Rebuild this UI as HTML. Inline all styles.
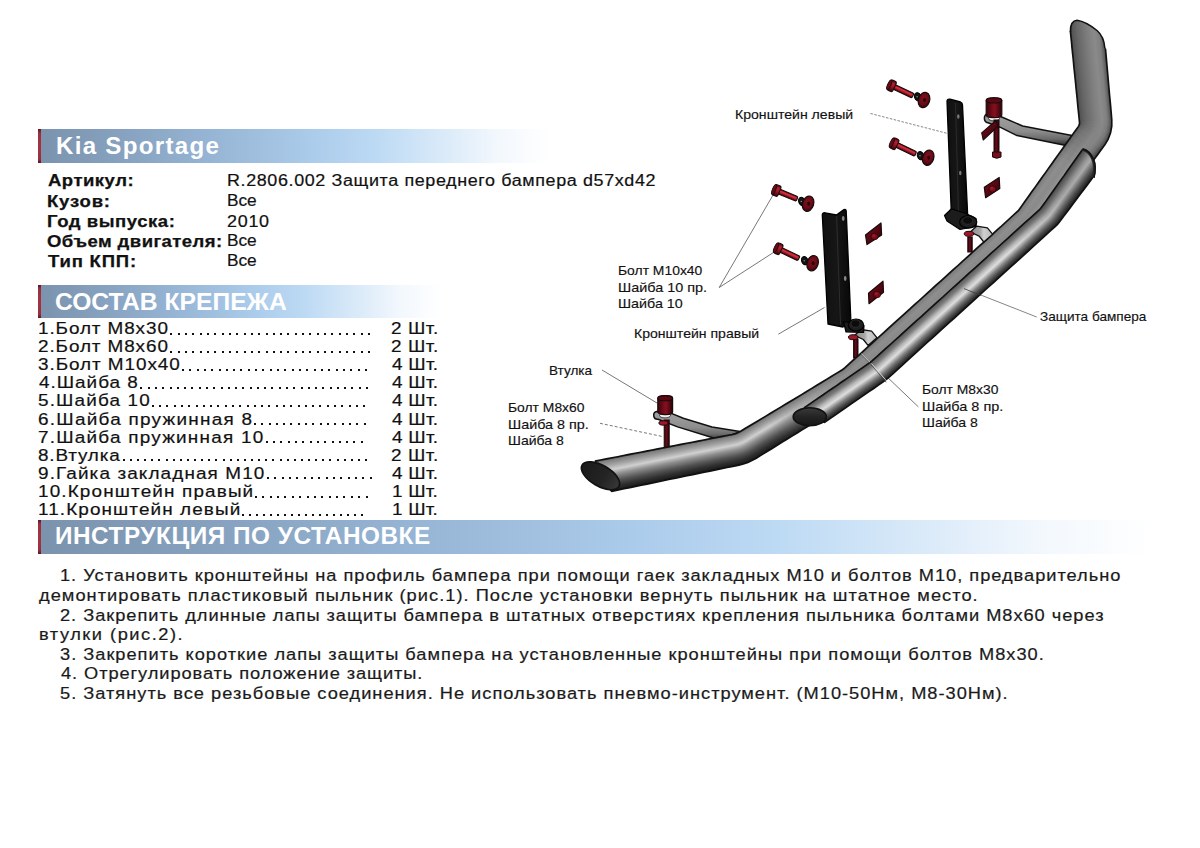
<!DOCTYPE html><html><head><meta charset="utf-8"><style>

*{margin:0;padding:0}
html,body{width:1200px;height:848px;overflow:hidden;background:#fff}
body{position:relative;font-family:"Liberation Sans",sans-serif;color:#111}
.t{position:absolute;white-space:pre;line-height:1;transform-origin:0 0}
i{position:absolute;width:2px;height:2px;background:#111}
.bar{position:absolute;left:38.6px;border-left:2.9px solid #9a2f3f;
 background:linear-gradient(90deg,#7b93ad 0%,#88a4c2 18%,#98b6d6 35%,#aacaea 52%,#bddaf4 66%,#dcebf9 80%,#f3f8fd 90%,#fff 100%);}
.bar:before{content:"";position:absolute;left:-2.9px;top:0;width:2.9px;height:100%;
 background:linear-gradient(180deg,#5a1822 0%,#9a2f3f 12%,#a5333f 50%,#9a2f3f 88%,#5a1822 100%)}

</style></head><body>
<div class="bar" style="top:129px;height:34px;width:509px"></div>
<div class="bar" style="top:285px;height:33.2px;width:400px"></div>
<div class="bar" style="top:520px;height:33.5px;width:1116px"></div>
<svg style="position:absolute;left:0;top:0" width="1200" height="848" viewBox="0 0 1200 848"><defs>
<linearGradient id="rcyl" x1="0" y1="0" x2="1" y2="0"><stop offset="0" stop-color="#3a040c"/><stop offset="0.35" stop-color="#6e0c18"/><stop offset="0.55" stop-color="#86101e"/><stop offset="1" stop-color="#2a0208"/></linearGradient>
<linearGradient id="rshaft" x1="0" y1="0" x2="0" y2="1"><stop offset="0" stop-color="#5a0812"/><stop offset="0.35" stop-color="#e0303f"/><stop offset="0.6" stop-color="#b01e2e"/><stop offset="1" stop-color="#3a040c"/></linearGradient>
<linearGradient id="rhead" x1="0" y1="0" x2="0" y2="1"><stop offset="0" stop-color="#5a0812"/><stop offset="0.3" stop-color="#b81e30"/><stop offset="0.6" stop-color="#8e1422"/><stop offset="1" stop-color="#3a040c"/></linearGradient>
<linearGradient id="rvshaft" x1="0" y1="0" x2="1" y2="0"><stop offset="0" stop-color="#2a0208"/><stop offset="0.45" stop-color="#6a0a16"/><stop offset="1" stop-color="#2a0208"/></linearGradient>
<radialGradient id="rwash" cx="0.45" cy="0.4" r="0.6"><stop offset="0" stop-color="#86101e"/><stop offset="0.7" stop-color="#640a16"/><stop offset="1" stop-color="#3a040c"/></radialGradient>
<linearGradient id="rnut" x1="0" y1="0" x2="1" y2="1"><stop offset="0" stop-color="#7a0e1a"/><stop offset="0.5" stop-color="#560812"/><stop offset="1" stop-color="#2a0208"/></linearGradient>
<linearGradient id="blk" x1="0" y1="0" x2="1" y2="0"><stop offset="0" stop-color="#101010"/><stop offset="0.5" stop-color="#161616"/><stop offset="1" stop-color="#080808"/></linearGradient>
<linearGradient id="clamp" x1="0" y1="0" x2="1" y2="0"><stop offset="0" stop-color="#8a8a8a"/><stop offset="0.45" stop-color="#a8a8a8"/><stop offset="0.6" stop-color="#d0d0d0"/><stop offset="1" stop-color="#b8b8b8"/></linearGradient>
<linearGradient id="arm" x1="0" y1="0" x2="0" y2="1"><stop offset="0" stop-color="#a2a2a2"/><stop offset="0.55" stop-color="#8e8e8e"/><stop offset="0.8" stop-color="#6a6a6a"/><stop offset="1" stop-color="#2a2a2a"/></linearGradient>
<linearGradient id="g1" gradientUnits="userSpaceOnUse" x1="1069.5" y1="22.4" x2="1102.9" y2="19.3"><stop offset="0.000" stop-color="#303030"/><stop offset="0.050" stop-color="#545454"/><stop offset="0.200" stop-color="#666666"/><stop offset="0.350" stop-color="#727272"/><stop offset="0.500" stop-color="#7e7e7e"/><stop offset="0.700" stop-color="#8a8a8a"/><stop offset="0.850" stop-color="#808080"/><stop offset="0.950" stop-color="#5e5e5e"/><stop offset="1.000" stop-color="#303030"/></linearGradient><linearGradient id="g2" gradientUnits="userSpaceOnUse" x1="1070.0" y1="28.1" x2="1103.4" y2="25.0"><stop offset="0.000" stop-color="#303030"/><stop offset="0.050" stop-color="#545454"/><stop offset="0.200" stop-color="#666666"/><stop offset="0.350" stop-color="#727272"/><stop offset="0.500" stop-color="#7e7e7e"/><stop offset="0.700" stop-color="#8a8a8a"/><stop offset="0.850" stop-color="#808080"/><stop offset="0.950" stop-color="#5e5e5e"/><stop offset="1.000" stop-color="#303030"/></linearGradient><linearGradient id="g3" gradientUnits="userSpaceOnUse" x1="1070.6" y1="33.8" x2="1103.9" y2="30.7"><stop offset="0.000" stop-color="#303030"/><stop offset="0.050" stop-color="#545454"/><stop offset="0.200" stop-color="#666666"/><stop offset="0.350" stop-color="#727272"/><stop offset="0.500" stop-color="#7e7e7e"/><stop offset="0.700" stop-color="#8a8a8a"/><stop offset="0.850" stop-color="#808080"/><stop offset="0.950" stop-color="#5e5e5e"/><stop offset="1.000" stop-color="#303030"/></linearGradient><linearGradient id="g4" gradientUnits="userSpaceOnUse" x1="1071.2" y1="39.6" x2="1104.4" y2="36.4"><stop offset="0.000" stop-color="#303030"/><stop offset="0.050" stop-color="#545454"/><stop offset="0.200" stop-color="#666666"/><stop offset="0.350" stop-color="#727272"/><stop offset="0.500" stop-color="#7e7e7e"/><stop offset="0.700" stop-color="#8a8a8a"/><stop offset="0.850" stop-color="#808080"/><stop offset="0.950" stop-color="#5e5e5e"/><stop offset="1.000" stop-color="#303030"/></linearGradient><linearGradient id="g5" gradientUnits="userSpaceOnUse" x1="1071.7" y1="45.3" x2="1104.9" y2="42.1"><stop offset="0.000" stop-color="#303030"/><stop offset="0.050" stop-color="#545454"/><stop offset="0.200" stop-color="#666666"/><stop offset="0.350" stop-color="#727272"/><stop offset="0.500" stop-color="#7e7e7e"/><stop offset="0.700" stop-color="#8a8a8a"/><stop offset="0.850" stop-color="#808080"/><stop offset="0.950" stop-color="#5e5e5e"/><stop offset="1.000" stop-color="#303030"/></linearGradient><linearGradient id="g6" gradientUnits="userSpaceOnUse" x1="1072.3" y1="51.0" x2="1105.4" y2="47.8"><stop offset="0.000" stop-color="#303030"/><stop offset="0.050" stop-color="#545454"/><stop offset="0.200" stop-color="#666666"/><stop offset="0.350" stop-color="#727272"/><stop offset="0.500" stop-color="#7e7e7e"/><stop offset="0.700" stop-color="#8a8a8a"/><stop offset="0.850" stop-color="#808080"/><stop offset="0.950" stop-color="#5e5e5e"/><stop offset="1.000" stop-color="#303030"/></linearGradient><linearGradient id="g7" gradientUnits="userSpaceOnUse" x1="1072.9" y1="56.7" x2="1105.9" y2="53.5"><stop offset="0.000" stop-color="#303030"/><stop offset="0.050" stop-color="#545454"/><stop offset="0.200" stop-color="#666666"/><stop offset="0.350" stop-color="#727272"/><stop offset="0.500" stop-color="#7e7e7e"/><stop offset="0.700" stop-color="#8a8a8a"/><stop offset="0.850" stop-color="#808080"/><stop offset="0.950" stop-color="#5e5e5e"/><stop offset="1.000" stop-color="#303030"/></linearGradient><linearGradient id="g8" gradientUnits="userSpaceOnUse" x1="1073.5" y1="62.4" x2="1106.4" y2="59.3"><stop offset="0.000" stop-color="#303030"/><stop offset="0.050" stop-color="#545454"/><stop offset="0.200" stop-color="#666666"/><stop offset="0.350" stop-color="#727272"/><stop offset="0.500" stop-color="#7e7e7e"/><stop offset="0.700" stop-color="#8a8a8a"/><stop offset="0.850" stop-color="#808080"/><stop offset="0.950" stop-color="#5e5e5e"/><stop offset="1.000" stop-color="#303030"/></linearGradient><linearGradient id="g9" gradientUnits="userSpaceOnUse" x1="1074.0" y1="68.1" x2="1107.0" y2="65.0"><stop offset="0.000" stop-color="#303030"/><stop offset="0.050" stop-color="#545454"/><stop offset="0.200" stop-color="#666666"/><stop offset="0.350" stop-color="#727272"/><stop offset="0.500" stop-color="#7e7e7e"/><stop offset="0.700" stop-color="#8a8a8a"/><stop offset="0.850" stop-color="#808080"/><stop offset="0.950" stop-color="#5e5e5e"/><stop offset="1.000" stop-color="#303030"/></linearGradient><linearGradient id="g10" gradientUnits="userSpaceOnUse" x1="1074.6" y1="73.8" x2="1107.5" y2="70.7"><stop offset="0.000" stop-color="#303030"/><stop offset="0.050" stop-color="#545454"/><stop offset="0.200" stop-color="#666666"/><stop offset="0.350" stop-color="#727272"/><stop offset="0.500" stop-color="#7e7e7e"/><stop offset="0.700" stop-color="#8a8a8a"/><stop offset="0.850" stop-color="#808080"/><stop offset="0.950" stop-color="#5e5e5e"/><stop offset="1.000" stop-color="#303030"/></linearGradient><linearGradient id="g11" gradientUnits="userSpaceOnUse" x1="1075.2" y1="79.5" x2="1108.0" y2="76.4"><stop offset="0.000" stop-color="#303030"/><stop offset="0.050" stop-color="#545454"/><stop offset="0.200" stop-color="#666666"/><stop offset="0.350" stop-color="#727272"/><stop offset="0.500" stop-color="#7e7e7e"/><stop offset="0.700" stop-color="#8a8a8a"/><stop offset="0.850" stop-color="#808080"/><stop offset="0.950" stop-color="#5e5e5e"/><stop offset="1.000" stop-color="#303030"/></linearGradient><linearGradient id="g12" gradientUnits="userSpaceOnUse" x1="1075.7" y1="85.2" x2="1108.5" y2="82.1"><stop offset="0.000" stop-color="#303030"/><stop offset="0.050" stop-color="#545454"/><stop offset="0.200" stop-color="#666666"/><stop offset="0.350" stop-color="#727272"/><stop offset="0.500" stop-color="#7e7e7e"/><stop offset="0.700" stop-color="#8a8a8a"/><stop offset="0.850" stop-color="#808080"/><stop offset="0.950" stop-color="#5e5e5e"/><stop offset="1.000" stop-color="#303030"/></linearGradient><linearGradient id="g13" gradientUnits="userSpaceOnUse" x1="1076.3" y1="90.9" x2="1109.0" y2="87.8"><stop offset="0.000" stop-color="#303030"/><stop offset="0.050" stop-color="#545454"/><stop offset="0.200" stop-color="#666666"/><stop offset="0.350" stop-color="#727272"/><stop offset="0.500" stop-color="#7e7e7e"/><stop offset="0.700" stop-color="#8a8a8a"/><stop offset="0.850" stop-color="#808080"/><stop offset="0.950" stop-color="#5e5e5e"/><stop offset="1.000" stop-color="#303030"/></linearGradient><linearGradient id="g14" gradientUnits="userSpaceOnUse" x1="1076.9" y1="96.6" x2="1109.5" y2="93.5"><stop offset="0.000" stop-color="#303030"/><stop offset="0.050" stop-color="#545454"/><stop offset="0.200" stop-color="#666666"/><stop offset="0.350" stop-color="#727272"/><stop offset="0.500" stop-color="#7e7e7e"/><stop offset="0.700" stop-color="#8a8a8a"/><stop offset="0.850" stop-color="#808080"/><stop offset="0.950" stop-color="#5e5e5e"/><stop offset="1.000" stop-color="#303030"/></linearGradient><linearGradient id="g15" gradientUnits="userSpaceOnUse" x1="1077.5" y1="102.3" x2="1110.0" y2="99.2"><stop offset="0.000" stop-color="#303030"/><stop offset="0.050" stop-color="#545454"/><stop offset="0.200" stop-color="#666666"/><stop offset="0.350" stop-color="#727272"/><stop offset="0.500" stop-color="#7e7e7e"/><stop offset="0.700" stop-color="#8a8a8a"/><stop offset="0.850" stop-color="#808080"/><stop offset="0.950" stop-color="#5e5e5e"/><stop offset="1.000" stop-color="#303030"/></linearGradient><linearGradient id="g16" gradientUnits="userSpaceOnUse" x1="1078.0" y1="108.0" x2="1110.5" y2="104.9"><stop offset="0.000" stop-color="#303030"/><stop offset="0.050" stop-color="#545454"/><stop offset="0.200" stop-color="#666666"/><stop offset="0.350" stop-color="#727272"/><stop offset="0.500" stop-color="#7e7e7e"/><stop offset="0.700" stop-color="#8a8a8a"/><stop offset="0.850" stop-color="#808080"/><stop offset="0.950" stop-color="#5e5e5e"/><stop offset="1.000" stop-color="#303030"/></linearGradient><linearGradient id="g17" gradientUnits="userSpaceOnUse" x1="1078.6" y1="113.7" x2="1111.0" y2="110.6"><stop offset="0.000" stop-color="#303030"/><stop offset="0.050" stop-color="#545454"/><stop offset="0.200" stop-color="#666666"/><stop offset="0.350" stop-color="#727272"/><stop offset="0.500" stop-color="#7e7e7e"/><stop offset="0.700" stop-color="#8a8a8a"/><stop offset="0.850" stop-color="#808080"/><stop offset="0.950" stop-color="#5e5e5e"/><stop offset="1.000" stop-color="#303030"/></linearGradient><linearGradient id="g18" gradientUnits="userSpaceOnUse" x1="1079.1" y1="119.1" x2="1111.6" y2="116.7"><stop offset="0.000" stop-color="#303030"/><stop offset="0.050" stop-color="#545454"/><stop offset="0.200" stop-color="#666666"/><stop offset="0.350" stop-color="#727272"/><stop offset="0.500" stop-color="#7e7e7e"/><stop offset="0.700" stop-color="#8a8a8a"/><stop offset="0.850" stop-color="#808080"/><stop offset="0.950" stop-color="#5e5e5e"/><stop offset="1.000" stop-color="#303030"/></linearGradient><linearGradient id="g19" gradientUnits="userSpaceOnUse" x1="1079.4" y1="122.4" x2="1111.9" y2="123.0"><stop offset="0.000" stop-color="#303030"/><stop offset="0.050" stop-color="#585858"/><stop offset="0.200" stop-color="#696969"/><stop offset="0.350" stop-color="#747474"/><stop offset="0.500" stop-color="#808080"/><stop offset="0.700" stop-color="#898989"/><stop offset="0.850" stop-color="#7d7d7d"/><stop offset="0.950" stop-color="#5b5b5b"/><stop offset="1.000" stop-color="#2f2f2f"/></linearGradient><linearGradient id="g20" gradientUnits="userSpaceOnUse" x1="1079.3" y1="123.8" x2="1111.2" y2="129.5"><stop offset="0.000" stop-color="#303030"/><stop offset="0.050" stop-color="#5a5a5a"/><stop offset="0.200" stop-color="#6c6c6c"/><stop offset="0.350" stop-color="#767676"/><stop offset="0.500" stop-color="#818181"/><stop offset="0.700" stop-color="#888888"/><stop offset="0.850" stop-color="#7a7a7a"/><stop offset="0.950" stop-color="#595959"/><stop offset="1.000" stop-color="#2e2e2e"/></linearGradient><linearGradient id="g21" gradientUnits="userSpaceOnUse" x1="1079.1" y1="124.8" x2="1109.4" y2="136.1"><stop offset="0.000" stop-color="#303030"/><stop offset="0.050" stop-color="#5d5d5d"/><stop offset="0.200" stop-color="#6f6f6f"/><stop offset="0.350" stop-color="#777777"/><stop offset="0.500" stop-color="#828282"/><stop offset="0.700" stop-color="#878787"/><stop offset="0.850" stop-color="#787878"/><stop offset="0.950" stop-color="#565656"/><stop offset="1.000" stop-color="#2d2d2d"/></linearGradient><linearGradient id="g22" gradientUnits="userSpaceOnUse" x1="1078.5" y1="126.1" x2="1106.6" y2="142.0"><stop offset="0.000" stop-color="#303030"/><stop offset="0.050" stop-color="#606060"/><stop offset="0.200" stop-color="#717171"/><stop offset="0.350" stop-color="#797979"/><stop offset="0.500" stop-color="#848484"/><stop offset="0.700" stop-color="#858585"/><stop offset="0.850" stop-color="#757575"/><stop offset="0.950" stop-color="#545454"/><stop offset="1.000" stop-color="#2b2b2b"/></linearGradient><linearGradient id="g23" gradientUnits="userSpaceOnUse" x1="1076.6" y1="128.9" x2="1103.1" y2="147.2"><stop offset="0.000" stop-color="#303030"/><stop offset="0.050" stop-color="#636363"/><stop offset="0.200" stop-color="#757575"/><stop offset="0.350" stop-color="#7b7b7b"/><stop offset="0.500" stop-color="#858585"/><stop offset="0.700" stop-color="#848484"/><stop offset="0.850" stop-color="#727272"/><stop offset="0.950" stop-color="#515151"/><stop offset="1.000" stop-color="#2a2a2a"/></linearGradient><linearGradient id="g24" gradientUnits="userSpaceOnUse" x1="1073.5" y1="133.3" x2="1099.5" y2="152.1"><stop offset="0.000" stop-color="#303030"/><stop offset="0.050" stop-color="#676767"/><stop offset="0.200" stop-color="#787878"/><stop offset="0.350" stop-color="#7d7d7d"/><stop offset="0.500" stop-color="#878787"/><stop offset="0.700" stop-color="#838383"/><stop offset="0.850" stop-color="#6e6e6e"/><stop offset="0.950" stop-color="#4d4d4d"/><stop offset="1.000" stop-color="#292929"/></linearGradient><linearGradient id="g25" gradientUnits="userSpaceOnUse" x1="1070.1" y1="138.0" x2="1096.1" y2="156.8"><stop offset="0.000" stop-color="#303030"/><stop offset="0.050" stop-color="#6b6b6b"/><stop offset="0.200" stop-color="#7c7c7c"/><stop offset="0.350" stop-color="#7f7f7f"/><stop offset="0.500" stop-color="#898989"/><stop offset="0.700" stop-color="#818181"/><stop offset="0.850" stop-color="#6b6b6b"/><stop offset="0.950" stop-color="#4a4a4a"/><stop offset="1.000" stop-color="#272727"/></linearGradient><linearGradient id="g26" gradientUnits="userSpaceOnUse" x1="1066.8" y1="142.6" x2="1092.7" y2="161.4"><stop offset="0.000" stop-color="#303030"/><stop offset="0.050" stop-color="#6f6f6f"/><stop offset="0.200" stop-color="#808080"/><stop offset="0.350" stop-color="#828282"/><stop offset="0.500" stop-color="#8b8b8b"/><stop offset="0.700" stop-color="#808080"/><stop offset="0.850" stop-color="#676767"/><stop offset="0.950" stop-color="#464646"/><stop offset="1.000" stop-color="#262626"/></linearGradient><linearGradient id="g27" gradientUnits="userSpaceOnUse" x1="1063.4" y1="147.3" x2="1089.3" y2="166.0"><stop offset="0.000" stop-color="#303030"/><stop offset="0.050" stop-color="#737373"/><stop offset="0.200" stop-color="#848484"/><stop offset="0.350" stop-color="#848484"/><stop offset="0.500" stop-color="#8d8d8d"/><stop offset="0.700" stop-color="#7e7e7e"/><stop offset="0.850" stop-color="#646464"/><stop offset="0.950" stop-color="#434343"/><stop offset="1.000" stop-color="#242424"/></linearGradient><linearGradient id="g28" gradientUnits="userSpaceOnUse" x1="1060.1" y1="152.0" x2="1085.9" y2="170.7"><stop offset="0.000" stop-color="#303030"/><stop offset="0.050" stop-color="#777777"/><stop offset="0.200" stop-color="#888888"/><stop offset="0.350" stop-color="#868686"/><stop offset="0.500" stop-color="#8f8f8f"/><stop offset="0.700" stop-color="#7c7c7c"/><stop offset="0.850" stop-color="#606060"/><stop offset="0.950" stop-color="#404040"/><stop offset="1.000" stop-color="#222222"/></linearGradient><linearGradient id="g29" gradientUnits="userSpaceOnUse" x1="1056.8" y1="156.7" x2="1082.5" y2="175.3"><stop offset="0.000" stop-color="#303030"/><stop offset="0.050" stop-color="#7b7b7b"/><stop offset="0.200" stop-color="#8c8c8c"/><stop offset="0.350" stop-color="#898989"/><stop offset="0.500" stop-color="#919191"/><stop offset="0.700" stop-color="#7b7b7b"/><stop offset="0.850" stop-color="#5c5c5c"/><stop offset="0.950" stop-color="#3c3c3c"/><stop offset="1.000" stop-color="#212121"/></linearGradient><linearGradient id="g30" gradientUnits="userSpaceOnUse" x1="1053.4" y1="161.4" x2="1079.1" y2="179.9"><stop offset="0.000" stop-color="#303030"/><stop offset="0.050" stop-color="#7e7e7e"/><stop offset="0.200" stop-color="#8e8e8e"/><stop offset="0.350" stop-color="#8a8a8a"/><stop offset="0.500" stop-color="#929292"/><stop offset="0.700" stop-color="#7a7a7a"/><stop offset="0.850" stop-color="#5a5a5a"/><stop offset="0.950" stop-color="#3a3a3a"/><stop offset="1.000" stop-color="#202020"/></linearGradient><linearGradient id="g31" gradientUnits="userSpaceOnUse" x1="1050.1" y1="166.1" x2="1075.7" y2="184.6"><stop offset="0.000" stop-color="#303030"/><stop offset="0.050" stop-color="#7e7e7e"/><stop offset="0.200" stop-color="#8e8e8e"/><stop offset="0.350" stop-color="#8a8a8a"/><stop offset="0.500" stop-color="#929292"/><stop offset="0.700" stop-color="#7a7a7a"/><stop offset="0.850" stop-color="#5a5a5a"/><stop offset="0.950" stop-color="#3a3a3a"/><stop offset="1.000" stop-color="#202020"/></linearGradient><linearGradient id="g32" gradientUnits="userSpaceOnUse" x1="1046.7" y1="170.7" x2="1072.3" y2="189.2"><stop offset="0.000" stop-color="#303030"/><stop offset="0.050" stop-color="#7e7e7e"/><stop offset="0.200" stop-color="#8e8e8e"/><stop offset="0.350" stop-color="#8a8a8a"/><stop offset="0.500" stop-color="#929292"/><stop offset="0.700" stop-color="#7a7a7a"/><stop offset="0.850" stop-color="#5a5a5a"/><stop offset="0.950" stop-color="#3a3a3a"/><stop offset="1.000" stop-color="#202020"/></linearGradient><linearGradient id="g33" gradientUnits="userSpaceOnUse" x1="1043.4" y1="175.4" x2="1068.9" y2="193.8"><stop offset="0.000" stop-color="#303030"/><stop offset="0.050" stop-color="#7e7e7e"/><stop offset="0.200" stop-color="#8e8e8e"/><stop offset="0.350" stop-color="#8a8a8a"/><stop offset="0.500" stop-color="#929292"/><stop offset="0.700" stop-color="#7a7a7a"/><stop offset="0.850" stop-color="#5a5a5a"/><stop offset="0.950" stop-color="#3a3a3a"/><stop offset="1.000" stop-color="#202020"/></linearGradient><linearGradient id="g34" gradientUnits="userSpaceOnUse" x1="1040.1" y1="180.1" x2="1065.4" y2="198.5"><stop offset="0.000" stop-color="#303030"/><stop offset="0.050" stop-color="#7e7e7e"/><stop offset="0.200" stop-color="#8e8e8e"/><stop offset="0.350" stop-color="#8a8a8a"/><stop offset="0.500" stop-color="#929292"/><stop offset="0.700" stop-color="#7a7a7a"/><stop offset="0.850" stop-color="#5a5a5a"/><stop offset="0.950" stop-color="#3a3a3a"/><stop offset="1.000" stop-color="#202020"/></linearGradient><linearGradient id="g35" gradientUnits="userSpaceOnUse" x1="1036.7" y1="184.8" x2="1062.0" y2="203.1"><stop offset="0.000" stop-color="#303030"/><stop offset="0.050" stop-color="#7e7e7e"/><stop offset="0.200" stop-color="#8e8e8e"/><stop offset="0.350" stop-color="#8a8a8a"/><stop offset="0.500" stop-color="#929292"/><stop offset="0.700" stop-color="#7a7a7a"/><stop offset="0.850" stop-color="#5a5a5a"/><stop offset="0.950" stop-color="#3a3a3a"/><stop offset="1.000" stop-color="#202020"/></linearGradient><linearGradient id="g36" gradientUnits="userSpaceOnUse" x1="1033.4" y1="189.5" x2="1058.6" y2="207.8"><stop offset="0.000" stop-color="#303030"/><stop offset="0.050" stop-color="#7e7e7e"/><stop offset="0.200" stop-color="#8e8e8e"/><stop offset="0.350" stop-color="#8a8a8a"/><stop offset="0.500" stop-color="#929292"/><stop offset="0.700" stop-color="#7a7a7a"/><stop offset="0.850" stop-color="#5a5a5a"/><stop offset="0.950" stop-color="#3a3a3a"/><stop offset="1.000" stop-color="#202020"/></linearGradient><linearGradient id="g37" gradientUnits="userSpaceOnUse" x1="1030.1" y1="194.2" x2="1055.2" y2="212.4"><stop offset="0.000" stop-color="#303030"/><stop offset="0.050" stop-color="#7e7e7e"/><stop offset="0.200" stop-color="#8e8e8e"/><stop offset="0.350" stop-color="#8a8a8a"/><stop offset="0.500" stop-color="#929292"/><stop offset="0.700" stop-color="#7a7a7a"/><stop offset="0.850" stop-color="#5a5a5a"/><stop offset="0.950" stop-color="#3a3a3a"/><stop offset="1.000" stop-color="#202020"/></linearGradient><linearGradient id="g38" gradientUnits="userSpaceOnUse" x1="1026.7" y1="198.8" x2="1051.8" y2="217.0"><stop offset="0.000" stop-color="#303030"/><stop offset="0.050" stop-color="#7e7e7e"/><stop offset="0.200" stop-color="#8e8e8e"/><stop offset="0.350" stop-color="#8a8a8a"/><stop offset="0.500" stop-color="#929292"/><stop offset="0.700" stop-color="#7a7a7a"/><stop offset="0.850" stop-color="#5a5a5a"/><stop offset="0.950" stop-color="#3a3a3a"/><stop offset="1.000" stop-color="#202020"/></linearGradient><linearGradient id="g39" gradientUnits="userSpaceOnUse" x1="1023.4" y1="203.5" x2="1048.4" y2="221.7"><stop offset="0.000" stop-color="#303030"/><stop offset="0.050" stop-color="#7e7e7e"/><stop offset="0.200" stop-color="#8e8e8e"/><stop offset="0.350" stop-color="#8a8a8a"/><stop offset="0.500" stop-color="#929292"/><stop offset="0.700" stop-color="#7a7a7a"/><stop offset="0.850" stop-color="#5a5a5a"/><stop offset="0.950" stop-color="#3a3a3a"/><stop offset="1.000" stop-color="#202020"/></linearGradient><linearGradient id="g40" gradientUnits="userSpaceOnUse" x1="1020.2" y1="208.1" x2="1044.9" y2="226.5"><stop offset="0.000" stop-color="#303030"/><stop offset="0.050" stop-color="#7e7e7e"/><stop offset="0.200" stop-color="#8e8e8e"/><stop offset="0.350" stop-color="#8a8a8a"/><stop offset="0.500" stop-color="#929292"/><stop offset="0.700" stop-color="#7a7a7a"/><stop offset="0.850" stop-color="#5a5a5a"/><stop offset="0.950" stop-color="#3a3a3a"/><stop offset="1.000" stop-color="#202020"/></linearGradient><linearGradient id="g41" gradientUnits="userSpaceOnUse" x1="1018.6" y1="210.3" x2="1042.3" y2="229.9"><stop offset="0.000" stop-color="#303030"/><stop offset="0.050" stop-color="#7e7e7e"/><stop offset="0.200" stop-color="#8e8e8e"/><stop offset="0.350" stop-color="#8a8a8a"/><stop offset="0.500" stop-color="#929292"/><stop offset="0.700" stop-color="#7a7a7a"/><stop offset="0.850" stop-color="#5a5a5a"/><stop offset="0.950" stop-color="#3a3a3a"/><stop offset="1.000" stop-color="#202020"/></linearGradient><linearGradient id="g42" gradientUnits="userSpaceOnUse" x1="1018.6" y1="210.3" x2="1040.7" y2="231.7"><stop offset="0.000" stop-color="#303030"/><stop offset="0.050" stop-color="#7e7e7e"/><stop offset="0.200" stop-color="#8e8e8e"/><stop offset="0.350" stop-color="#8a8a8a"/><stop offset="0.500" stop-color="#929292"/><stop offset="0.700" stop-color="#7a7a7a"/><stop offset="0.850" stop-color="#5a5a5a"/><stop offset="0.950" stop-color="#3a3a3a"/><stop offset="1.000" stop-color="#202020"/></linearGradient><linearGradient id="g43" gradientUnits="userSpaceOnUse" x1="1016.5" y1="212.2" x2="1037.4" y2="234.7"><stop offset="0.000" stop-color="#303030"/><stop offset="0.050" stop-color="#7e7e7e"/><stop offset="0.200" stop-color="#8e8e8e"/><stop offset="0.350" stop-color="#8a8a8a"/><stop offset="0.500" stop-color="#929292"/><stop offset="0.700" stop-color="#7a7a7a"/><stop offset="0.850" stop-color="#5a5a5a"/><stop offset="0.950" stop-color="#3a3a3a"/><stop offset="1.000" stop-color="#202020"/></linearGradient><linearGradient id="g44" gradientUnits="userSpaceOnUse" x1="1012.3" y1="216.0" x2="1032.9" y2="238.7"><stop offset="0.000" stop-color="#303030"/><stop offset="0.050" stop-color="#7e7e7e"/><stop offset="0.200" stop-color="#8e8e8e"/><stop offset="0.350" stop-color="#8a8a8a"/><stop offset="0.500" stop-color="#929292"/><stop offset="0.700" stop-color="#7a7a7a"/><stop offset="0.850" stop-color="#5a5a5a"/><stop offset="0.950" stop-color="#3a3a3a"/><stop offset="1.000" stop-color="#202020"/></linearGradient><linearGradient id="g45" gradientUnits="userSpaceOnUse" x1="1008.0" y1="220.0" x2="1028.5" y2="242.6"><stop offset="0.000" stop-color="#303030"/><stop offset="0.050" stop-color="#7e7e7e"/><stop offset="0.200" stop-color="#8e8e8e"/><stop offset="0.350" stop-color="#8a8a8a"/><stop offset="0.500" stop-color="#929292"/><stop offset="0.700" stop-color="#7a7a7a"/><stop offset="0.850" stop-color="#5a5a5a"/><stop offset="0.950" stop-color="#3a3a3a"/><stop offset="1.000" stop-color="#202020"/></linearGradient><linearGradient id="g46" gradientUnits="userSpaceOnUse" x1="1003.7" y1="224.0" x2="1024.1" y2="246.6"><stop offset="0.000" stop-color="#303030"/><stop offset="0.050" stop-color="#7e7e7e"/><stop offset="0.200" stop-color="#8e8e8e"/><stop offset="0.350" stop-color="#8a8a8a"/><stop offset="0.500" stop-color="#929292"/><stop offset="0.700" stop-color="#7a7a7a"/><stop offset="0.850" stop-color="#5a5a5a"/><stop offset="0.950" stop-color="#3a3a3a"/><stop offset="1.000" stop-color="#202020"/></linearGradient><linearGradient id="g47" gradientUnits="userSpaceOnUse" x1="999.3" y1="227.9" x2="1019.7" y2="250.5"><stop offset="0.000" stop-color="#303030"/><stop offset="0.050" stop-color="#7e7e7e"/><stop offset="0.200" stop-color="#8e8e8e"/><stop offset="0.350" stop-color="#8a8a8a"/><stop offset="0.500" stop-color="#929292"/><stop offset="0.700" stop-color="#7a7a7a"/><stop offset="0.850" stop-color="#5a5a5a"/><stop offset="0.950" stop-color="#3a3a3a"/><stop offset="1.000" stop-color="#202020"/></linearGradient><linearGradient id="g48" gradientUnits="userSpaceOnUse" x1="995.0" y1="231.9" x2="1015.4" y2="254.4"><stop offset="0.000" stop-color="#303030"/><stop offset="0.050" stop-color="#7e7e7e"/><stop offset="0.200" stop-color="#8e8e8e"/><stop offset="0.350" stop-color="#8a8a8a"/><stop offset="0.500" stop-color="#929292"/><stop offset="0.700" stop-color="#7a7a7a"/><stop offset="0.850" stop-color="#5a5a5a"/><stop offset="0.950" stop-color="#3a3a3a"/><stop offset="1.000" stop-color="#202020"/></linearGradient><linearGradient id="g49" gradientUnits="userSpaceOnUse" x1="990.6" y1="235.8" x2="1011.0" y2="258.4"><stop offset="0.000" stop-color="#303030"/><stop offset="0.050" stop-color="#7e7e7e"/><stop offset="0.200" stop-color="#8e8e8e"/><stop offset="0.350" stop-color="#8a8a8a"/><stop offset="0.500" stop-color="#929292"/><stop offset="0.700" stop-color="#7a7a7a"/><stop offset="0.850" stop-color="#5a5a5a"/><stop offset="0.950" stop-color="#3a3a3a"/><stop offset="1.000" stop-color="#202020"/></linearGradient><linearGradient id="g50" gradientUnits="userSpaceOnUse" x1="986.2" y1="239.8" x2="1006.6" y2="262.3"><stop offset="0.000" stop-color="#303030"/><stop offset="0.050" stop-color="#7e7e7e"/><stop offset="0.200" stop-color="#8e8e8e"/><stop offset="0.350" stop-color="#8a8a8a"/><stop offset="0.500" stop-color="#929292"/><stop offset="0.700" stop-color="#7a7a7a"/><stop offset="0.850" stop-color="#5a5a5a"/><stop offset="0.950" stop-color="#3a3a3a"/><stop offset="1.000" stop-color="#202020"/></linearGradient><linearGradient id="g51" gradientUnits="userSpaceOnUse" x1="981.9" y1="243.7" x2="1002.3" y2="266.3"><stop offset="0.000" stop-color="#303030"/><stop offset="0.050" stop-color="#7e7e7e"/><stop offset="0.200" stop-color="#8e8e8e"/><stop offset="0.350" stop-color="#8a8a8a"/><stop offset="0.500" stop-color="#929292"/><stop offset="0.700" stop-color="#7a7a7a"/><stop offset="0.850" stop-color="#5a5a5a"/><stop offset="0.950" stop-color="#3a3a3a"/><stop offset="1.000" stop-color="#202020"/></linearGradient><linearGradient id="g52" gradientUnits="userSpaceOnUse" x1="977.5" y1="247.7" x2="997.9" y2="270.2"><stop offset="0.000" stop-color="#303030"/><stop offset="0.050" stop-color="#7e7e7e"/><stop offset="0.200" stop-color="#8e8e8e"/><stop offset="0.350" stop-color="#8a8a8a"/><stop offset="0.500" stop-color="#929292"/><stop offset="0.700" stop-color="#7a7a7a"/><stop offset="0.850" stop-color="#5a5a5a"/><stop offset="0.950" stop-color="#3a3a3a"/><stop offset="1.000" stop-color="#202020"/></linearGradient><linearGradient id="g53" gradientUnits="userSpaceOnUse" x1="973.1" y1="251.6" x2="993.5" y2="274.2"><stop offset="0.000" stop-color="#303030"/><stop offset="0.050" stop-color="#7e7e7e"/><stop offset="0.200" stop-color="#8e8e8e"/><stop offset="0.350" stop-color="#8a8a8a"/><stop offset="0.500" stop-color="#929292"/><stop offset="0.700" stop-color="#7a7a7a"/><stop offset="0.850" stop-color="#5a5a5a"/><stop offset="0.950" stop-color="#3a3a3a"/><stop offset="1.000" stop-color="#202020"/></linearGradient><linearGradient id="g54" gradientUnits="userSpaceOnUse" x1="968.8" y1="255.6" x2="989.2" y2="278.1"><stop offset="0.000" stop-color="#303030"/><stop offset="0.050" stop-color="#7e7e7e"/><stop offset="0.200" stop-color="#8e8e8e"/><stop offset="0.350" stop-color="#8a8a8a"/><stop offset="0.500" stop-color="#929292"/><stop offset="0.700" stop-color="#7a7a7a"/><stop offset="0.850" stop-color="#5a5a5a"/><stop offset="0.950" stop-color="#3a3a3a"/><stop offset="1.000" stop-color="#202020"/></linearGradient><linearGradient id="g55" gradientUnits="userSpaceOnUse" x1="964.4" y1="259.5" x2="984.8" y2="282.1"><stop offset="0.000" stop-color="#303030"/><stop offset="0.050" stop-color="#7e7e7e"/><stop offset="0.200" stop-color="#8e8e8e"/><stop offset="0.350" stop-color="#8a8a8a"/><stop offset="0.500" stop-color="#929292"/><stop offset="0.700" stop-color="#7a7a7a"/><stop offset="0.850" stop-color="#5a5a5a"/><stop offset="0.950" stop-color="#3a3a3a"/><stop offset="1.000" stop-color="#202020"/></linearGradient><linearGradient id="g56" gradientUnits="userSpaceOnUse" x1="960.1" y1="263.5" x2="980.4" y2="286.0"><stop offset="0.000" stop-color="#303030"/><stop offset="0.050" stop-color="#7e7e7e"/><stop offset="0.200" stop-color="#8e8e8e"/><stop offset="0.350" stop-color="#8a8a8a"/><stop offset="0.500" stop-color="#929292"/><stop offset="0.700" stop-color="#7a7a7a"/><stop offset="0.850" stop-color="#5a5a5a"/><stop offset="0.950" stop-color="#3a3a3a"/><stop offset="1.000" stop-color="#202020"/></linearGradient><linearGradient id="g57" gradientUnits="userSpaceOnUse" x1="955.7" y1="267.4" x2="976.1" y2="290.0"><stop offset="0.000" stop-color="#303030"/><stop offset="0.050" stop-color="#7e7e7e"/><stop offset="0.200" stop-color="#8e8e8e"/><stop offset="0.350" stop-color="#8a8a8a"/><stop offset="0.500" stop-color="#929292"/><stop offset="0.700" stop-color="#7a7a7a"/><stop offset="0.850" stop-color="#5a5a5a"/><stop offset="0.950" stop-color="#3a3a3a"/><stop offset="1.000" stop-color="#202020"/></linearGradient><linearGradient id="g58" gradientUnits="userSpaceOnUse" x1="951.3" y1="271.4" x2="971.7" y2="293.9"><stop offset="0.000" stop-color="#303030"/><stop offset="0.050" stop-color="#7e7e7e"/><stop offset="0.200" stop-color="#8e8e8e"/><stop offset="0.350" stop-color="#8a8a8a"/><stop offset="0.500" stop-color="#929292"/><stop offset="0.700" stop-color="#7a7a7a"/><stop offset="0.850" stop-color="#5a5a5a"/><stop offset="0.950" stop-color="#3a3a3a"/><stop offset="1.000" stop-color="#202020"/></linearGradient><linearGradient id="g59" gradientUnits="userSpaceOnUse" x1="947.0" y1="275.3" x2="967.4" y2="297.9"><stop offset="0.000" stop-color="#303030"/><stop offset="0.050" stop-color="#7e7e7e"/><stop offset="0.200" stop-color="#8e8e8e"/><stop offset="0.350" stop-color="#8a8a8a"/><stop offset="0.500" stop-color="#929292"/><stop offset="0.700" stop-color="#7a7a7a"/><stop offset="0.850" stop-color="#5a5a5a"/><stop offset="0.950" stop-color="#3a3a3a"/><stop offset="1.000" stop-color="#202020"/></linearGradient><linearGradient id="g60" gradientUnits="userSpaceOnUse" x1="942.6" y1="279.3" x2="963.0" y2="301.8"><stop offset="0.000" stop-color="#303030"/><stop offset="0.050" stop-color="#7e7e7e"/><stop offset="0.200" stop-color="#8e8e8e"/><stop offset="0.350" stop-color="#8a8a8a"/><stop offset="0.500" stop-color="#929292"/><stop offset="0.700" stop-color="#7a7a7a"/><stop offset="0.850" stop-color="#5a5a5a"/><stop offset="0.950" stop-color="#3a3a3a"/><stop offset="1.000" stop-color="#202020"/></linearGradient><linearGradient id="g61" gradientUnits="userSpaceOnUse" x1="938.2" y1="283.2" x2="958.6" y2="305.8"><stop offset="0.000" stop-color="#303030"/><stop offset="0.050" stop-color="#7e7e7e"/><stop offset="0.200" stop-color="#8e8e8e"/><stop offset="0.350" stop-color="#8a8a8a"/><stop offset="0.500" stop-color="#929292"/><stop offset="0.700" stop-color="#7a7a7a"/><stop offset="0.850" stop-color="#5a5a5a"/><stop offset="0.950" stop-color="#3a3a3a"/><stop offset="1.000" stop-color="#202020"/></linearGradient><linearGradient id="g62" gradientUnits="userSpaceOnUse" x1="933.9" y1="287.2" x2="954.3" y2="309.7"><stop offset="0.000" stop-color="#303030"/><stop offset="0.050" stop-color="#7e7e7e"/><stop offset="0.200" stop-color="#8e8e8e"/><stop offset="0.350" stop-color="#8a8a8a"/><stop offset="0.500" stop-color="#929292"/><stop offset="0.700" stop-color="#7a7a7a"/><stop offset="0.850" stop-color="#5a5a5a"/><stop offset="0.950" stop-color="#3a3a3a"/><stop offset="1.000" stop-color="#202020"/></linearGradient><linearGradient id="g63" gradientUnits="userSpaceOnUse" x1="929.5" y1="291.1" x2="949.9" y2="313.7"><stop offset="0.000" stop-color="#303030"/><stop offset="0.050" stop-color="#7e7e7e"/><stop offset="0.200" stop-color="#8e8e8e"/><stop offset="0.350" stop-color="#8a8a8a"/><stop offset="0.500" stop-color="#929292"/><stop offset="0.700" stop-color="#7a7a7a"/><stop offset="0.850" stop-color="#5a5a5a"/><stop offset="0.950" stop-color="#3a3a3a"/><stop offset="1.000" stop-color="#202020"/></linearGradient><linearGradient id="g64" gradientUnits="userSpaceOnUse" x1="925.1" y1="295.1" x2="945.5" y2="317.6"><stop offset="0.000" stop-color="#303030"/><stop offset="0.050" stop-color="#7e7e7e"/><stop offset="0.200" stop-color="#8e8e8e"/><stop offset="0.350" stop-color="#8a8a8a"/><stop offset="0.500" stop-color="#929292"/><stop offset="0.700" stop-color="#7a7a7a"/><stop offset="0.850" stop-color="#5a5a5a"/><stop offset="0.950" stop-color="#3a3a3a"/><stop offset="1.000" stop-color="#202020"/></linearGradient><linearGradient id="g65" gradientUnits="userSpaceOnUse" x1="920.8" y1="299.0" x2="941.2" y2="321.6"><stop offset="0.000" stop-color="#303030"/><stop offset="0.050" stop-color="#7e7e7e"/><stop offset="0.200" stop-color="#8e8e8e"/><stop offset="0.350" stop-color="#8a8a8a"/><stop offset="0.500" stop-color="#929292"/><stop offset="0.700" stop-color="#7a7a7a"/><stop offset="0.850" stop-color="#5a5a5a"/><stop offset="0.950" stop-color="#3a3a3a"/><stop offset="1.000" stop-color="#202020"/></linearGradient><linearGradient id="g66" gradientUnits="userSpaceOnUse" x1="916.4" y1="303.0" x2="936.8" y2="325.5"><stop offset="0.000" stop-color="#303030"/><stop offset="0.050" stop-color="#7e7e7e"/><stop offset="0.200" stop-color="#8e8e8e"/><stop offset="0.350" stop-color="#8a8a8a"/><stop offset="0.500" stop-color="#929292"/><stop offset="0.700" stop-color="#7a7a7a"/><stop offset="0.850" stop-color="#5a5a5a"/><stop offset="0.950" stop-color="#3a3a3a"/><stop offset="1.000" stop-color="#202020"/></linearGradient><linearGradient id="g67" gradientUnits="userSpaceOnUse" x1="912.0" y1="306.9" x2="932.4" y2="329.5"><stop offset="0.000" stop-color="#303030"/><stop offset="0.050" stop-color="#7e7e7e"/><stop offset="0.200" stop-color="#8e8e8e"/><stop offset="0.350" stop-color="#8a8a8a"/><stop offset="0.500" stop-color="#929292"/><stop offset="0.700" stop-color="#7a7a7a"/><stop offset="0.850" stop-color="#5a5a5a"/><stop offset="0.950" stop-color="#3a3a3a"/><stop offset="1.000" stop-color="#202020"/></linearGradient><linearGradient id="g68" gradientUnits="userSpaceOnUse" x1="907.7" y1="310.9" x2="928.1" y2="333.4"><stop offset="0.000" stop-color="#303030"/><stop offset="0.050" stop-color="#7e7e7e"/><stop offset="0.200" stop-color="#8e8e8e"/><stop offset="0.350" stop-color="#8a8a8a"/><stop offset="0.500" stop-color="#929292"/><stop offset="0.700" stop-color="#7a7a7a"/><stop offset="0.850" stop-color="#5a5a5a"/><stop offset="0.950" stop-color="#3a3a3a"/><stop offset="1.000" stop-color="#202020"/></linearGradient><linearGradient id="g69" gradientUnits="userSpaceOnUse" x1="903.3" y1="314.8" x2="923.7" y2="337.4"><stop offset="0.000" stop-color="#303030"/><stop offset="0.050" stop-color="#7e7e7e"/><stop offset="0.200" stop-color="#8e8e8e"/><stop offset="0.350" stop-color="#8a8a8a"/><stop offset="0.500" stop-color="#929292"/><stop offset="0.700" stop-color="#7a7a7a"/><stop offset="0.850" stop-color="#5a5a5a"/><stop offset="0.950" stop-color="#3a3a3a"/><stop offset="1.000" stop-color="#202020"/></linearGradient><linearGradient id="g70" gradientUnits="userSpaceOnUse" x1="899.0" y1="318.8" x2="919.4" y2="341.3"><stop offset="0.000" stop-color="#303030"/><stop offset="0.050" stop-color="#7e7e7e"/><stop offset="0.200" stop-color="#8e8e8e"/><stop offset="0.350" stop-color="#8a8a8a"/><stop offset="0.500" stop-color="#929292"/><stop offset="0.700" stop-color="#7a7a7a"/><stop offset="0.850" stop-color="#5a5a5a"/><stop offset="0.950" stop-color="#3a3a3a"/><stop offset="1.000" stop-color="#202020"/></linearGradient><linearGradient id="g71" gradientUnits="userSpaceOnUse" x1="894.6" y1="322.7" x2="915.0" y2="345.3"><stop offset="0.000" stop-color="#303030"/><stop offset="0.050" stop-color="#7e7e7e"/><stop offset="0.200" stop-color="#8e8e8e"/><stop offset="0.350" stop-color="#8a8a8a"/><stop offset="0.500" stop-color="#929292"/><stop offset="0.700" stop-color="#7a7a7a"/><stop offset="0.850" stop-color="#5a5a5a"/><stop offset="0.950" stop-color="#3a3a3a"/><stop offset="1.000" stop-color="#202020"/></linearGradient><linearGradient id="g72" gradientUnits="userSpaceOnUse" x1="890.2" y1="326.7" x2="910.6" y2="349.2"><stop offset="0.000" stop-color="#303030"/><stop offset="0.050" stop-color="#7e7e7e"/><stop offset="0.200" stop-color="#8e8e8e"/><stop offset="0.350" stop-color="#8a8a8a"/><stop offset="0.500" stop-color="#929292"/><stop offset="0.700" stop-color="#7a7a7a"/><stop offset="0.850" stop-color="#5a5a5a"/><stop offset="0.950" stop-color="#3a3a3a"/><stop offset="1.000" stop-color="#202020"/></linearGradient><linearGradient id="g73" gradientUnits="userSpaceOnUse" x1="885.9" y1="330.6" x2="906.3" y2="353.2"><stop offset="0.000" stop-color="#303030"/><stop offset="0.050" stop-color="#7e7e7e"/><stop offset="0.200" stop-color="#8e8e8e"/><stop offset="0.350" stop-color="#8a8a8a"/><stop offset="0.500" stop-color="#929292"/><stop offset="0.700" stop-color="#7a7a7a"/><stop offset="0.850" stop-color="#5a5a5a"/><stop offset="0.950" stop-color="#3a3a3a"/><stop offset="1.000" stop-color="#202020"/></linearGradient><linearGradient id="g74" gradientUnits="userSpaceOnUse" x1="881.5" y1="334.6" x2="901.9" y2="357.1"><stop offset="0.000" stop-color="#303030"/><stop offset="0.050" stop-color="#7e7e7e"/><stop offset="0.200" stop-color="#8e8e8e"/><stop offset="0.350" stop-color="#8a8a8a"/><stop offset="0.500" stop-color="#929292"/><stop offset="0.700" stop-color="#7a7a7a"/><stop offset="0.850" stop-color="#5a5a5a"/><stop offset="0.950" stop-color="#3a3a3a"/><stop offset="1.000" stop-color="#202020"/></linearGradient><linearGradient id="g75" gradientUnits="userSpaceOnUse" x1="877.1" y1="338.5" x2="897.5" y2="361.1"><stop offset="0.000" stop-color="#303030"/><stop offset="0.050" stop-color="#7e7e7e"/><stop offset="0.200" stop-color="#8e8e8e"/><stop offset="0.350" stop-color="#8a8a8a"/><stop offset="0.500" stop-color="#929292"/><stop offset="0.700" stop-color="#7a7a7a"/><stop offset="0.850" stop-color="#5a5a5a"/><stop offset="0.950" stop-color="#3a3a3a"/><stop offset="1.000" stop-color="#202020"/></linearGradient><linearGradient id="g76" gradientUnits="userSpaceOnUse" x1="872.8" y1="342.5" x2="893.2" y2="365.0"><stop offset="0.000" stop-color="#303030"/><stop offset="0.050" stop-color="#7e7e7e"/><stop offset="0.200" stop-color="#8e8e8e"/><stop offset="0.350" stop-color="#8a8a8a"/><stop offset="0.500" stop-color="#929292"/><stop offset="0.700" stop-color="#7a7a7a"/><stop offset="0.850" stop-color="#5a5a5a"/><stop offset="0.950" stop-color="#3a3a3a"/><stop offset="1.000" stop-color="#202020"/></linearGradient><linearGradient id="g77" gradientUnits="userSpaceOnUse" x1="868.4" y1="346.4" x2="888.8" y2="369.0"><stop offset="0.000" stop-color="#303030"/><stop offset="0.050" stop-color="#7e7e7e"/><stop offset="0.200" stop-color="#8e8e8e"/><stop offset="0.350" stop-color="#8a8a8a"/><stop offset="0.500" stop-color="#929292"/><stop offset="0.700" stop-color="#7a7a7a"/><stop offset="0.850" stop-color="#5a5a5a"/><stop offset="0.950" stop-color="#3a3a3a"/><stop offset="1.000" stop-color="#202020"/></linearGradient><linearGradient id="g78" gradientUnits="userSpaceOnUse" x1="864.0" y1="350.4" x2="884.4" y2="372.9"><stop offset="0.000" stop-color="#303030"/><stop offset="0.050" stop-color="#7e7e7e"/><stop offset="0.200" stop-color="#8e8e8e"/><stop offset="0.350" stop-color="#8a8a8a"/><stop offset="0.500" stop-color="#929292"/><stop offset="0.700" stop-color="#7a7a7a"/><stop offset="0.850" stop-color="#5a5a5a"/><stop offset="0.950" stop-color="#3a3a3a"/><stop offset="1.000" stop-color="#202020"/></linearGradient><linearGradient id="g79" gradientUnits="userSpaceOnUse" x1="859.7" y1="354.3" x2="880.1" y2="376.9"><stop offset="0.000" stop-color="#303030"/><stop offset="0.050" stop-color="#7e7e7e"/><stop offset="0.200" stop-color="#8e8e8e"/><stop offset="0.350" stop-color="#8a8a8a"/><stop offset="0.500" stop-color="#929292"/><stop offset="0.700" stop-color="#7a7a7a"/><stop offset="0.850" stop-color="#5a5a5a"/><stop offset="0.950" stop-color="#3a3a3a"/><stop offset="1.000" stop-color="#202020"/></linearGradient><linearGradient id="g80" gradientUnits="userSpaceOnUse" x1="855.3" y1="358.3" x2="875.7" y2="380.8"><stop offset="0.000" stop-color="#303030"/><stop offset="0.050" stop-color="#7e7e7e"/><stop offset="0.200" stop-color="#8e8e8e"/><stop offset="0.350" stop-color="#8a8a8a"/><stop offset="0.500" stop-color="#929292"/><stop offset="0.700" stop-color="#7a7a7a"/><stop offset="0.850" stop-color="#5a5a5a"/><stop offset="0.950" stop-color="#3a3a3a"/><stop offset="1.000" stop-color="#202020"/></linearGradient><linearGradient id="g81" gradientUnits="userSpaceOnUse" x1="850.9" y1="362.2" x2="871.3" y2="384.7"><stop offset="0.000" stop-color="#303030"/><stop offset="0.050" stop-color="#7e7e7e"/><stop offset="0.200" stop-color="#8e8e8e"/><stop offset="0.350" stop-color="#8a8a8a"/><stop offset="0.500" stop-color="#929292"/><stop offset="0.700" stop-color="#7a7a7a"/><stop offset="0.850" stop-color="#5a5a5a"/><stop offset="0.950" stop-color="#3a3a3a"/><stop offset="1.000" stop-color="#202020"/></linearGradient><linearGradient id="g82" gradientUnits="userSpaceOnUse" x1="846.7" y1="366.0" x2="866.8" y2="388.8"><stop offset="0.000" stop-color="#303030"/><stop offset="0.050" stop-color="#7e7e7e"/><stop offset="0.200" stop-color="#8e8e8e"/><stop offset="0.350" stop-color="#8a8a8a"/><stop offset="0.500" stop-color="#929292"/><stop offset="0.700" stop-color="#7a7a7a"/><stop offset="0.850" stop-color="#5a5a5a"/><stop offset="0.950" stop-color="#3a3a3a"/><stop offset="1.000" stop-color="#202020"/></linearGradient><linearGradient id="g83" gradientUnits="userSpaceOnUse" x1="844.0" y1="368.4" x2="863.0" y2="392.1"><stop offset="0.000" stop-color="#303030"/><stop offset="0.050" stop-color="#7e7e7e"/><stop offset="0.200" stop-color="#8e8e8e"/><stop offset="0.350" stop-color="#8a8a8a"/><stop offset="0.500" stop-color="#929292"/><stop offset="0.700" stop-color="#7a7a7a"/><stop offset="0.850" stop-color="#5a5a5a"/><stop offset="0.950" stop-color="#3a3a3a"/><stop offset="1.000" stop-color="#202020"/></linearGradient><linearGradient id="g84" gradientUnits="userSpaceOnUse" x1="842.6" y1="369.5" x2="859.9" y2="394.5"><stop offset="0.000" stop-color="#303030"/><stop offset="0.050" stop-color="#7e7e7e"/><stop offset="0.200" stop-color="#8e8e8e"/><stop offset="0.350" stop-color="#8a8a8a"/><stop offset="0.500" stop-color="#929292"/><stop offset="0.700" stop-color="#7a7a7a"/><stop offset="0.850" stop-color="#5a5a5a"/><stop offset="0.950" stop-color="#3a3a3a"/><stop offset="1.000" stop-color="#202020"/></linearGradient><linearGradient id="g85" gradientUnits="userSpaceOnUse" x1="839.5" y1="371.4" x2="855.6" y2="397.2"><stop offset="0.000" stop-color="#303030"/><stop offset="0.050" stop-color="#7e7e7e"/><stop offset="0.200" stop-color="#8e8e8e"/><stop offset="0.350" stop-color="#8a8a8a"/><stop offset="0.500" stop-color="#929292"/><stop offset="0.700" stop-color="#7a7a7a"/><stop offset="0.850" stop-color="#5a5a5a"/><stop offset="0.950" stop-color="#3a3a3a"/><stop offset="1.000" stop-color="#202020"/></linearGradient><linearGradient id="g86" gradientUnits="userSpaceOnUse" x1="834.5" y1="374.4" x2="850.4" y2="400.4"><stop offset="0.000" stop-color="#303030"/><stop offset="0.050" stop-color="#7e7e7e"/><stop offset="0.200" stop-color="#8f8f8f"/><stop offset="0.350" stop-color="#8e8e8e"/><stop offset="0.500" stop-color="#929292"/><stop offset="0.700" stop-color="#787878"/><stop offset="0.850" stop-color="#585858"/><stop offset="0.950" stop-color="#393939"/><stop offset="1.000" stop-color="#1f1f1f"/></linearGradient><linearGradient id="g87" gradientUnits="userSpaceOnUse" x1="829.5" y1="377.5" x2="845.3" y2="403.5"><stop offset="0.000" stop-color="#2f2f2f"/><stop offset="0.050" stop-color="#7e7e7e"/><stop offset="0.200" stop-color="#909090"/><stop offset="0.350" stop-color="#939393"/><stop offset="0.500" stop-color="#929292"/><stop offset="0.700" stop-color="#757575"/><stop offset="0.850" stop-color="#555555"/><stop offset="0.950" stop-color="#373737"/><stop offset="1.000" stop-color="#1e1e1e"/></linearGradient><linearGradient id="g88" gradientUnits="userSpaceOnUse" x1="824.4" y1="380.6" x2="840.2" y2="406.6"><stop offset="0.000" stop-color="#2f2f2f"/><stop offset="0.050" stop-color="#7e7e7e"/><stop offset="0.200" stop-color="#929292"/><stop offset="0.350" stop-color="#979797"/><stop offset="0.500" stop-color="#929292"/><stop offset="0.700" stop-color="#727272"/><stop offset="0.850" stop-color="#525252"/><stop offset="0.950" stop-color="#353535"/><stop offset="1.000" stop-color="#1d1d1d"/></linearGradient><linearGradient id="g89" gradientUnits="userSpaceOnUse" x1="819.3" y1="383.7" x2="835.1" y2="409.7"><stop offset="0.000" stop-color="#2e2e2e"/><stop offset="0.050" stop-color="#7d7d7d"/><stop offset="0.200" stop-color="#939393"/><stop offset="0.350" stop-color="#9c9c9c"/><stop offset="0.500" stop-color="#919191"/><stop offset="0.700" stop-color="#707070"/><stop offset="0.850" stop-color="#4f4f4f"/><stop offset="0.950" stop-color="#333333"/><stop offset="1.000" stop-color="#1c1c1c"/></linearGradient><linearGradient id="g90" gradientUnits="userSpaceOnUse" x1="814.2" y1="386.8" x2="830.0" y2="412.8"><stop offset="0.000" stop-color="#2e2e2e"/><stop offset="0.050" stop-color="#7d7d7d"/><stop offset="0.200" stop-color="#949494"/><stop offset="0.350" stop-color="#a0a0a0"/><stop offset="0.500" stop-color="#919191"/><stop offset="0.700" stop-color="#6d6d6d"/><stop offset="0.850" stop-color="#4d4d4d"/><stop offset="0.950" stop-color="#323232"/><stop offset="1.000" stop-color="#1b1b1b"/></linearGradient><linearGradient id="g91" gradientUnits="userSpaceOnUse" x1="809.1" y1="389.9" x2="825.0" y2="415.9"><stop offset="0.000" stop-color="#2e2e2e"/><stop offset="0.050" stop-color="#7d7d7d"/><stop offset="0.200" stop-color="#969696"/><stop offset="0.350" stop-color="#a5a5a5"/><stop offset="0.500" stop-color="#919191"/><stop offset="0.700" stop-color="#6b6b6b"/><stop offset="0.850" stop-color="#4a4a4a"/><stop offset="0.950" stop-color="#303030"/><stop offset="1.000" stop-color="#1a1a1a"/></linearGradient><linearGradient id="g92" gradientUnits="userSpaceOnUse" x1="804.1" y1="393.0" x2="819.9" y2="419.0"><stop offset="0.000" stop-color="#2d2d2d"/><stop offset="0.050" stop-color="#7d7d7d"/><stop offset="0.200" stop-color="#979797"/><stop offset="0.350" stop-color="#aaaaaa"/><stop offset="0.500" stop-color="#919191"/><stop offset="0.700" stop-color="#686868"/><stop offset="0.850" stop-color="#474747"/><stop offset="0.950" stop-color="#2e2e2e"/><stop offset="1.000" stop-color="#191919"/></linearGradient><linearGradient id="g93" gradientUnits="userSpaceOnUse" x1="799.0" y1="396.1" x2="814.8" y2="422.1"><stop offset="0.000" stop-color="#2d2d2d"/><stop offset="0.050" stop-color="#7d7d7d"/><stop offset="0.200" stop-color="#989898"/><stop offset="0.350" stop-color="#aeaeae"/><stop offset="0.500" stop-color="#919191"/><stop offset="0.700" stop-color="#656565"/><stop offset="0.850" stop-color="#444444"/><stop offset="0.950" stop-color="#2d2d2d"/><stop offset="1.000" stop-color="#181818"/></linearGradient><linearGradient id="g94" gradientUnits="userSpaceOnUse" x1="793.9" y1="399.2" x2="809.7" y2="425.2"><stop offset="0.000" stop-color="#2c2c2c"/><stop offset="0.050" stop-color="#7d7d7d"/><stop offset="0.200" stop-color="#9a9a9a"/><stop offset="0.350" stop-color="#b3b3b3"/><stop offset="0.500" stop-color="#919191"/><stop offset="0.700" stop-color="#636363"/><stop offset="0.850" stop-color="#414141"/><stop offset="0.950" stop-color="#2b2b2b"/><stop offset="1.000" stop-color="#171717"/></linearGradient><linearGradient id="g95" gradientUnits="userSpaceOnUse" x1="788.8" y1="402.3" x2="804.7" y2="428.3"><stop offset="0.000" stop-color="#2c2c2c"/><stop offset="0.050" stop-color="#7d7d7d"/><stop offset="0.200" stop-color="#9b9b9b"/><stop offset="0.350" stop-color="#b8b8b8"/><stop offset="0.500" stop-color="#919191"/><stop offset="0.700" stop-color="#606060"/><stop offset="0.850" stop-color="#3f3f3f"/><stop offset="0.950" stop-color="#292929"/><stop offset="1.000" stop-color="#161616"/></linearGradient><linearGradient id="g96" gradientUnits="userSpaceOnUse" x1="783.7" y1="405.3" x2="799.6" y2="431.4"><stop offset="0.000" stop-color="#2c2c2c"/><stop offset="0.050" stop-color="#7d7d7d"/><stop offset="0.200" stop-color="#9c9c9c"/><stop offset="0.350" stop-color="#bcbcbc"/><stop offset="0.500" stop-color="#919191"/><stop offset="0.700" stop-color="#5d5d5d"/><stop offset="0.850" stop-color="#3c3c3c"/><stop offset="0.950" stop-color="#272727"/><stop offset="1.000" stop-color="#151515"/></linearGradient><linearGradient id="g97" gradientUnits="userSpaceOnUse" x1="778.6" y1="408.4" x2="794.5" y2="434.6"><stop offset="0.000" stop-color="#2b2b2b"/><stop offset="0.050" stop-color="#7c7c7c"/><stop offset="0.200" stop-color="#9e9e9e"/><stop offset="0.350" stop-color="#c1c1c1"/><stop offset="0.500" stop-color="#909090"/><stop offset="0.700" stop-color="#5b5b5b"/><stop offset="0.850" stop-color="#393939"/><stop offset="0.950" stop-color="#262626"/><stop offset="1.000" stop-color="#141414"/></linearGradient><linearGradient id="g98" gradientUnits="userSpaceOnUse" x1="773.5" y1="411.5" x2="789.5" y2="437.7"><stop offset="0.000" stop-color="#2b2b2b"/><stop offset="0.050" stop-color="#7c7c7c"/><stop offset="0.200" stop-color="#9f9f9f"/><stop offset="0.350" stop-color="#c5c5c5"/><stop offset="0.500" stop-color="#909090"/><stop offset="0.700" stop-color="#585858"/><stop offset="0.850" stop-color="#363636"/><stop offset="0.950" stop-color="#242424"/><stop offset="1.000" stop-color="#131313"/></linearGradient><linearGradient id="g99" gradientUnits="userSpaceOnUse" x1="768.4" y1="414.5" x2="784.4" y2="440.8"><stop offset="0.000" stop-color="#2b2b2b"/><stop offset="0.050" stop-color="#7c7c7c"/><stop offset="0.200" stop-color="#a0a0a0"/><stop offset="0.350" stop-color="#cacaca"/><stop offset="0.500" stop-color="#909090"/><stop offset="0.700" stop-color="#555555"/><stop offset="0.850" stop-color="#343434"/><stop offset="0.950" stop-color="#222222"/><stop offset="1.000" stop-color="#121212"/></linearGradient><linearGradient id="g100" gradientUnits="userSpaceOnUse" x1="763.3" y1="417.6" x2="779.3" y2="444.0"><stop offset="0.000" stop-color="#2a2a2a"/><stop offset="0.050" stop-color="#7c7c7c"/><stop offset="0.200" stop-color="#a2a2a2"/><stop offset="0.350" stop-color="#cfcfcf"/><stop offset="0.500" stop-color="#909090"/><stop offset="0.700" stop-color="#535353"/><stop offset="0.850" stop-color="#313131"/><stop offset="0.950" stop-color="#202020"/><stop offset="1.000" stop-color="#111111"/></linearGradient><linearGradient id="g101" gradientUnits="userSpaceOnUse" x1="758.2" y1="420.7" x2="774.3" y2="447.1"><stop offset="0.000" stop-color="#2a2a2a"/><stop offset="0.050" stop-color="#7c7c7c"/><stop offset="0.200" stop-color="#a2a2a2"/><stop offset="0.350" stop-color="#d0d0d0"/><stop offset="0.500" stop-color="#909090"/><stop offset="0.700" stop-color="#525252"/><stop offset="0.850" stop-color="#303030"/><stop offset="0.950" stop-color="#202020"/><stop offset="1.000" stop-color="#111111"/></linearGradient><linearGradient id="g102" gradientUnits="userSpaceOnUse" x1="753.1" y1="423.7" x2="769.2" y2="450.2"><stop offset="0.000" stop-color="#2a2a2a"/><stop offset="0.050" stop-color="#7c7c7c"/><stop offset="0.200" stop-color="#a2a2a2"/><stop offset="0.350" stop-color="#d0d0d0"/><stop offset="0.500" stop-color="#909090"/><stop offset="0.700" stop-color="#525252"/><stop offset="0.850" stop-color="#303030"/><stop offset="0.950" stop-color="#202020"/><stop offset="1.000" stop-color="#111111"/></linearGradient><linearGradient id="g103" gradientUnits="userSpaceOnUse" x1="748.0" y1="426.8" x2="764.1" y2="453.4"><stop offset="0.000" stop-color="#2a2a2a"/><stop offset="0.050" stop-color="#7c7c7c"/><stop offset="0.200" stop-color="#a2a2a2"/><stop offset="0.350" stop-color="#d0d0d0"/><stop offset="0.500" stop-color="#909090"/><stop offset="0.700" stop-color="#525252"/><stop offset="0.850" stop-color="#303030"/><stop offset="0.950" stop-color="#202020"/><stop offset="1.000" stop-color="#111111"/></linearGradient><linearGradient id="g104" gradientUnits="userSpaceOnUse" x1="743.0" y1="429.8" x2="758.9" y2="456.6"><stop offset="0.000" stop-color="#2a2a2a"/><stop offset="0.050" stop-color="#7c7c7c"/><stop offset="0.200" stop-color="#a2a2a2"/><stop offset="0.350" stop-color="#d0d0d0"/><stop offset="0.500" stop-color="#909090"/><stop offset="0.700" stop-color="#525252"/><stop offset="0.850" stop-color="#303030"/><stop offset="0.950" stop-color="#202020"/><stop offset="1.000" stop-color="#111111"/></linearGradient><linearGradient id="g105" gradientUnits="userSpaceOnUse" x1="739.5" y1="431.8" x2="754.3" y2="459.3"><stop offset="0.000" stop-color="#2a2a2a"/><stop offset="0.050" stop-color="#7c7c7c"/><stop offset="0.200" stop-color="#a2a2a2"/><stop offset="0.350" stop-color="#d0d0d0"/><stop offset="0.500" stop-color="#909090"/><stop offset="0.700" stop-color="#525252"/><stop offset="0.850" stop-color="#303030"/><stop offset="0.950" stop-color="#202020"/><stop offset="1.000" stop-color="#111111"/></linearGradient><linearGradient id="g106" gradientUnits="userSpaceOnUse" x1="737.5" y1="432.8" x2="750.1" y2="461.4"><stop offset="0.000" stop-color="#2a2a2a"/><stop offset="0.050" stop-color="#7c7c7c"/><stop offset="0.200" stop-color="#a2a2a2"/><stop offset="0.350" stop-color="#d0d0d0"/><stop offset="0.500" stop-color="#909090"/><stop offset="0.700" stop-color="#525252"/><stop offset="0.850" stop-color="#303030"/><stop offset="0.950" stop-color="#202020"/><stop offset="1.000" stop-color="#111111"/></linearGradient><linearGradient id="g107" gradientUnits="userSpaceOnUse" x1="735.5" y1="433.6" x2="745.6" y2="463.2"><stop offset="0.000" stop-color="#2a2a2a"/><stop offset="0.050" stop-color="#7c7c7c"/><stop offset="0.200" stop-color="#a2a2a2"/><stop offset="0.350" stop-color="#d0d0d0"/><stop offset="0.500" stop-color="#909090"/><stop offset="0.700" stop-color="#525252"/><stop offset="0.850" stop-color="#303030"/><stop offset="0.950" stop-color="#202020"/><stop offset="1.000" stop-color="#111111"/></linearGradient><linearGradient id="g108" gradientUnits="userSpaceOnUse" x1="733.3" y1="434.2" x2="741.1" y2="464.5"><stop offset="0.000" stop-color="#2a2a2a"/><stop offset="0.050" stop-color="#7c7c7c"/><stop offset="0.200" stop-color="#a2a2a2"/><stop offset="0.350" stop-color="#d0d0d0"/><stop offset="0.500" stop-color="#909090"/><stop offset="0.700" stop-color="#525252"/><stop offset="0.850" stop-color="#303030"/><stop offset="0.950" stop-color="#202020"/><stop offset="1.000" stop-color="#111111"/></linearGradient><linearGradient id="g109" gradientUnits="userSpaceOnUse" x1="729.4" y1="435.0" x2="735.9" y2="465.7"><stop offset="0.000" stop-color="#2a2a2a"/><stop offset="0.050" stop-color="#7c7c7c"/><stop offset="0.200" stop-color="#a2a2a2"/><stop offset="0.350" stop-color="#d0d0d0"/><stop offset="0.500" stop-color="#909090"/><stop offset="0.700" stop-color="#525252"/><stop offset="0.850" stop-color="#303030"/><stop offset="0.950" stop-color="#202020"/><stop offset="1.000" stop-color="#111111"/></linearGradient><linearGradient id="g110" gradientUnits="userSpaceOnUse" x1="723.8" y1="436.1" x2="730.0" y2="466.9"><stop offset="0.000" stop-color="#2a2a2a"/><stop offset="0.050" stop-color="#7c7c7c"/><stop offset="0.200" stop-color="#a2a2a2"/><stop offset="0.350" stop-color="#d0d0d0"/><stop offset="0.500" stop-color="#909090"/><stop offset="0.700" stop-color="#525252"/><stop offset="0.850" stop-color="#303030"/><stop offset="0.950" stop-color="#202020"/><stop offset="1.000" stop-color="#111111"/></linearGradient><linearGradient id="g111" gradientUnits="userSpaceOnUse" x1="718.1" y1="437.2" x2="724.2" y2="468.1"><stop offset="0.000" stop-color="#2a2a2a"/><stop offset="0.050" stop-color="#7c7c7c"/><stop offset="0.200" stop-color="#a2a2a2"/><stop offset="0.350" stop-color="#d0d0d0"/><stop offset="0.500" stop-color="#909090"/><stop offset="0.700" stop-color="#525252"/><stop offset="0.850" stop-color="#303030"/><stop offset="0.950" stop-color="#202020"/><stop offset="1.000" stop-color="#111111"/></linearGradient><linearGradient id="g112" gradientUnits="userSpaceOnUse" x1="712.3" y1="438.3" x2="718.5" y2="469.3"><stop offset="0.000" stop-color="#2a2a2a"/><stop offset="0.050" stop-color="#7c7c7c"/><stop offset="0.200" stop-color="#a2a2a2"/><stop offset="0.350" stop-color="#d0d0d0"/><stop offset="0.500" stop-color="#909090"/><stop offset="0.700" stop-color="#525252"/><stop offset="0.850" stop-color="#303030"/><stop offset="0.950" stop-color="#202020"/><stop offset="1.000" stop-color="#111111"/></linearGradient><linearGradient id="g113" gradientUnits="userSpaceOnUse" x1="706.6" y1="439.4" x2="712.8" y2="470.5"><stop offset="0.000" stop-color="#2a2a2a"/><stop offset="0.050" stop-color="#7c7c7c"/><stop offset="0.200" stop-color="#a2a2a2"/><stop offset="0.350" stop-color="#d0d0d0"/><stop offset="0.500" stop-color="#909090"/><stop offset="0.700" stop-color="#525252"/><stop offset="0.850" stop-color="#303030"/><stop offset="0.950" stop-color="#202020"/><stop offset="1.000" stop-color="#111111"/></linearGradient><linearGradient id="g114" gradientUnits="userSpaceOnUse" x1="700.8" y1="440.5" x2="707.1" y2="471.7"><stop offset="0.000" stop-color="#2a2a2a"/><stop offset="0.050" stop-color="#7c7c7c"/><stop offset="0.200" stop-color="#a2a2a2"/><stop offset="0.350" stop-color="#d0d0d0"/><stop offset="0.500" stop-color="#909090"/><stop offset="0.700" stop-color="#525252"/><stop offset="0.850" stop-color="#303030"/><stop offset="0.950" stop-color="#202020"/><stop offset="1.000" stop-color="#111111"/></linearGradient><linearGradient id="g115" gradientUnits="userSpaceOnUse" x1="695.1" y1="441.6" x2="701.4" y2="472.8"><stop offset="0.000" stop-color="#2a2a2a"/><stop offset="0.050" stop-color="#7c7c7c"/><stop offset="0.200" stop-color="#a2a2a2"/><stop offset="0.350" stop-color="#d0d0d0"/><stop offset="0.500" stop-color="#909090"/><stop offset="0.700" stop-color="#525252"/><stop offset="0.850" stop-color="#303030"/><stop offset="0.950" stop-color="#202020"/><stop offset="1.000" stop-color="#111111"/></linearGradient><linearGradient id="g116" gradientUnits="userSpaceOnUse" x1="689.4" y1="442.7" x2="695.6" y2="474.0"><stop offset="0.000" stop-color="#2a2a2a"/><stop offset="0.050" stop-color="#7c7c7c"/><stop offset="0.200" stop-color="#a2a2a2"/><stop offset="0.350" stop-color="#d0d0d0"/><stop offset="0.500" stop-color="#909090"/><stop offset="0.700" stop-color="#525252"/><stop offset="0.850" stop-color="#303030"/><stop offset="0.950" stop-color="#202020"/><stop offset="1.000" stop-color="#111111"/></linearGradient><linearGradient id="g117" gradientUnits="userSpaceOnUse" x1="683.6" y1="443.8" x2="689.9" y2="475.2"><stop offset="0.000" stop-color="#2a2a2a"/><stop offset="0.050" stop-color="#7c7c7c"/><stop offset="0.200" stop-color="#a2a2a2"/><stop offset="0.350" stop-color="#d0d0d0"/><stop offset="0.500" stop-color="#909090"/><stop offset="0.700" stop-color="#525252"/><stop offset="0.850" stop-color="#303030"/><stop offset="0.950" stop-color="#202020"/><stop offset="1.000" stop-color="#111111"/></linearGradient><linearGradient id="g118" gradientUnits="userSpaceOnUse" x1="677.9" y1="445.0" x2="684.2" y2="476.4"><stop offset="0.000" stop-color="#2a2a2a"/><stop offset="0.050" stop-color="#7c7c7c"/><stop offset="0.200" stop-color="#a2a2a2"/><stop offset="0.350" stop-color="#d0d0d0"/><stop offset="0.500" stop-color="#909090"/><stop offset="0.700" stop-color="#525252"/><stop offset="0.850" stop-color="#303030"/><stop offset="0.950" stop-color="#202020"/><stop offset="1.000" stop-color="#111111"/></linearGradient><linearGradient id="g119" gradientUnits="userSpaceOnUse" x1="672.2" y1="446.1" x2="678.5" y2="477.6"><stop offset="0.000" stop-color="#2a2a2a"/><stop offset="0.050" stop-color="#7c7c7c"/><stop offset="0.200" stop-color="#a2a2a2"/><stop offset="0.350" stop-color="#d0d0d0"/><stop offset="0.500" stop-color="#909090"/><stop offset="0.700" stop-color="#525252"/><stop offset="0.850" stop-color="#303030"/><stop offset="0.950" stop-color="#202020"/><stop offset="1.000" stop-color="#111111"/></linearGradient><linearGradient id="g120" gradientUnits="userSpaceOnUse" x1="666.4" y1="447.2" x2="672.8" y2="478.7"><stop offset="0.000" stop-color="#2a2a2a"/><stop offset="0.050" stop-color="#7c7c7c"/><stop offset="0.200" stop-color="#a2a2a2"/><stop offset="0.350" stop-color="#d0d0d0"/><stop offset="0.500" stop-color="#909090"/><stop offset="0.700" stop-color="#525252"/><stop offset="0.850" stop-color="#303030"/><stop offset="0.950" stop-color="#202020"/><stop offset="1.000" stop-color="#111111"/></linearGradient><linearGradient id="g121" gradientUnits="userSpaceOnUse" x1="660.7" y1="448.3" x2="667.0" y2="479.9"><stop offset="0.000" stop-color="#2a2a2a"/><stop offset="0.050" stop-color="#7c7c7c"/><stop offset="0.200" stop-color="#a2a2a2"/><stop offset="0.350" stop-color="#d0d0d0"/><stop offset="0.500" stop-color="#909090"/><stop offset="0.700" stop-color="#525252"/><stop offset="0.850" stop-color="#303030"/><stop offset="0.950" stop-color="#202020"/><stop offset="1.000" stop-color="#111111"/></linearGradient><linearGradient id="g122" gradientUnits="userSpaceOnUse" x1="655.0" y1="449.4" x2="661.3" y2="481.1"><stop offset="0.000" stop-color="#2a2a2a"/><stop offset="0.050" stop-color="#7c7c7c"/><stop offset="0.200" stop-color="#a2a2a2"/><stop offset="0.350" stop-color="#d0d0d0"/><stop offset="0.500" stop-color="#909090"/><stop offset="0.700" stop-color="#525252"/><stop offset="0.850" stop-color="#303030"/><stop offset="0.950" stop-color="#202020"/><stop offset="1.000" stop-color="#111111"/></linearGradient><linearGradient id="g123" gradientUnits="userSpaceOnUse" x1="649.2" y1="450.5" x2="655.6" y2="482.3"><stop offset="0.000" stop-color="#2a2a2a"/><stop offset="0.050" stop-color="#7c7c7c"/><stop offset="0.200" stop-color="#a2a2a2"/><stop offset="0.350" stop-color="#d0d0d0"/><stop offset="0.500" stop-color="#909090"/><stop offset="0.700" stop-color="#525252"/><stop offset="0.850" stop-color="#303030"/><stop offset="0.950" stop-color="#202020"/><stop offset="1.000" stop-color="#111111"/></linearGradient><linearGradient id="g124" gradientUnits="userSpaceOnUse" x1="643.5" y1="451.6" x2="649.9" y2="483.5"><stop offset="0.000" stop-color="#2a2a2a"/><stop offset="0.050" stop-color="#7c7c7c"/><stop offset="0.200" stop-color="#a2a2a2"/><stop offset="0.350" stop-color="#d0d0d0"/><stop offset="0.500" stop-color="#909090"/><stop offset="0.700" stop-color="#525252"/><stop offset="0.850" stop-color="#303030"/><stop offset="0.950" stop-color="#202020"/><stop offset="1.000" stop-color="#111111"/></linearGradient><linearGradient id="g125" gradientUnits="userSpaceOnUse" x1="637.8" y1="452.8" x2="644.1" y2="484.6"><stop offset="0.000" stop-color="#2a2a2a"/><stop offset="0.050" stop-color="#7c7c7c"/><stop offset="0.200" stop-color="#a2a2a2"/><stop offset="0.350" stop-color="#d0d0d0"/><stop offset="0.500" stop-color="#909090"/><stop offset="0.700" stop-color="#525252"/><stop offset="0.850" stop-color="#303030"/><stop offset="0.950" stop-color="#202020"/><stop offset="1.000" stop-color="#111111"/></linearGradient><linearGradient id="g126" gradientUnits="userSpaceOnUse" x1="632.0" y1="453.9" x2="638.4" y2="485.8"><stop offset="0.000" stop-color="#2a2a2a"/><stop offset="0.050" stop-color="#7c7c7c"/><stop offset="0.200" stop-color="#a2a2a2"/><stop offset="0.350" stop-color="#d0d0d0"/><stop offset="0.500" stop-color="#909090"/><stop offset="0.700" stop-color="#525252"/><stop offset="0.850" stop-color="#303030"/><stop offset="0.950" stop-color="#202020"/><stop offset="1.000" stop-color="#111111"/></linearGradient><linearGradient id="g127" gradientUnits="userSpaceOnUse" x1="626.3" y1="455.0" x2="632.7" y2="487.0"><stop offset="0.000" stop-color="#2a2a2a"/><stop offset="0.050" stop-color="#7c7c7c"/><stop offset="0.200" stop-color="#a2a2a2"/><stop offset="0.350" stop-color="#d0d0d0"/><stop offset="0.500" stop-color="#909090"/><stop offset="0.700" stop-color="#525252"/><stop offset="0.850" stop-color="#303030"/><stop offset="0.950" stop-color="#202020"/><stop offset="1.000" stop-color="#111111"/></linearGradient><linearGradient id="g128" gradientUnits="userSpaceOnUse" x1="620.6" y1="456.1" x2="627.0" y2="488.2"><stop offset="0.000" stop-color="#2a2a2a"/><stop offset="0.050" stop-color="#7c7c7c"/><stop offset="0.200" stop-color="#a2a2a2"/><stop offset="0.350" stop-color="#d0d0d0"/><stop offset="0.500" stop-color="#909090"/><stop offset="0.700" stop-color="#525252"/><stop offset="0.850" stop-color="#303030"/><stop offset="0.950" stop-color="#202020"/><stop offset="1.000" stop-color="#111111"/></linearGradient><linearGradient id="g129" gradientUnits="userSpaceOnUse" x1="614.8" y1="457.2" x2="621.3" y2="489.4"><stop offset="0.000" stop-color="#2a2a2a"/><stop offset="0.050" stop-color="#7c7c7c"/><stop offset="0.200" stop-color="#a2a2a2"/><stop offset="0.350" stop-color="#d0d0d0"/><stop offset="0.500" stop-color="#909090"/><stop offset="0.700" stop-color="#525252"/><stop offset="0.850" stop-color="#303030"/><stop offset="0.950" stop-color="#202020"/><stop offset="1.000" stop-color="#111111"/></linearGradient><linearGradient id="g130" gradientUnits="userSpaceOnUse" x1="609.1" y1="458.3" x2="615.5" y2="490.5"><stop offset="0.000" stop-color="#2a2a2a"/><stop offset="0.050" stop-color="#7c7c7c"/><stop offset="0.200" stop-color="#a2a2a2"/><stop offset="0.350" stop-color="#d0d0d0"/><stop offset="0.500" stop-color="#909090"/><stop offset="0.700" stop-color="#525252"/><stop offset="0.850" stop-color="#303030"/><stop offset="0.950" stop-color="#202020"/><stop offset="1.000" stop-color="#111111"/></linearGradient><linearGradient id="g131" gradientUnits="userSpaceOnUse" x1="603.4" y1="459.4" x2="609.8" y2="491.7"><stop offset="0.000" stop-color="#2a2a2a"/><stop offset="0.050" stop-color="#7c7c7c"/><stop offset="0.200" stop-color="#a2a2a2"/><stop offset="0.350" stop-color="#d0d0d0"/><stop offset="0.500" stop-color="#909090"/><stop offset="0.700" stop-color="#525252"/><stop offset="0.850" stop-color="#303030"/><stop offset="0.950" stop-color="#202020"/><stop offset="1.000" stop-color="#111111"/></linearGradient><linearGradient id="g132" gradientUnits="userSpaceOnUse" x1="597.6" y1="460.6" x2="604.1" y2="492.9"><stop offset="0.000" stop-color="#2a2a2a"/><stop offset="0.050" stop-color="#7c7c7c"/><stop offset="0.200" stop-color="#a2a2a2"/><stop offset="0.350" stop-color="#d0d0d0"/><stop offset="0.500" stop-color="#909090"/><stop offset="0.700" stop-color="#525252"/><stop offset="0.850" stop-color="#303030"/><stop offset="0.950" stop-color="#202020"/><stop offset="1.000" stop-color="#111111"/></linearGradient><clipPath id="clipA"><path d="M1060,45 L1070.4,30 Q1070.3,20.5 1077,20.2 Q1086,21.5 1097,30.5 Q1104,36.5 1104.8,48 L1140,60 L1140,560 L640,560 L627.6,514 L566,431.5 L560,45 Z"/></clipPath><linearGradient id="capA" x1="0" y1="0" x2="1" y2="0"><stop offset="0" stop-color="#1a1a1a"/><stop offset="0.6" stop-color="#242424"/><stop offset="1" stop-color="#383838"/></linearGradient><linearGradient id="g133" gradientUnits="userSpaceOnUse" x1="1081.8" y1="150.4" x2="1102.1" y2="165.3"><stop offset="0.000" stop-color="#202020"/><stop offset="0.050" stop-color="#4e4e4e"/><stop offset="0.200" stop-color="#6e6e6e"/><stop offset="0.350" stop-color="#929292"/><stop offset="0.500" stop-color="#ababab"/><stop offset="0.700" stop-color="#6a6a6a"/><stop offset="0.850" stop-color="#3e3e3e"/><stop offset="0.950" stop-color="#262626"/><stop offset="1.000" stop-color="#151515"/></linearGradient><linearGradient id="g134" gradientUnits="userSpaceOnUse" x1="1078.6" y1="155.0" x2="1098.8" y2="169.7"><stop offset="0.000" stop-color="#202020"/><stop offset="0.050" stop-color="#4e4e4e"/><stop offset="0.200" stop-color="#6e6e6e"/><stop offset="0.350" stop-color="#929292"/><stop offset="0.500" stop-color="#ababab"/><stop offset="0.700" stop-color="#6a6a6a"/><stop offset="0.850" stop-color="#3e3e3e"/><stop offset="0.950" stop-color="#262626"/><stop offset="1.000" stop-color="#151515"/></linearGradient><linearGradient id="g135" gradientUnits="userSpaceOnUse" x1="1075.4" y1="159.5" x2="1095.4" y2="174.1"><stop offset="0.000" stop-color="#202020"/><stop offset="0.050" stop-color="#4e4e4e"/><stop offset="0.200" stop-color="#6e6e6e"/><stop offset="0.350" stop-color="#929292"/><stop offset="0.500" stop-color="#ababab"/><stop offset="0.700" stop-color="#6a6a6a"/><stop offset="0.850" stop-color="#3e3e3e"/><stop offset="0.950" stop-color="#262626"/><stop offset="1.000" stop-color="#151515"/></linearGradient><linearGradient id="g136" gradientUnits="userSpaceOnUse" x1="1072.2" y1="164.0" x2="1092.1" y2="178.6"><stop offset="0.000" stop-color="#202020"/><stop offset="0.050" stop-color="#4e4e4e"/><stop offset="0.200" stop-color="#6e6e6e"/><stop offset="0.350" stop-color="#929292"/><stop offset="0.500" stop-color="#ababab"/><stop offset="0.700" stop-color="#6a6a6a"/><stop offset="0.850" stop-color="#3e3e3e"/><stop offset="0.950" stop-color="#262626"/><stop offset="1.000" stop-color="#151515"/></linearGradient><linearGradient id="g137" gradientUnits="userSpaceOnUse" x1="1069.0" y1="168.6" x2="1088.7" y2="183.0"><stop offset="0.000" stop-color="#202020"/><stop offset="0.050" stop-color="#4e4e4e"/><stop offset="0.200" stop-color="#6e6e6e"/><stop offset="0.350" stop-color="#929292"/><stop offset="0.500" stop-color="#ababab"/><stop offset="0.700" stop-color="#6a6a6a"/><stop offset="0.850" stop-color="#3e3e3e"/><stop offset="0.950" stop-color="#262626"/><stop offset="1.000" stop-color="#151515"/></linearGradient><linearGradient id="g138" gradientUnits="userSpaceOnUse" x1="1065.8" y1="173.1" x2="1085.4" y2="187.4"><stop offset="0.000" stop-color="#202020"/><stop offset="0.050" stop-color="#4e4e4e"/><stop offset="0.200" stop-color="#6e6e6e"/><stop offset="0.350" stop-color="#929292"/><stop offset="0.500" stop-color="#ababab"/><stop offset="0.700" stop-color="#6a6a6a"/><stop offset="0.850" stop-color="#3e3e3e"/><stop offset="0.950" stop-color="#262626"/><stop offset="1.000" stop-color="#151515"/></linearGradient><linearGradient id="g139" gradientUnits="userSpaceOnUse" x1="1062.5" y1="177.6" x2="1082.1" y2="191.9"><stop offset="0.000" stop-color="#202020"/><stop offset="0.050" stop-color="#4e4e4e"/><stop offset="0.200" stop-color="#6e6e6e"/><stop offset="0.350" stop-color="#929292"/><stop offset="0.500" stop-color="#ababab"/><stop offset="0.700" stop-color="#6a6a6a"/><stop offset="0.850" stop-color="#3e3e3e"/><stop offset="0.950" stop-color="#262626"/><stop offset="1.000" stop-color="#151515"/></linearGradient><linearGradient id="g140" gradientUnits="userSpaceOnUse" x1="1059.3" y1="182.2" x2="1078.7" y2="196.3"><stop offset="0.000" stop-color="#202020"/><stop offset="0.050" stop-color="#4e4e4e"/><stop offset="0.200" stop-color="#6e6e6e"/><stop offset="0.350" stop-color="#929292"/><stop offset="0.500" stop-color="#ababab"/><stop offset="0.700" stop-color="#6a6a6a"/><stop offset="0.850" stop-color="#3e3e3e"/><stop offset="0.950" stop-color="#262626"/><stop offset="1.000" stop-color="#151515"/></linearGradient><linearGradient id="g141" gradientUnits="userSpaceOnUse" x1="1056.1" y1="186.7" x2="1075.4" y2="200.8"><stop offset="0.000" stop-color="#202020"/><stop offset="0.050" stop-color="#4e4e4e"/><stop offset="0.200" stop-color="#6e6e6e"/><stop offset="0.350" stop-color="#929292"/><stop offset="0.500" stop-color="#ababab"/><stop offset="0.700" stop-color="#6a6a6a"/><stop offset="0.850" stop-color="#3e3e3e"/><stop offset="0.950" stop-color="#262626"/><stop offset="1.000" stop-color="#151515"/></linearGradient><linearGradient id="g142" gradientUnits="userSpaceOnUse" x1="1052.9" y1="191.2" x2="1072.0" y2="205.2"><stop offset="0.000" stop-color="#202020"/><stop offset="0.050" stop-color="#4f4f4f"/><stop offset="0.200" stop-color="#6f6f6f"/><stop offset="0.350" stop-color="#939393"/><stop offset="0.500" stop-color="#adadad"/><stop offset="0.700" stop-color="#6b6b6b"/><stop offset="0.850" stop-color="#3e3e3e"/><stop offset="0.950" stop-color="#262626"/><stop offset="1.000" stop-color="#151515"/></linearGradient><linearGradient id="g143" gradientUnits="userSpaceOnUse" x1="1049.7" y1="195.8" x2="1068.7" y2="209.6"><stop offset="0.000" stop-color="#202020"/><stop offset="0.050" stop-color="#505050"/><stop offset="0.200" stop-color="#707070"/><stop offset="0.350" stop-color="#969696"/><stop offset="0.500" stop-color="#b0b0b0"/><stop offset="0.700" stop-color="#6c6c6c"/><stop offset="0.850" stop-color="#3f3f3f"/><stop offset="0.950" stop-color="#262626"/><stop offset="1.000" stop-color="#151515"/></linearGradient><linearGradient id="g144" gradientUnits="userSpaceOnUse" x1="1046.5" y1="200.3" x2="1065.4" y2="214.1"><stop offset="0.000" stop-color="#202020"/><stop offset="0.050" stop-color="#515151"/><stop offset="0.200" stop-color="#717171"/><stop offset="0.350" stop-color="#999999"/><stop offset="0.500" stop-color="#b4b4b4"/><stop offset="0.700" stop-color="#6d6d6d"/><stop offset="0.850" stop-color="#404040"/><stop offset="0.950" stop-color="#272727"/><stop offset="1.000" stop-color="#151515"/></linearGradient><linearGradient id="g145" gradientUnits="userSpaceOnUse" x1="1043.4" y1="204.7" x2="1061.9" y2="218.6"><stop offset="0.000" stop-color="#202020"/><stop offset="0.050" stop-color="#525252"/><stop offset="0.200" stop-color="#727272"/><stop offset="0.350" stop-color="#9b9b9b"/><stop offset="0.500" stop-color="#b7b7b7"/><stop offset="0.700" stop-color="#6f6f6f"/><stop offset="0.850" stop-color="#404040"/><stop offset="0.950" stop-color="#272727"/><stop offset="1.000" stop-color="#151515"/></linearGradient><linearGradient id="g146" gradientUnits="userSpaceOnUse" x1="1041.1" y1="207.7" x2="1059.0" y2="222.5"><stop offset="0.000" stop-color="#202020"/><stop offset="0.050" stop-color="#535353"/><stop offset="0.200" stop-color="#737373"/><stop offset="0.350" stop-color="#9d9d9d"/><stop offset="0.500" stop-color="#bababa"/><stop offset="0.700" stop-color="#707070"/><stop offset="0.850" stop-color="#414141"/><stop offset="0.950" stop-color="#272727"/><stop offset="1.000" stop-color="#151515"/></linearGradient><linearGradient id="g147" gradientUnits="userSpaceOnUse" x1="1039.7" y1="209.3" x2="1056.3" y2="225.5"><stop offset="0.000" stop-color="#202020"/><stop offset="0.050" stop-color="#535353"/><stop offset="0.200" stop-color="#737373"/><stop offset="0.350" stop-color="#9f9f9f"/><stop offset="0.500" stop-color="#bcbcbc"/><stop offset="0.700" stop-color="#717171"/><stop offset="0.850" stop-color="#414141"/><stop offset="0.950" stop-color="#272727"/><stop offset="1.000" stop-color="#151515"/></linearGradient><linearGradient id="g148" gradientUnits="userSpaceOnUse" x1="1036.8" y1="211.9" x2="1052.6" y2="229.0"><stop offset="0.000" stop-color="#202020"/><stop offset="0.050" stop-color="#545454"/><stop offset="0.200" stop-color="#747474"/><stop offset="0.350" stop-color="#a1a1a1"/><stop offset="0.500" stop-color="#bfbfbf"/><stop offset="0.700" stop-color="#727272"/><stop offset="0.850" stop-color="#424242"/><stop offset="0.950" stop-color="#282828"/><stop offset="1.000" stop-color="#151515"/></linearGradient><linearGradient id="g149" gradientUnits="userSpaceOnUse" x1="1032.6" y1="215.8" x2="1048.1" y2="233.0"><stop offset="0.000" stop-color="#202020"/><stop offset="0.050" stop-color="#555555"/><stop offset="0.200" stop-color="#757575"/><stop offset="0.350" stop-color="#a4a4a4"/><stop offset="0.500" stop-color="#c3c3c3"/><stop offset="0.700" stop-color="#737373"/><stop offset="0.850" stop-color="#424242"/><stop offset="0.950" stop-color="#282828"/><stop offset="1.000" stop-color="#151515"/></linearGradient><linearGradient id="g150" gradientUnits="userSpaceOnUse" x1="1028.2" y1="219.8" x2="1043.8" y2="237.0"><stop offset="0.000" stop-color="#202020"/><stop offset="0.050" stop-color="#575757"/><stop offset="0.200" stop-color="#777777"/><stop offset="0.350" stop-color="#a6a6a6"/><stop offset="0.500" stop-color="#c6c6c6"/><stop offset="0.700" stop-color="#757575"/><stop offset="0.850" stop-color="#434343"/><stop offset="0.950" stop-color="#282828"/><stop offset="1.000" stop-color="#151515"/></linearGradient><linearGradient id="g151" gradientUnits="userSpaceOnUse" x1="1023.8" y1="223.7" x2="1039.4" y2="240.9"><stop offset="0.000" stop-color="#202020"/><stop offset="0.050" stop-color="#585858"/><stop offset="0.200" stop-color="#787878"/><stop offset="0.350" stop-color="#a9a9a9"/><stop offset="0.500" stop-color="#cacaca"/><stop offset="0.700" stop-color="#767676"/><stop offset="0.850" stop-color="#444444"/><stop offset="0.950" stop-color="#282828"/><stop offset="1.000" stop-color="#151515"/></linearGradient><linearGradient id="g152" gradientUnits="userSpaceOnUse" x1="1019.4" y1="227.7" x2="1035.0" y2="244.9"><stop offset="0.000" stop-color="#202020"/><stop offset="0.050" stop-color="#595959"/><stop offset="0.200" stop-color="#797979"/><stop offset="0.350" stop-color="#acacac"/><stop offset="0.500" stop-color="#cecece"/><stop offset="0.700" stop-color="#787878"/><stop offset="0.850" stop-color="#444444"/><stop offset="0.950" stop-color="#292929"/><stop offset="1.000" stop-color="#151515"/></linearGradient><linearGradient id="g153" gradientUnits="userSpaceOnUse" x1="1015.0" y1="231.6" x2="1030.6" y2="248.9"><stop offset="0.000" stop-color="#202020"/><stop offset="0.050" stop-color="#5a5a5a"/><stop offset="0.200" stop-color="#7a7a7a"/><stop offset="0.350" stop-color="#afafaf"/><stop offset="0.500" stop-color="#d2d2d2"/><stop offset="0.700" stop-color="#797979"/><stop offset="0.850" stop-color="#454545"/><stop offset="0.950" stop-color="#292929"/><stop offset="1.000" stop-color="#151515"/></linearGradient><linearGradient id="g154" gradientUnits="userSpaceOnUse" x1="1010.7" y1="235.6" x2="1026.3" y2="252.8"><stop offset="0.000" stop-color="#202020"/><stop offset="0.050" stop-color="#5b5b5b"/><stop offset="0.200" stop-color="#7b7b7b"/><stop offset="0.350" stop-color="#b2b2b2"/><stop offset="0.500" stop-color="#d6d6d6"/><stop offset="0.700" stop-color="#7b7b7b"/><stop offset="0.850" stop-color="#464646"/><stop offset="0.950" stop-color="#292929"/><stop offset="1.000" stop-color="#151515"/></linearGradient><linearGradient id="g155" gradientUnits="userSpaceOnUse" x1="1006.3" y1="239.6" x2="1021.9" y2="256.8"><stop offset="0.000" stop-color="#202020"/><stop offset="0.050" stop-color="#5d5d5d"/><stop offset="0.200" stop-color="#7d7d7d"/><stop offset="0.350" stop-color="#b4b4b4"/><stop offset="0.500" stop-color="#d9d9d9"/><stop offset="0.700" stop-color="#7c7c7c"/><stop offset="0.850" stop-color="#464646"/><stop offset="0.950" stop-color="#2a2a2a"/><stop offset="1.000" stop-color="#151515"/></linearGradient><linearGradient id="g156" gradientUnits="userSpaceOnUse" x1="1001.9" y1="243.5" x2="1017.5" y2="260.8"><stop offset="0.000" stop-color="#202020"/><stop offset="0.050" stop-color="#5e5e5e"/><stop offset="0.200" stop-color="#7e7e7e"/><stop offset="0.350" stop-color="#b7b7b7"/><stop offset="0.500" stop-color="#dddddd"/><stop offset="0.700" stop-color="#7e7e7e"/><stop offset="0.850" stop-color="#474747"/><stop offset="0.950" stop-color="#2a2a2a"/><stop offset="1.000" stop-color="#151515"/></linearGradient><linearGradient id="g157" gradientUnits="userSpaceOnUse" x1="997.5" y1="247.5" x2="1013.1" y2="264.7"><stop offset="0.000" stop-color="#202020"/><stop offset="0.050" stop-color="#5e5e5e"/><stop offset="0.200" stop-color="#7e7e7e"/><stop offset="0.350" stop-color="#b8b8b8"/><stop offset="0.500" stop-color="#dedede"/><stop offset="0.700" stop-color="#7e7e7e"/><stop offset="0.850" stop-color="#474747"/><stop offset="0.950" stop-color="#2a2a2a"/><stop offset="1.000" stop-color="#151515"/></linearGradient><linearGradient id="g158" gradientUnits="userSpaceOnUse" x1="993.1" y1="251.4" x2="1008.8" y2="268.7"><stop offset="0.000" stop-color="#202020"/><stop offset="0.050" stop-color="#5e5e5e"/><stop offset="0.200" stop-color="#7e7e7e"/><stop offset="0.350" stop-color="#b8b8b8"/><stop offset="0.500" stop-color="#dedede"/><stop offset="0.700" stop-color="#7e7e7e"/><stop offset="0.850" stop-color="#474747"/><stop offset="0.950" stop-color="#2a2a2a"/><stop offset="1.000" stop-color="#151515"/></linearGradient><linearGradient id="g159" gradientUnits="userSpaceOnUse" x1="988.8" y1="255.4" x2="1004.4" y2="272.7"><stop offset="0.000" stop-color="#202020"/><stop offset="0.050" stop-color="#5e5e5e"/><stop offset="0.200" stop-color="#7e7e7e"/><stop offset="0.350" stop-color="#b8b8b8"/><stop offset="0.500" stop-color="#dedede"/><stop offset="0.700" stop-color="#7e7e7e"/><stop offset="0.850" stop-color="#474747"/><stop offset="0.950" stop-color="#2a2a2a"/><stop offset="1.000" stop-color="#151515"/></linearGradient><linearGradient id="g160" gradientUnits="userSpaceOnUse" x1="984.4" y1="259.4" x2="1000.0" y2="276.6"><stop offset="0.000" stop-color="#202020"/><stop offset="0.050" stop-color="#5e5e5e"/><stop offset="0.200" stop-color="#7e7e7e"/><stop offset="0.350" stop-color="#b8b8b8"/><stop offset="0.500" stop-color="#dedede"/><stop offset="0.700" stop-color="#7e7e7e"/><stop offset="0.850" stop-color="#474747"/><stop offset="0.950" stop-color="#2a2a2a"/><stop offset="1.000" stop-color="#151515"/></linearGradient><linearGradient id="g161" gradientUnits="userSpaceOnUse" x1="980.0" y1="263.3" x2="995.6" y2="280.6"><stop offset="0.000" stop-color="#202020"/><stop offset="0.050" stop-color="#5e5e5e"/><stop offset="0.200" stop-color="#7e7e7e"/><stop offset="0.350" stop-color="#b8b8b8"/><stop offset="0.500" stop-color="#dedede"/><stop offset="0.700" stop-color="#7e7e7e"/><stop offset="0.850" stop-color="#474747"/><stop offset="0.950" stop-color="#2a2a2a"/><stop offset="1.000" stop-color="#151515"/></linearGradient><linearGradient id="g162" gradientUnits="userSpaceOnUse" x1="975.6" y1="267.3" x2="991.3" y2="284.6"><stop offset="0.000" stop-color="#202020"/><stop offset="0.050" stop-color="#5e5e5e"/><stop offset="0.200" stop-color="#7e7e7e"/><stop offset="0.350" stop-color="#b8b8b8"/><stop offset="0.500" stop-color="#dedede"/><stop offset="0.700" stop-color="#7e7e7e"/><stop offset="0.850" stop-color="#474747"/><stop offset="0.950" stop-color="#2a2a2a"/><stop offset="1.000" stop-color="#151515"/></linearGradient><linearGradient id="g163" gradientUnits="userSpaceOnUse" x1="971.2" y1="271.2" x2="986.9" y2="288.5"><stop offset="0.000" stop-color="#202020"/><stop offset="0.050" stop-color="#5e5e5e"/><stop offset="0.200" stop-color="#7e7e7e"/><stop offset="0.350" stop-color="#b8b8b8"/><stop offset="0.500" stop-color="#dedede"/><stop offset="0.700" stop-color="#7e7e7e"/><stop offset="0.850" stop-color="#474747"/><stop offset="0.950" stop-color="#2a2a2a"/><stop offset="1.000" stop-color="#151515"/></linearGradient><linearGradient id="g164" gradientUnits="userSpaceOnUse" x1="966.9" y1="275.2" x2="982.5" y2="292.5"><stop offset="0.000" stop-color="#202020"/><stop offset="0.050" stop-color="#5e5e5e"/><stop offset="0.200" stop-color="#7e7e7e"/><stop offset="0.350" stop-color="#b8b8b8"/><stop offset="0.500" stop-color="#dedede"/><stop offset="0.700" stop-color="#7e7e7e"/><stop offset="0.850" stop-color="#474747"/><stop offset="0.950" stop-color="#2a2a2a"/><stop offset="1.000" stop-color="#151515"/></linearGradient><linearGradient id="g165" gradientUnits="userSpaceOnUse" x1="962.5" y1="279.1" x2="978.1" y2="296.5"><stop offset="0.000" stop-color="#202020"/><stop offset="0.050" stop-color="#5e5e5e"/><stop offset="0.200" stop-color="#7e7e7e"/><stop offset="0.350" stop-color="#b8b8b8"/><stop offset="0.500" stop-color="#dedede"/><stop offset="0.700" stop-color="#7e7e7e"/><stop offset="0.850" stop-color="#474747"/><stop offset="0.950" stop-color="#2a2a2a"/><stop offset="1.000" stop-color="#151515"/></linearGradient><linearGradient id="g166" gradientUnits="userSpaceOnUse" x1="958.1" y1="283.1" x2="973.8" y2="300.4"><stop offset="0.000" stop-color="#202020"/><stop offset="0.050" stop-color="#5e5e5e"/><stop offset="0.200" stop-color="#7e7e7e"/><stop offset="0.350" stop-color="#b8b8b8"/><stop offset="0.500" stop-color="#dedede"/><stop offset="0.700" stop-color="#7e7e7e"/><stop offset="0.850" stop-color="#474747"/><stop offset="0.950" stop-color="#2a2a2a"/><stop offset="1.000" stop-color="#151515"/></linearGradient><linearGradient id="g167" gradientUnits="userSpaceOnUse" x1="953.7" y1="287.1" x2="969.4" y2="304.4"><stop offset="0.000" stop-color="#202020"/><stop offset="0.050" stop-color="#5e5e5e"/><stop offset="0.200" stop-color="#7e7e7e"/><stop offset="0.350" stop-color="#b8b8b8"/><stop offset="0.500" stop-color="#dedede"/><stop offset="0.700" stop-color="#7e7e7e"/><stop offset="0.850" stop-color="#474747"/><stop offset="0.950" stop-color="#2a2a2a"/><stop offset="1.000" stop-color="#151515"/></linearGradient><linearGradient id="g168" gradientUnits="userSpaceOnUse" x1="949.3" y1="291.0" x2="965.0" y2="308.3"><stop offset="0.000" stop-color="#202020"/><stop offset="0.050" stop-color="#5e5e5e"/><stop offset="0.200" stop-color="#7e7e7e"/><stop offset="0.350" stop-color="#b8b8b8"/><stop offset="0.500" stop-color="#dedede"/><stop offset="0.700" stop-color="#7e7e7e"/><stop offset="0.850" stop-color="#474747"/><stop offset="0.950" stop-color="#2a2a2a"/><stop offset="1.000" stop-color="#151515"/></linearGradient><linearGradient id="g169" gradientUnits="userSpaceOnUse" x1="945.0" y1="295.0" x2="960.6" y2="312.3"><stop offset="0.000" stop-color="#202020"/><stop offset="0.050" stop-color="#5e5e5e"/><stop offset="0.200" stop-color="#7e7e7e"/><stop offset="0.350" stop-color="#b8b8b8"/><stop offset="0.500" stop-color="#dedede"/><stop offset="0.700" stop-color="#7e7e7e"/><stop offset="0.850" stop-color="#474747"/><stop offset="0.950" stop-color="#2a2a2a"/><stop offset="1.000" stop-color="#151515"/></linearGradient><linearGradient id="g170" gradientUnits="userSpaceOnUse" x1="940.6" y1="298.9" x2="956.3" y2="316.3"><stop offset="0.000" stop-color="#202020"/><stop offset="0.050" stop-color="#5e5e5e"/><stop offset="0.200" stop-color="#7e7e7e"/><stop offset="0.350" stop-color="#b8b8b8"/><stop offset="0.500" stop-color="#dedede"/><stop offset="0.700" stop-color="#7e7e7e"/><stop offset="0.850" stop-color="#474747"/><stop offset="0.950" stop-color="#2a2a2a"/><stop offset="1.000" stop-color="#151515"/></linearGradient><linearGradient id="g171" gradientUnits="userSpaceOnUse" x1="936.2" y1="302.9" x2="951.9" y2="320.2"><stop offset="0.000" stop-color="#202020"/><stop offset="0.050" stop-color="#5e5e5e"/><stop offset="0.200" stop-color="#7e7e7e"/><stop offset="0.350" stop-color="#b8b8b8"/><stop offset="0.500" stop-color="#dedede"/><stop offset="0.700" stop-color="#7e7e7e"/><stop offset="0.850" stop-color="#474747"/><stop offset="0.950" stop-color="#2a2a2a"/><stop offset="1.000" stop-color="#151515"/></linearGradient><linearGradient id="g172" gradientUnits="userSpaceOnUse" x1="931.8" y1="306.9" x2="947.5" y2="324.2"><stop offset="0.000" stop-color="#202020"/><stop offset="0.050" stop-color="#5e5e5e"/><stop offset="0.200" stop-color="#7e7e7e"/><stop offset="0.350" stop-color="#b8b8b8"/><stop offset="0.500" stop-color="#dedede"/><stop offset="0.700" stop-color="#7e7e7e"/><stop offset="0.850" stop-color="#474747"/><stop offset="0.950" stop-color="#2a2a2a"/><stop offset="1.000" stop-color="#151515"/></linearGradient><linearGradient id="g173" gradientUnits="userSpaceOnUse" x1="927.4" y1="310.8" x2="943.1" y2="328.2"><stop offset="0.000" stop-color="#202020"/><stop offset="0.050" stop-color="#5e5e5e"/><stop offset="0.200" stop-color="#7e7e7e"/><stop offset="0.350" stop-color="#b8b8b8"/><stop offset="0.500" stop-color="#dedede"/><stop offset="0.700" stop-color="#7e7e7e"/><stop offset="0.850" stop-color="#474747"/><stop offset="0.950" stop-color="#2a2a2a"/><stop offset="1.000" stop-color="#151515"/></linearGradient><linearGradient id="g174" gradientUnits="userSpaceOnUse" x1="923.1" y1="314.8" x2="938.8" y2="332.1"><stop offset="0.000" stop-color="#202020"/><stop offset="0.050" stop-color="#5e5e5e"/><stop offset="0.200" stop-color="#7e7e7e"/><stop offset="0.350" stop-color="#b8b8b8"/><stop offset="0.500" stop-color="#dedede"/><stop offset="0.700" stop-color="#7e7e7e"/><stop offset="0.850" stop-color="#474747"/><stop offset="0.950" stop-color="#2a2a2a"/><stop offset="1.000" stop-color="#151515"/></linearGradient><linearGradient id="g175" gradientUnits="userSpaceOnUse" x1="918.7" y1="318.7" x2="934.4" y2="336.1"><stop offset="0.000" stop-color="#202020"/><stop offset="0.050" stop-color="#5e5e5e"/><stop offset="0.200" stop-color="#7e7e7e"/><stop offset="0.350" stop-color="#b8b8b8"/><stop offset="0.500" stop-color="#dedede"/><stop offset="0.700" stop-color="#7e7e7e"/><stop offset="0.850" stop-color="#474747"/><stop offset="0.950" stop-color="#2a2a2a"/><stop offset="1.000" stop-color="#151515"/></linearGradient><linearGradient id="g176" gradientUnits="userSpaceOnUse" x1="914.3" y1="322.7" x2="930.0" y2="340.1"><stop offset="0.000" stop-color="#202020"/><stop offset="0.050" stop-color="#5e5e5e"/><stop offset="0.200" stop-color="#7e7e7e"/><stop offset="0.350" stop-color="#b8b8b8"/><stop offset="0.500" stop-color="#dedede"/><stop offset="0.700" stop-color="#7e7e7e"/><stop offset="0.850" stop-color="#474747"/><stop offset="0.950" stop-color="#2a2a2a"/><stop offset="1.000" stop-color="#151515"/></linearGradient><linearGradient id="g177" gradientUnits="userSpaceOnUse" x1="909.9" y1="326.7" x2="925.6" y2="344.0"><stop offset="0.000" stop-color="#202020"/><stop offset="0.050" stop-color="#5e5e5e"/><stop offset="0.200" stop-color="#7e7e7e"/><stop offset="0.350" stop-color="#b8b8b8"/><stop offset="0.500" stop-color="#dedede"/><stop offset="0.700" stop-color="#7e7e7e"/><stop offset="0.850" stop-color="#474747"/><stop offset="0.950" stop-color="#2a2a2a"/><stop offset="1.000" stop-color="#151515"/></linearGradient><linearGradient id="g178" gradientUnits="userSpaceOnUse" x1="905.5" y1="330.6" x2="921.3" y2="348.0"><stop offset="0.000" stop-color="#202020"/><stop offset="0.050" stop-color="#5e5e5e"/><stop offset="0.200" stop-color="#7e7e7e"/><stop offset="0.350" stop-color="#b8b8b8"/><stop offset="0.500" stop-color="#dedede"/><stop offset="0.700" stop-color="#7e7e7e"/><stop offset="0.850" stop-color="#474747"/><stop offset="0.950" stop-color="#2a2a2a"/><stop offset="1.000" stop-color="#151515"/></linearGradient><linearGradient id="g179" gradientUnits="userSpaceOnUse" x1="901.2" y1="334.6" x2="916.9" y2="352.0"><stop offset="0.000" stop-color="#202020"/><stop offset="0.050" stop-color="#5e5e5e"/><stop offset="0.200" stop-color="#7e7e7e"/><stop offset="0.350" stop-color="#b8b8b8"/><stop offset="0.500" stop-color="#dedede"/><stop offset="0.700" stop-color="#7e7e7e"/><stop offset="0.850" stop-color="#474747"/><stop offset="0.950" stop-color="#2a2a2a"/><stop offset="1.000" stop-color="#151515"/></linearGradient><linearGradient id="g180" gradientUnits="userSpaceOnUse" x1="896.8" y1="338.5" x2="912.5" y2="355.9"><stop offset="0.000" stop-color="#202020"/><stop offset="0.050" stop-color="#5e5e5e"/><stop offset="0.200" stop-color="#7e7e7e"/><stop offset="0.350" stop-color="#b8b8b8"/><stop offset="0.500" stop-color="#dedede"/><stop offset="0.700" stop-color="#7e7e7e"/><stop offset="0.850" stop-color="#474747"/><stop offset="0.950" stop-color="#2a2a2a"/><stop offset="1.000" stop-color="#151515"/></linearGradient><linearGradient id="g181" gradientUnits="userSpaceOnUse" x1="892.4" y1="342.5" x2="908.1" y2="359.9"><stop offset="0.000" stop-color="#202020"/><stop offset="0.050" stop-color="#5e5e5e"/><stop offset="0.200" stop-color="#7e7e7e"/><stop offset="0.350" stop-color="#b8b8b8"/><stop offset="0.500" stop-color="#dedede"/><stop offset="0.700" stop-color="#7e7e7e"/><stop offset="0.850" stop-color="#474747"/><stop offset="0.950" stop-color="#2a2a2a"/><stop offset="1.000" stop-color="#151515"/></linearGradient><linearGradient id="g182" gradientUnits="userSpaceOnUse" x1="888.0" y1="346.5" x2="903.8" y2="363.9"><stop offset="0.000" stop-color="#202020"/><stop offset="0.050" stop-color="#5e5e5e"/><stop offset="0.200" stop-color="#7e7e7e"/><stop offset="0.350" stop-color="#b8b8b8"/><stop offset="0.500" stop-color="#dedede"/><stop offset="0.700" stop-color="#7e7e7e"/><stop offset="0.850" stop-color="#474747"/><stop offset="0.950" stop-color="#2a2a2a"/><stop offset="1.000" stop-color="#151515"/></linearGradient><linearGradient id="g183" gradientUnits="userSpaceOnUse" x1="883.6" y1="350.4" x2="899.4" y2="367.8"><stop offset="0.000" stop-color="#202020"/><stop offset="0.050" stop-color="#5e5e5e"/><stop offset="0.200" stop-color="#7e7e7e"/><stop offset="0.350" stop-color="#b8b8b8"/><stop offset="0.500" stop-color="#dedede"/><stop offset="0.700" stop-color="#7e7e7e"/><stop offset="0.850" stop-color="#474747"/><stop offset="0.950" stop-color="#2a2a2a"/><stop offset="1.000" stop-color="#151515"/></linearGradient><linearGradient id="g184" gradientUnits="userSpaceOnUse" x1="879.3" y1="354.4" x2="895.0" y2="371.8"><stop offset="0.000" stop-color="#202020"/><stop offset="0.050" stop-color="#5e5e5e"/><stop offset="0.200" stop-color="#7e7e7e"/><stop offset="0.350" stop-color="#b8b8b8"/><stop offset="0.500" stop-color="#dedede"/><stop offset="0.700" stop-color="#7e7e7e"/><stop offset="0.850" stop-color="#474747"/><stop offset="0.950" stop-color="#2a2a2a"/><stop offset="1.000" stop-color="#151515"/></linearGradient><linearGradient id="g185" gradientUnits="userSpaceOnUse" x1="874.9" y1="358.3" x2="890.6" y2="375.8"><stop offset="0.000" stop-color="#202020"/><stop offset="0.050" stop-color="#5e5e5e"/><stop offset="0.200" stop-color="#7e7e7e"/><stop offset="0.350" stop-color="#b8b8b8"/><stop offset="0.500" stop-color="#dedede"/><stop offset="0.700" stop-color="#7e7e7e"/><stop offset="0.850" stop-color="#474747"/><stop offset="0.950" stop-color="#2a2a2a"/><stop offset="1.000" stop-color="#151515"/></linearGradient><linearGradient id="g186" gradientUnits="userSpaceOnUse" x1="872.0" y1="360.9" x2="887.1" y2="378.9"><stop offset="0.000" stop-color="#202020"/><stop offset="0.050" stop-color="#5e5e5e"/><stop offset="0.200" stop-color="#7e7e7e"/><stop offset="0.350" stop-color="#b8b8b8"/><stop offset="0.500" stop-color="#dedede"/><stop offset="0.700" stop-color="#7e7e7e"/><stop offset="0.850" stop-color="#474747"/><stop offset="0.950" stop-color="#2a2a2a"/><stop offset="1.000" stop-color="#151515"/></linearGradient><linearGradient id="g187" gradientUnits="userSpaceOnUse" x1="870.4" y1="362.1" x2="884.5" y2="380.9"><stop offset="0.000" stop-color="#202020"/><stop offset="0.050" stop-color="#5e5e5e"/><stop offset="0.200" stop-color="#7e7e7e"/><stop offset="0.350" stop-color="#b8b8b8"/><stop offset="0.500" stop-color="#dedede"/><stop offset="0.700" stop-color="#7e7e7e"/><stop offset="0.850" stop-color="#474747"/><stop offset="0.950" stop-color="#2a2a2a"/><stop offset="1.000" stop-color="#151515"/></linearGradient><linearGradient id="g188" gradientUnits="userSpaceOnUse" x1="867.3" y1="364.3" x2="880.8" y2="383.5"><stop offset="0.000" stop-color="#202020"/><stop offset="0.050" stop-color="#5e5e5e"/><stop offset="0.200" stop-color="#7e7e7e"/><stop offset="0.350" stop-color="#b8b8b8"/><stop offset="0.500" stop-color="#dedede"/><stop offset="0.700" stop-color="#7e7e7e"/><stop offset="0.850" stop-color="#474747"/><stop offset="0.950" stop-color="#2a2a2a"/><stop offset="1.000" stop-color="#151515"/></linearGradient><linearGradient id="g189" gradientUnits="userSpaceOnUse" x1="862.7" y1="367.5" x2="876.1" y2="386.8"><stop offset="0.000" stop-color="#202020"/><stop offset="0.050" stop-color="#5e5e5e"/><stop offset="0.200" stop-color="#7e7e7e"/><stop offset="0.350" stop-color="#b8b8b8"/><stop offset="0.500" stop-color="#dedede"/><stop offset="0.700" stop-color="#7e7e7e"/><stop offset="0.850" stop-color="#474747"/><stop offset="0.950" stop-color="#2a2a2a"/><stop offset="1.000" stop-color="#151515"/></linearGradient><linearGradient id="g190" gradientUnits="userSpaceOnUse" x1="858.0" y1="370.7" x2="871.4" y2="390.1"><stop offset="0.000" stop-color="#202020"/><stop offset="0.050" stop-color="#5e5e5e"/><stop offset="0.200" stop-color="#7e7e7e"/><stop offset="0.350" stop-color="#b8b8b8"/><stop offset="0.500" stop-color="#dedede"/><stop offset="0.700" stop-color="#7e7e7e"/><stop offset="0.850" stop-color="#474747"/><stop offset="0.950" stop-color="#2a2a2a"/><stop offset="1.000" stop-color="#151515"/></linearGradient><linearGradient id="g191" gradientUnits="userSpaceOnUse" x1="853.3" y1="373.9" x2="866.7" y2="393.3"><stop offset="0.000" stop-color="#202020"/><stop offset="0.050" stop-color="#5e5e5e"/><stop offset="0.200" stop-color="#7e7e7e"/><stop offset="0.350" stop-color="#b8b8b8"/><stop offset="0.500" stop-color="#dedede"/><stop offset="0.700" stop-color="#7e7e7e"/><stop offset="0.850" stop-color="#474747"/><stop offset="0.950" stop-color="#2a2a2a"/><stop offset="1.000" stop-color="#151515"/></linearGradient><linearGradient id="g192" gradientUnits="userSpaceOnUse" x1="848.6" y1="377.2" x2="862.0" y2="396.5"><stop offset="0.000" stop-color="#202020"/><stop offset="0.050" stop-color="#5e5e5e"/><stop offset="0.200" stop-color="#7e7e7e"/><stop offset="0.350" stop-color="#b8b8b8"/><stop offset="0.500" stop-color="#dedede"/><stop offset="0.700" stop-color="#7e7e7e"/><stop offset="0.850" stop-color="#474747"/><stop offset="0.950" stop-color="#2a2a2a"/><stop offset="1.000" stop-color="#151515"/></linearGradient><linearGradient id="g193" gradientUnits="userSpaceOnUse" x1="843.9" y1="380.4" x2="857.3" y2="399.8"><stop offset="0.000" stop-color="#202020"/><stop offset="0.050" stop-color="#5e5e5e"/><stop offset="0.200" stop-color="#7e7e7e"/><stop offset="0.350" stop-color="#b8b8b8"/><stop offset="0.500" stop-color="#dedede"/><stop offset="0.700" stop-color="#7e7e7e"/><stop offset="0.850" stop-color="#474747"/><stop offset="0.950" stop-color="#2a2a2a"/><stop offset="1.000" stop-color="#151515"/></linearGradient><linearGradient id="g194" gradientUnits="userSpaceOnUse" x1="839.2" y1="383.6" x2="852.6" y2="403.0"><stop offset="0.000" stop-color="#202020"/><stop offset="0.050" stop-color="#5e5e5e"/><stop offset="0.200" stop-color="#7e7e7e"/><stop offset="0.350" stop-color="#b8b8b8"/><stop offset="0.500" stop-color="#dedede"/><stop offset="0.700" stop-color="#7e7e7e"/><stop offset="0.850" stop-color="#474747"/><stop offset="0.950" stop-color="#2a2a2a"/><stop offset="1.000" stop-color="#151515"/></linearGradient><linearGradient id="g195" gradientUnits="userSpaceOnUse" x1="834.5" y1="386.9" x2="847.9" y2="406.3"><stop offset="0.000" stop-color="#202020"/><stop offset="0.050" stop-color="#5e5e5e"/><stop offset="0.200" stop-color="#7e7e7e"/><stop offset="0.350" stop-color="#b8b8b8"/><stop offset="0.500" stop-color="#dedede"/><stop offset="0.700" stop-color="#7e7e7e"/><stop offset="0.850" stop-color="#474747"/><stop offset="0.950" stop-color="#2a2a2a"/><stop offset="1.000" stop-color="#151515"/></linearGradient><linearGradient id="g196" gradientUnits="userSpaceOnUse" x1="829.8" y1="390.1" x2="843.2" y2="409.5"><stop offset="0.000" stop-color="#202020"/><stop offset="0.050" stop-color="#5e5e5e"/><stop offset="0.200" stop-color="#7e7e7e"/><stop offset="0.350" stop-color="#b8b8b8"/><stop offset="0.500" stop-color="#dedede"/><stop offset="0.700" stop-color="#7e7e7e"/><stop offset="0.850" stop-color="#474747"/><stop offset="0.950" stop-color="#2a2a2a"/><stop offset="1.000" stop-color="#151515"/></linearGradient><linearGradient id="g197" gradientUnits="userSpaceOnUse" x1="825.1" y1="393.3" x2="838.5" y2="412.7"><stop offset="0.000" stop-color="#202020"/><stop offset="0.050" stop-color="#5e5e5e"/><stop offset="0.200" stop-color="#7e7e7e"/><stop offset="0.350" stop-color="#b8b8b8"/><stop offset="0.500" stop-color="#dedede"/><stop offset="0.700" stop-color="#7e7e7e"/><stop offset="0.850" stop-color="#474747"/><stop offset="0.950" stop-color="#2a2a2a"/><stop offset="1.000" stop-color="#151515"/></linearGradient><linearGradient id="g198" gradientUnits="userSpaceOnUse" x1="820.4" y1="396.6" x2="833.8" y2="416.0"><stop offset="0.000" stop-color="#202020"/><stop offset="0.050" stop-color="#5e5e5e"/><stop offset="0.200" stop-color="#7e7e7e"/><stop offset="0.350" stop-color="#b8b8b8"/><stop offset="0.500" stop-color="#dedede"/><stop offset="0.700" stop-color="#7e7e7e"/><stop offset="0.850" stop-color="#474747"/><stop offset="0.950" stop-color="#2a2a2a"/><stop offset="1.000" stop-color="#151515"/></linearGradient><linearGradient id="g199" gradientUnits="userSpaceOnUse" x1="815.7" y1="399.8" x2="829.1" y2="419.2"><stop offset="0.000" stop-color="#202020"/><stop offset="0.050" stop-color="#5e5e5e"/><stop offset="0.200" stop-color="#7e7e7e"/><stop offset="0.350" stop-color="#b8b8b8"/><stop offset="0.500" stop-color="#dedede"/><stop offset="0.700" stop-color="#7e7e7e"/><stop offset="0.850" stop-color="#474747"/><stop offset="0.950" stop-color="#2a2a2a"/><stop offset="1.000" stop-color="#151515"/></linearGradient><linearGradient id="g200" gradientUnits="userSpaceOnUse" x1="811.0" y1="403.0" x2="824.4" y2="422.5"><stop offset="0.000" stop-color="#202020"/><stop offset="0.050" stop-color="#5e5e5e"/><stop offset="0.200" stop-color="#7e7e7e"/><stop offset="0.350" stop-color="#b8b8b8"/><stop offset="0.500" stop-color="#dedede"/><stop offset="0.700" stop-color="#7e7e7e"/><stop offset="0.850" stop-color="#474747"/><stop offset="0.950" stop-color="#2a2a2a"/><stop offset="1.000" stop-color="#151515"/></linearGradient><linearGradient id="g201" gradientUnits="userSpaceOnUse" x1="806.4" y1="406.3" x2="819.7" y2="425.7"><stop offset="0.000" stop-color="#202020"/><stop offset="0.050" stop-color="#5e5e5e"/><stop offset="0.200" stop-color="#7e7e7e"/><stop offset="0.350" stop-color="#b8b8b8"/><stop offset="0.500" stop-color="#dedede"/><stop offset="0.700" stop-color="#7e7e7e"/><stop offset="0.850" stop-color="#474747"/><stop offset="0.950" stop-color="#2a2a2a"/><stop offset="1.000" stop-color="#151515"/></linearGradient><clipPath id="clipB"><path d="M1082.6,149.4 C1090.5,151.5 1097.5,162 1093.2,177.5 L1100,200 L850,445 L840,434.4 L760,377.3 L760,300 L1060,120 Z"/></clipPath><linearGradient id="capB" x1="0" y1="0" x2="0" y2="1"><stop offset="0" stop-color="#3a3a3a"/><stop offset="0.5" stop-color="#242424"/><stop offset="1" stop-color="#161616"/></linearGradient></defs><line x1="870.5" y1="113.5" x2="946.5" y2="133.2" stroke="#666" stroke-width="0.8" stroke-dasharray="2.5,1.5"/><line x1="719.2" y1="287.5" x2="774.5" y2="192.5" stroke="#555" stroke-width="0.8"/><line x1="719.2" y1="287.5" x2="776.5" y2="250.5" stroke="#555" stroke-width="0.8"/><line x1="778.3" y1="334.2" x2="824.5" y2="307.5" stroke="#555" stroke-width="0.8"/><line x1="602.0" y1="370.0" x2="657.5" y2="403.3" stroke="#555" stroke-width="0.8"/><line x1="600.0" y1="423.3" x2="663.3" y2="436.7" stroke="#555" stroke-width="0.8" stroke-dasharray="3,2"/><line x1="918.3" y1="406.8" x2="884.0" y2="374.0" stroke="#555" stroke-width="0.8"/><line x1="1036.7" y1="317.0" x2="968.0" y2="290.0" stroke="#666" stroke-width="0.8"/><path d="M988,113.5 L1000,116.3 L1022.6,126 L1072,135.5 L1066,145.5 L1017,135.6 L1000,127.2 L988,122.8 A4.8,4.8 0 0 1 988,113.5Z" fill="url(#arm)" stroke="#111" stroke-width="1.5" stroke-linejoin="round"/><path d="M656.5,411.5 L669,412.4 L683.3,418.2 L712,427 L740,431.5 L722,440 L712,437.5 L677.6,426.9 L658,419.3 A4,4 0 0 1 656.5,411.5Z" fill="url(#arm)" stroke="#111" stroke-width="1.5" stroke-linejoin="round"/><ellipse cx="665" cy="415.5" rx="5.5" ry="2.4" fill="#eee" stroke="#222" stroke-width="0.8"/><ellipse cx="994" cy="118.5" rx="5.5" ry="2.4" fill="#eee" stroke="#222" stroke-width="0.8"/><rect x="664.2" y="420" width="5" height="29" fill="url(#rvshaft)" stroke="#1a0a0c" stroke-width="1"/><ellipse cx="663.5" cy="423" rx="4.6" ry="2.2" fill="#a01828" stroke="#1a0a0c" stroke-width="1"/><rect x="994" y="120" width="5" height="33" fill="url(#rvshaft)" stroke="#1a0a0c" stroke-width="1"/><path d="M992.5,152 L1001,152 L1001,157 Q996.8,159.5 992.5,157Z" fill="#7a0e1a" stroke="#1a0a0c" stroke-width="1"/><path d="M657.8,398.2 L657.8,412.0 A7.4,2.6 0 0 0 672.6,412.0 L672.6,398.2 A7.4,2.6 0 0 0 657.8,398.2 Z" fill="url(#rcyl)" stroke="#1a0a0c" stroke-width="1.2"/><ellipse cx="665.2" cy="398.2" rx="7.4" ry="2.6" fill="#5a0812" stroke="#1a0a0c" stroke-width="1.1"/><path d="M986.2,100.4 L986.2,115.0 A7.8,2.6 0 0 0 1001.8,115.0 L1001.8,100.4 A7.8,2.6 0 0 0 986.2,100.4 Z" fill="url(#rcyl)" stroke="#1a0a0c" stroke-width="1.2"/><ellipse cx="994.0" cy="100.4" rx="7.8" ry="2.6" fill="#5a0812" stroke="#1a0a0c" stroke-width="1.1"/><path d="M981.7,132.8 L996,120.5 L997.9,126.3 L983.2,140 Z" fill="url(#rnut)" stroke="#1a0a0c" stroke-width="1.1" stroke-linejoin="round"/><rect x="853.6" y="339" width="4.4" height="19" fill="url(#rvshaft)" stroke="#1a0a0c" stroke-width="1"/><rect x="967.8" y="237" width="4.4" height="15" fill="url(#rvshaft)" stroke="#1a0a0c" stroke-width="1"/><g clip-path="url(#clipA)"><path fill="url(#g1)" d="M1069.2,19.6 L1069.8,26.1 L1103.2,22.9 L1102.6,16.4Z"/><path fill="url(#g2)" d="M1069.7,25.3 L1070.4,31.8 L1103.7,28.6 L1103.1,22.1Z"/><path fill="url(#g3)" d="M1070.3,31.0 L1071.0,37.5 L1104.2,34.3 L1103.6,27.8Z"/><path fill="url(#g4)" d="M1070.9,36.7 L1071.5,43.2 L1104.7,40.1 L1104.2,33.6Z"/><path fill="url(#g5)" d="M1071.5,42.4 L1072.1,48.9 L1105.2,45.8 L1104.7,39.3Z"/><path fill="url(#g6)" d="M1072.0,48.1 L1072.7,54.6 L1105.8,51.5 L1105.2,45.0Z"/><path fill="url(#g7)" d="M1072.6,53.8 L1073.2,60.3 L1106.3,57.2 L1105.7,50.7Z"/><path fill="url(#g8)" d="M1073.2,59.5 L1073.8,66.0 L1106.8,62.9 L1106.2,56.4Z"/><path fill="url(#g9)" d="M1073.7,65.2 L1074.4,71.7 L1107.3,68.6 L1106.7,62.1Z"/><path fill="url(#g10)" d="M1074.3,70.9 L1075.0,77.4 L1107.8,74.3 L1107.2,67.8Z"/><path fill="url(#g11)" d="M1074.9,76.6 L1075.5,83.1 L1108.3,80.0 L1107.7,73.5Z"/><path fill="url(#g12)" d="M1075.5,82.3 L1076.1,88.8 L1108.8,85.7 L1108.2,79.2Z"/><path fill="url(#g13)" d="M1076.0,88.0 L1076.7,94.5 L1109.3,91.5 L1108.7,85.0Z"/><path fill="url(#g14)" d="M1076.6,93.7 L1077.2,100.3 L1109.8,97.2 L1109.2,90.7Z"/><path fill="url(#g15)" d="M1077.2,99.5 L1077.8,106.0 L1110.3,102.9 L1109.7,96.4Z"/><path fill="url(#g16)" d="M1077.7,105.2 L1078.4,111.7 L1110.8,108.6 L1110.3,102.1Z"/><path fill="url(#g17)" d="M1078.3,110.9 L1079.0,117.4 L1111.4,114.3 L1110.8,107.8Z"/><path fill="url(#g18)" d="M1078.9,116.6 L1079.5,122.3 L1111.9,120.7 L1111.3,113.5Z"/><path fill="url(#g19)" d="M1079.4,121.5 L1079.5,124.1 L1111.8,126.9 L1111.8,119.9Z"/><path fill="url(#g20)" d="M1079.5,123.3 L1079.2,125.1 L1110.4,133.6 L1111.8,126.1Z"/><path fill="url(#g21)" d="M1079.3,124.3 L1078.7,126.1 L1107.9,140.0 L1110.6,132.9Z"/><path fill="url(#g22)" d="M1079.0,125.3 L1077.6,127.5 L1104.6,145.3 L1108.1,139.3Z"/><path fill="url(#g23)" d="M1078.1,126.9 L1074.7,131.6 L1100.7,150.5 L1105.0,144.6Z"/><path fill="url(#g24)" d="M1075.1,130.9 L1071.3,136.3 L1097.3,155.1 L1101.2,149.8Z"/><path fill="url(#g25)" d="M1071.8,135.6 L1068.0,141.0 L1093.9,159.7 L1097.8,154.4Z"/><path fill="url(#g26)" d="M1068.5,140.3 L1064.6,145.6 L1090.5,164.4 L1094.4,159.1Z"/><path fill="url(#g27)" d="M1065.1,145.0 L1061.3,150.3 L1087.1,169.0 L1091.0,163.7Z"/><path fill="url(#g28)" d="M1061.8,149.7 L1058.0,155.0 L1083.7,173.6 L1087.6,168.4Z"/><path fill="url(#g29)" d="M1058.4,154.4 L1054.6,159.7 L1080.3,178.3 L1084.2,173.0Z"/><path fill="url(#g30)" d="M1055.1,159.0 L1051.3,164.4 L1076.9,182.9 L1080.8,177.6Z"/><path fill="url(#g31)" d="M1051.8,163.7 L1047.9,169.1 L1073.5,187.5 L1077.4,182.3Z"/><path fill="url(#g32)" d="M1048.4,168.4 L1044.6,173.7 L1070.1,192.2 L1074.0,186.9Z"/><path fill="url(#g33)" d="M1045.1,173.1 L1041.3,178.4 L1066.7,196.8 L1070.6,191.5Z"/><path fill="url(#g34)" d="M1041.7,177.8 L1037.9,183.1 L1063.3,201.4 L1067.1,196.2Z"/><path fill="url(#g35)" d="M1038.4,182.5 L1034.6,187.8 L1059.9,206.1 L1063.7,200.8Z"/><path fill="url(#g36)" d="M1035.1,187.1 L1031.3,192.5 L1056.5,210.7 L1060.3,205.4Z"/><path fill="url(#g37)" d="M1031.7,191.8 L1027.9,197.2 L1053.1,215.4 L1056.9,210.1Z"/><path fill="url(#g38)" d="M1028.4,196.5 L1024.6,201.8 L1049.7,220.0 L1053.5,214.7Z"/><path fill="url(#g39)" d="M1025.0,201.2 L1021.2,206.5 L1046.2,224.6 L1050.1,219.3Z"/><path fill="url(#g40)" d="M1021.7,205.9 L1018.1,210.9 L1042.6,229.6 L1046.7,224.0Z"/><path fill="url(#g41)" d="M1018.6,210.2 L1018.1,210.9 L1041.0,231.5 L1043.1,228.9Z"/><path fill="url(#g42)" d="M1018.6,210.3 L1018.0,210.9 L1039.2,233.1 L1041.5,230.8Z"/><path fill="url(#g43)" d="M1018.6,210.3 L1013.9,214.6 L1034.5,237.3 L1039.8,232.6Z"/><path fill="url(#g44)" d="M1014.5,214.0 L1009.6,218.5 L1030.1,241.2 L1035.1,236.8Z"/><path fill="url(#g45)" d="M1010.2,218.0 L1005.2,222.5 L1025.7,245.1 L1030.7,240.7Z"/><path fill="url(#g46)" d="M1005.8,222.0 L1000.9,226.5 L1021.3,249.1 L1026.3,244.6Z"/><path fill="url(#g47)" d="M1001.5,226.0 L996.6,230.5 L1017.0,253.0 L1021.9,248.5Z"/><path fill="url(#g48)" d="M997.1,229.9 L992.2,234.4 L1012.6,256.9 L1017.5,252.5Z"/><path fill="url(#g49)" d="M992.8,233.9 L987.8,238.4 L1008.2,260.9 L1013.2,256.4Z"/><path fill="url(#g50)" d="M988.4,237.8 L983.5,242.3 L1003.9,264.8 L1008.8,260.4Z"/><path fill="url(#g51)" d="M984.1,241.8 L979.1,246.2 L999.5,268.8 L1004.5,264.3Z"/><path fill="url(#g52)" d="M979.7,245.7 L974.7,250.2 L995.1,272.7 L1000.1,268.3Z"/><path fill="url(#g53)" d="M975.3,249.7 L970.4,254.1 L990.8,276.7 L995.7,272.2Z"/><path fill="url(#g54)" d="M971.0,253.6 L966.0,258.1 L986.4,280.6 L991.4,276.2Z"/><path fill="url(#g55)" d="M966.6,257.6 L961.6,262.0 L982.0,284.6 L987.0,280.1Z"/><path fill="url(#g56)" d="M962.2,261.5 L957.3,266.0 L977.7,288.5 L982.6,284.1Z"/><path fill="url(#g57)" d="M957.9,265.5 L952.9,269.9 L973.3,292.5 L978.3,288.0Z"/><path fill="url(#g58)" d="M953.5,269.4 L948.5,273.9 L968.9,296.4 L973.9,291.9Z"/><path fill="url(#g59)" d="M949.1,273.4 L944.2,277.8 L964.6,300.4 L969.5,295.9Z"/><path fill="url(#g60)" d="M944.8,277.3 L939.8,281.8 L960.2,304.3 L965.2,299.8Z"/><path fill="url(#g61)" d="M940.4,281.3 L935.5,285.7 L955.9,308.3 L960.8,303.8Z"/><path fill="url(#g62)" d="M936.0,285.2 L931.1,289.7 L951.5,312.2 L956.4,307.7Z"/><path fill="url(#g63)" d="M931.7,289.2 L926.7,293.6 L947.1,316.2 L952.1,311.7Z"/><path fill="url(#g64)" d="M927.3,293.1 L922.4,297.6 L942.8,320.1 L947.7,315.6Z"/><path fill="url(#g65)" d="M923.0,297.0 L918.0,301.5 L938.4,324.1 L943.4,319.6Z"/><path fill="url(#g66)" d="M918.6,301.0 L913.6,305.5 L934.0,328.0 L939.0,323.5Z"/><path fill="url(#g67)" d="M914.2,304.9 L909.3,309.4 L929.7,332.0 L934.6,327.5Z"/><path fill="url(#g68)" d="M909.9,308.9 L904.9,313.4 L925.3,335.9 L930.3,331.4Z"/><path fill="url(#g69)" d="M905.5,312.8 L900.5,317.3 L920.9,339.9 L925.9,335.4Z"/><path fill="url(#g70)" d="M901.1,316.8 L896.2,321.3 L916.6,343.8 L921.5,339.3Z"/><path fill="url(#g71)" d="M896.8,320.7 L891.8,325.2 L912.2,347.8 L917.2,343.3Z"/><path fill="url(#g72)" d="M892.4,324.7 L887.4,329.2 L907.8,351.7 L912.8,347.2Z"/><path fill="url(#g73)" d="M888.0,328.6 L883.1,333.1 L903.5,355.7 L908.4,351.2Z"/><path fill="url(#g74)" d="M883.7,332.6 L878.7,337.1 L899.1,359.6 L904.1,355.1Z"/><path fill="url(#g75)" d="M879.3,336.5 L874.4,341.0 L894.8,363.6 L899.7,359.1Z"/><path fill="url(#g76)" d="M875.0,340.5 L870.0,345.0 L890.4,367.5 L895.3,363.0Z"/><path fill="url(#g77)" d="M870.6,344.4 L865.6,348.9 L886.0,371.5 L891.0,367.0Z"/><path fill="url(#g78)" d="M866.2,348.4 L861.3,352.9 L881.7,375.4 L886.6,370.9Z"/><path fill="url(#g79)" d="M861.9,352.3 L856.9,356.8 L877.3,379.4 L882.3,374.9Z"/><path fill="url(#g80)" d="M857.5,356.3 L852.5,360.8 L872.9,383.3 L877.9,378.8Z"/><path fill="url(#g81)" d="M853.1,360.2 L848.2,364.7 L868.6,387.3 L873.5,382.8Z"/><path fill="url(#g82)" d="M848.8,364.2 L844.1,368.4 L863.9,391.4 L869.2,386.7Z"/><path fill="url(#g83)" d="M844.7,367.9 L842.7,369.5 L860.9,393.9 L864.5,390.9Z"/><path fill="url(#g84)" d="M843.3,369.0 L841.2,370.4 L857.6,396.0 L861.5,393.4Z"/><path fill="url(#g85)" d="M841.9,370.0 L836.4,373.3 L852.2,399.3 L858.3,395.6Z"/><path fill="url(#g86)" d="M837.1,372.9 L831.3,376.4 L847.1,402.4 L852.9,398.8Z"/><path fill="url(#g87)" d="M832.0,376.0 L826.2,379.5 L842.1,405.5 L847.8,401.9Z"/><path fill="url(#g88)" d="M826.9,379.1 L821.2,382.6 L837.0,408.6 L842.7,405.0Z"/><path fill="url(#g89)" d="M821.8,382.2 L816.1,385.7 L831.9,411.7 L837.7,408.1Z"/><path fill="url(#g90)" d="M816.8,385.3 L811.0,388.8 L826.8,414.8 L832.6,411.2Z"/><path fill="url(#g91)" d="M811.7,388.4 L805.9,391.9 L821.7,417.9 L827.5,414.3Z"/><path fill="url(#g92)" d="M806.6,391.5 L800.8,395.0 L816.7,420.9 L822.4,417.4Z"/><path fill="url(#g93)" d="M801.5,394.6 L795.7,398.1 L811.6,424.0 L817.3,420.5Z"/><path fill="url(#g94)" d="M796.4,397.7 L790.6,401.2 L806.5,427.2 L812.3,423.6Z"/><path fill="url(#g95)" d="M791.3,400.7 L785.5,404.2 L801.4,430.3 L807.2,426.8Z"/><path fill="url(#g96)" d="M786.2,403.8 L780.4,407.3 L796.4,433.4 L802.1,429.9Z"/><path fill="url(#g97)" d="M781.1,406.9 L775.3,410.4 L791.3,436.6 L797.1,433.0Z"/><path fill="url(#g98)" d="M776.0,409.9 L770.2,413.4 L786.3,439.7 L792.0,436.1Z"/><path fill="url(#g99)" d="M770.9,413.0 L765.1,416.5 L781.2,442.8 L786.9,439.3Z"/><path fill="url(#g100)" d="M765.8,416.1 L760.0,419.6 L776.1,445.9 L781.9,442.4Z"/><path fill="url(#g101)" d="M760.7,419.1 L754.9,422.6 L771.1,449.1 L776.8,445.5Z"/><path fill="url(#g102)" d="M755.6,422.2 L749.8,425.7 L766.0,452.2 L771.7,448.7Z"/><path fill="url(#g103)" d="M750.5,425.3 L744.7,428.7 L760.9,455.3 L766.7,451.8Z"/><path fill="url(#g104)" d="M745.4,428.3 L739.9,431.6 L755.6,458.6 L761.6,454.9Z"/><path fill="url(#g105)" d="M740.6,431.2 L737.7,432.8 L751.6,460.8 L756.3,458.2Z"/><path fill="url(#g106)" d="M738.4,432.4 L735.8,433.6 L747.1,462.7 L752.3,460.4Z"/><path fill="url(#g107)" d="M736.5,433.3 L733.7,434.2 L742.5,464.2 L747.9,462.4Z"/><path fill="url(#g108)" d="M734.5,433.9 L731.3,434.7 L738.1,465.3 L743.3,464.0Z"/><path fill="url(#g109)" d="M732.1,434.5 L725.9,435.7 L732.0,466.5 L738.9,465.1Z"/><path fill="url(#g110)" d="M726.7,435.5 L720.1,436.8 L726.3,467.7 L732.8,466.4Z"/><path fill="url(#g111)" d="M720.9,436.6 L714.4,437.9 L720.6,468.9 L727.1,467.5Z"/><path fill="url(#g112)" d="M715.2,437.7 L708.7,439.0 L714.9,470.1 L721.4,468.7Z"/><path fill="url(#g113)" d="M709.5,438.8 L702.9,440.1 L709.2,471.2 L715.7,469.9Z"/><path fill="url(#g114)" d="M703.7,440.0 L697.2,441.2 L703.4,472.4 L709.9,471.1Z"/><path fill="url(#g115)" d="M698.0,441.1 L691.5,442.3 L697.7,473.6 L704.2,472.3Z"/><path fill="url(#g116)" d="M692.2,442.2 L685.7,443.5 L692.0,474.8 L698.5,473.4Z"/><path fill="url(#g117)" d="M686.5,443.3 L680.0,444.6 L686.3,476.0 L692.8,474.6Z"/><path fill="url(#g118)" d="M680.8,444.4 L674.3,445.7 L680.6,477.1 L687.1,475.8Z"/><path fill="url(#g119)" d="M675.0,445.5 L668.5,446.8 L674.8,478.3 L681.3,477.0Z"/><path fill="url(#g120)" d="M669.3,446.6 L662.8,447.9 L669.1,479.5 L675.6,478.2Z"/><path fill="url(#g121)" d="M663.6,447.7 L657.1,449.0 L663.4,480.7 L669.9,479.3Z"/><path fill="url(#g122)" d="M657.8,448.9 L651.3,450.1 L657.7,481.9 L664.2,480.5Z"/><path fill="url(#g123)" d="M652.1,450.0 L645.6,451.2 L651.9,483.0 L658.5,481.7Z"/><path fill="url(#g124)" d="M646.4,451.1 L639.9,452.4 L646.2,484.2 L652.7,482.9Z"/><path fill="url(#g125)" d="M640.6,452.2 L634.1,453.5 L640.5,485.4 L647.0,484.1Z"/><path fill="url(#g126)" d="M634.9,453.3 L628.4,454.6 L634.8,486.6 L641.3,485.2Z"/><path fill="url(#g127)" d="M629.2,454.4 L622.6,455.7 L629.1,487.7 L635.6,486.4Z"/><path fill="url(#g128)" d="M623.4,455.5 L616.9,456.8 L623.3,488.9 L629.8,487.6Z"/><path fill="url(#g129)" d="M617.7,456.7 L611.2,457.9 L617.6,490.1 L624.1,488.8Z"/><path fill="url(#g130)" d="M612.0,457.8 L605.4,459.0 L611.9,491.3 L618.4,489.9Z"/><path fill="url(#g131)" d="M606.2,458.9 L599.7,460.2 L606.2,492.5 L612.7,491.1Z"/><path fill="url(#g132)" d="M600.5,460.0 L594.8,461.1 L601.2,493.5 L607.0,492.3Z"/><path d="M1069.2,19.6 L1069.7,25.3 L1070.3,31.0 L1070.9,36.7 L1071.5,42.4 L1072.0,48.1 L1072.6,53.8 L1073.2,59.5 L1073.7,65.2 L1074.3,70.9 L1074.9,76.6 L1075.5,82.3 L1076.0,88.0 L1076.6,93.7 L1077.2,99.5 L1077.7,105.2 L1078.3,110.9 L1078.9,116.6 L1079.4,121.5 L1079.5,123.3 L1079.3,124.3 L1079.0,125.3 L1078.1,126.9 L1075.1,130.9 L1071.8,135.6 L1068.5,140.3 L1065.1,145.0 L1061.8,149.7 L1058.4,154.4 L1055.1,159.0 L1051.8,163.7 L1048.4,168.4 L1045.1,173.1 L1041.7,177.8 L1038.4,182.5 L1035.1,187.1 L1031.7,191.8 L1028.4,196.5 L1025.0,201.2 L1021.7,205.9 L1018.6,210.2 L1018.6,210.3 L1018.6,210.3 L1014.5,214.0 L1010.2,218.0 L1005.8,222.0 L1001.5,226.0 L997.1,229.9 L992.8,233.9 L988.4,237.8 L984.1,241.8 L979.7,245.7 L975.3,249.7 L971.0,253.6 L966.6,257.6 L962.2,261.5 L957.9,265.5 L953.5,269.4 L949.1,273.4 L944.8,277.3 L940.4,281.3 L936.0,285.2 L931.7,289.2 L927.3,293.1 L923.0,297.0 L918.6,301.0 L914.2,304.9 L909.9,308.9 L905.5,312.8 L901.1,316.8 L896.8,320.7 L892.4,324.7 L888.0,328.6 L883.7,332.6 L879.3,336.5 L875.0,340.5 L870.6,344.4 L866.2,348.4 L861.9,352.3 L857.5,356.3 L853.1,360.2 L848.8,364.2 L844.7,367.9 L843.3,369.0 L841.9,370.0 L837.1,372.9 L832.0,376.0 L826.9,379.1 L821.8,382.2 L816.8,385.3 L811.7,388.4 L806.6,391.5 L801.5,394.6 L796.4,397.7 L791.3,400.7 L786.2,403.8 L781.1,406.9 L776.0,409.9 L770.9,413.0 L765.8,416.1 L760.7,419.1 L755.6,422.2 L750.5,425.3 L745.4,428.3 L740.6,431.2 L738.4,432.4 L736.5,433.3 L734.5,433.9 L732.1,434.5 L726.7,435.5 L720.9,436.6 L715.2,437.7 L709.5,438.8 L703.7,440.0 L698.0,441.1 L692.2,442.2 L686.5,443.3 L680.8,444.4 L675.0,445.5 L669.3,446.6 L663.6,447.7 L657.8,448.9 L652.1,450.0 L646.4,451.1 L640.6,452.2 L634.9,453.3 L629.2,454.4 L623.4,455.5 L617.7,456.7 L612.0,457.8 L606.2,458.9 L600.5,460.0 L594.8,461.1" fill="none" stroke="#111" stroke-width="1.6"/><path d="M1102.6,16.4 L1103.1,22.1 L1103.6,27.8 L1104.2,33.6 L1104.7,39.3 L1105.2,45.0 L1105.7,50.7 L1106.2,56.4 L1106.7,62.1 L1107.2,67.8 L1107.7,73.5 L1108.2,79.2 L1108.7,85.0 L1109.2,90.7 L1109.7,96.4 L1110.3,102.1 L1110.8,107.8 L1111.3,113.5 L1111.8,119.9 L1111.8,126.1 L1110.6,132.9 L1108.1,139.3 L1105.0,144.6 L1101.2,149.8 L1097.8,154.4 L1094.4,159.1 L1091.0,163.7 L1087.6,168.4 L1084.2,173.0 L1080.8,177.6 L1077.4,182.3 L1074.0,186.9 L1070.6,191.5 L1067.1,196.2 L1063.7,200.8 L1060.3,205.4 L1056.9,210.1 L1053.5,214.7 L1050.1,219.3 L1046.7,224.0 L1043.1,228.9 L1041.5,230.8 L1039.8,232.6 L1035.1,236.8 L1030.7,240.7 L1026.3,244.6 L1021.9,248.5 L1017.5,252.5 L1013.2,256.4 L1008.8,260.4 L1004.5,264.3 L1000.1,268.3 L995.7,272.2 L991.4,276.2 L987.0,280.1 L982.6,284.1 L978.3,288.0 L973.9,291.9 L969.5,295.9 L965.2,299.8 L960.8,303.8 L956.4,307.7 L952.1,311.7 L947.7,315.6 L943.4,319.6 L939.0,323.5 L934.6,327.5 L930.3,331.4 L925.9,335.4 L921.5,339.3 L917.2,343.3 L912.8,347.2 L908.4,351.2 L904.1,355.1 L899.7,359.1 L895.3,363.0 L891.0,367.0 L886.6,370.9 L882.3,374.9 L877.9,378.8 L873.5,382.8 L869.2,386.7 L864.5,390.9 L861.5,393.4 L858.3,395.6 L852.9,398.8 L847.8,401.9 L842.7,405.0 L837.7,408.1 L832.6,411.2 L827.5,414.3 L822.4,417.4 L817.3,420.5 L812.3,423.6 L807.2,426.8 L802.1,429.9 L797.1,433.0 L792.0,436.1 L786.9,439.3 L781.9,442.4 L776.8,445.5 L771.7,448.7 L766.7,451.8 L761.6,454.9 L756.3,458.2 L752.3,460.4 L747.9,462.4 L743.3,464.0 L738.9,465.1 L732.8,466.4 L727.1,467.5 L721.4,468.7 L715.7,469.9 L709.9,471.1 L704.2,472.3 L698.5,473.4 L692.8,474.6 L687.1,475.8 L681.3,477.0 L675.6,478.2 L669.9,479.3 L664.2,480.5 L658.5,481.7 L652.7,482.9 L647.0,484.1 L641.3,485.2 L635.6,486.4 L629.8,487.6 L624.1,488.8 L618.4,489.9 L612.7,491.1 L607.0,492.3 L601.2,493.5" fill="none" stroke="#111" stroke-width="1.6"/></g><path d="M1070.4,32 Q1070.3,20.5 1077,20.2 Q1086,21.5 1097,30.5 Q1104,36.5 1104.8,48" fill="none" stroke="#111" stroke-width="1.6"/><ellipse cx="600.5" cy="475.8" rx="21.3" ry="10.4" transform="rotate(30 600.5 475.8)" fill="url(#capA)" stroke="#111" stroke-width="1.6"/><g clip-path="url(#clipB)"><path fill="url(#g133)" d="M1083.4,148.2 L1079.7,153.3 L1100.0,168.1 L1103.8,163.0Z"/><path fill="url(#g134)" d="M1080.2,152.7 L1076.5,157.9 L1096.6,172.6 L1100.4,167.5Z"/><path fill="url(#g135)" d="M1077.0,157.2 L1073.3,162.4 L1093.3,177.0 L1097.1,171.9Z"/><path fill="url(#g136)" d="M1073.8,161.8 L1070.1,166.9 L1089.9,181.4 L1093.8,176.3Z"/><path fill="url(#g137)" d="M1070.6,166.3 L1066.9,171.5 L1086.6,185.9 L1090.4,180.8Z"/><path fill="url(#g138)" d="M1067.4,170.8 L1063.7,176.0 L1083.3,190.3 L1087.1,185.2Z"/><path fill="url(#g139)" d="M1064.2,175.4 L1060.5,180.5 L1079.9,194.7 L1083.7,189.7Z"/><path fill="url(#g140)" d="M1060.9,179.9 L1057.3,185.1 L1076.6,199.2 L1080.4,194.1Z"/><path fill="url(#g141)" d="M1057.7,184.4 L1054.0,189.6 L1073.2,203.6 L1077.1,198.5Z"/><path fill="url(#g142)" d="M1054.5,189.0 L1050.8,194.1 L1069.9,208.1 L1073.7,203.0Z"/><path fill="url(#g143)" d="M1051.3,193.5 L1047.6,198.7 L1066.6,212.5 L1070.4,207.4Z"/><path fill="url(#g144)" d="M1048.1,198.0 L1044.4,203.2 L1063.2,216.9 L1067.0,211.9Z"/><path fill="url(#g145)" d="M1044.9,202.6 L1041.4,207.5 L1059.7,221.6 L1063.7,216.3Z"/><path fill="url(#g146)" d="M1041.8,206.8 L1040.0,209.2 L1057.2,224.7 L1060.2,221.0Z"/><path fill="url(#g147)" d="M1040.5,208.5 L1038.3,210.6 L1054.4,227.4 L1057.7,224.1Z"/><path fill="url(#g148)" d="M1038.9,210.1 L1034.2,214.4 L1049.7,231.6 L1054.9,226.9Z"/><path fill="url(#g149)" d="M1034.8,213.8 L1029.8,218.3 L1045.4,235.5 L1050.3,231.0Z"/><path fill="url(#g150)" d="M1030.4,217.8 L1025.4,222.3 L1041.0,239.5 L1046.0,235.0Z"/><path fill="url(#g151)" d="M1026.0,221.7 L1021.0,226.2 L1036.6,243.5 L1041.6,239.0Z"/><path fill="url(#g152)" d="M1021.6,225.7 L1016.6,230.2 L1032.2,247.4 L1037.2,242.9Z"/><path fill="url(#g153)" d="M1017.2,229.7 L1012.3,234.2 L1027.9,251.4 L1032.8,246.9Z"/><path fill="url(#g154)" d="M1012.8,233.6 L1007.9,238.1 L1023.5,255.4 L1028.5,250.9Z"/><path fill="url(#g155)" d="M1008.5,237.6 L1003.5,242.1 L1019.1,259.3 L1024.1,254.8Z"/><path fill="url(#g156)" d="M1004.1,241.5 L999.1,246.0 L1014.7,263.3 L1019.7,258.8Z"/><path fill="url(#g157)" d="M999.7,245.5 L994.7,250.0 L1010.4,267.3 L1015.3,262.8Z"/><path fill="url(#g158)" d="M995.3,249.5 L990.4,254.0 L1006.0,271.2 L1011.0,266.7Z"/><path fill="url(#g159)" d="M990.9,253.4 L986.0,257.9 L1001.6,275.2 L1006.6,270.7Z"/><path fill="url(#g160)" d="M986.6,257.4 L981.6,261.9 L997.2,279.1 L1002.2,274.6Z"/><path fill="url(#g161)" d="M982.2,261.3 L977.2,265.8 L992.9,283.1 L997.8,278.6Z"/><path fill="url(#g162)" d="M977.8,265.3 L972.8,269.8 L988.5,287.1 L993.5,282.6Z"/><path fill="url(#g163)" d="M973.4,269.3 L968.5,273.7 L984.1,291.0 L989.1,286.5Z"/><path fill="url(#g164)" d="M969.0,273.2 L964.1,277.7 L979.7,295.0 L984.7,290.5Z"/><path fill="url(#g165)" d="M964.7,277.2 L959.7,281.7 L975.4,299.0 L980.3,294.5Z"/><path fill="url(#g166)" d="M960.3,281.1 L955.3,285.6 L971.0,302.9 L976.0,298.4Z"/><path fill="url(#g167)" d="M955.9,285.1 L950.9,289.6 L966.6,306.9 L971.6,302.4Z"/><path fill="url(#g168)" d="M951.5,289.0 L946.6,293.5 L962.2,310.9 L967.2,306.4Z"/><path fill="url(#g169)" d="M947.1,293.0 L942.2,297.5 L957.9,314.8 L962.8,310.3Z"/><path fill="url(#g170)" d="M942.8,297.0 L937.8,301.5 L953.5,318.8 L958.4,314.3Z"/><path fill="url(#g171)" d="M938.4,300.9 L933.4,305.4 L949.1,322.8 L954.1,318.3Z"/><path fill="url(#g172)" d="M934.0,304.9 L929.0,309.4 L944.7,326.7 L949.7,322.2Z"/><path fill="url(#g173)" d="M929.6,308.8 L924.7,313.3 L940.4,330.7 L945.3,326.2Z"/><path fill="url(#g174)" d="M925.2,312.8 L920.3,317.3 L936.0,334.7 L940.9,330.2Z"/><path fill="url(#g175)" d="M920.9,316.8 L915.9,321.3 L931.6,338.6 L936.6,334.1Z"/><path fill="url(#g176)" d="M916.5,320.7 L911.5,325.2 L927.2,342.6 L932.2,338.1Z"/><path fill="url(#g177)" d="M912.1,324.7 L907.1,329.2 L922.9,346.6 L927.8,342.0Z"/><path fill="url(#g178)" d="M907.7,328.6 L902.7,333.1 L918.5,350.5 L923.4,346.0Z"/><path fill="url(#g179)" d="M903.3,332.6 L898.4,337.1 L914.1,354.5 L919.1,350.0Z"/><path fill="url(#g180)" d="M899.0,336.6 L894.0,341.1 L909.7,358.4 L914.7,353.9Z"/><path fill="url(#g181)" d="M894.6,340.5 L889.6,345.0 L905.4,362.4 L910.3,357.9Z"/><path fill="url(#g182)" d="M890.2,344.5 L885.2,349.0 L901.0,366.4 L905.9,361.9Z"/><path fill="url(#g183)" d="M885.8,348.4 L880.8,352.9 L896.6,370.3 L901.6,365.8Z"/><path fill="url(#g184)" d="M881.4,352.4 L876.5,356.9 L892.2,374.3 L897.2,369.8Z"/><path fill="url(#g185)" d="M877.1,356.4 L872.2,360.7 L887.7,378.4 L892.8,373.8Z"/><path fill="url(#g186)" d="M872.8,360.2 L870.6,362.0 L885.2,380.5 L888.3,377.9Z"/><path fill="url(#g187)" d="M871.3,361.5 L869.0,363.2 L882.6,382.3 L885.8,379.9Z"/><path fill="url(#g188)" d="M869.6,362.7 L864.4,366.3 L877.7,385.7 L883.2,381.9Z"/><path fill="url(#g189)" d="M865.1,365.9 L859.7,369.5 L873.0,388.9 L878.4,385.2Z"/><path fill="url(#g190)" d="M860.4,369.1 L855.0,372.8 L868.4,392.1 L873.7,388.5Z"/><path fill="url(#g191)" d="M855.7,372.3 L850.3,376.0 L863.7,395.4 L869.0,391.7Z"/><path fill="url(#g192)" d="M851.0,375.6 L845.6,379.2 L859.0,398.6 L864.3,394.9Z"/><path fill="url(#g193)" d="M846.3,378.8 L840.9,382.5 L854.3,401.9 L859.6,398.2Z"/><path fill="url(#g194)" d="M841.6,382.0 L836.2,385.7 L849.6,405.1 L854.9,401.4Z"/><path fill="url(#g195)" d="M836.9,385.3 L831.5,388.9 L844.9,408.3 L850.2,404.6Z"/><path fill="url(#g196)" d="M832.2,388.5 L826.8,392.2 L840.2,411.6 L845.6,407.9Z"/><path fill="url(#g197)" d="M827.5,391.7 L822.1,395.4 L835.5,414.8 L840.9,411.1Z"/><path fill="url(#g198)" d="M822.8,395.0 L817.4,398.6 L830.8,418.1 L836.2,414.4Z"/><path fill="url(#g199)" d="M818.1,398.2 L812.7,401.9 L826.1,421.3 L831.5,417.6Z"/><path fill="url(#g200)" d="M813.4,401.4 L808.0,405.1 L821.4,424.5 L826.8,420.8Z"/><path fill="url(#g201)" d="M808.7,404.7 L804.0,407.9 L817.4,427.3 L822.1,424.1Z"/><path d="M1083.4,148.2 L1080.2,152.7 L1077.0,157.2 L1073.8,161.8 L1070.6,166.3 L1067.4,170.8 L1064.2,175.4 L1060.9,179.9 L1057.7,184.4 L1054.5,189.0 L1051.3,193.5 L1048.1,198.0 L1044.9,202.6 L1041.8,206.8 L1040.5,208.5 L1038.9,210.1 L1034.8,213.8 L1030.4,217.8 L1026.0,221.7 L1021.6,225.7 L1017.2,229.7 L1012.8,233.6 L1008.5,237.6 L1004.1,241.5 L999.7,245.5 L995.3,249.5 L990.9,253.4 L986.6,257.4 L982.2,261.3 L977.8,265.3 L973.4,269.3 L969.0,273.2 L964.7,277.2 L960.3,281.1 L955.9,285.1 L951.5,289.0 L947.1,293.0 L942.8,297.0 L938.4,300.9 L934.0,304.9 L929.6,308.8 L925.2,312.8 L920.9,316.8 L916.5,320.7 L912.1,324.7 L907.7,328.6 L903.3,332.6 L899.0,336.6 L894.6,340.5 L890.2,344.5 L885.8,348.4 L881.4,352.4 L877.1,356.4 L872.8,360.2 L871.3,361.5 L869.6,362.7 L865.1,365.9 L860.4,369.1 L855.7,372.3 L851.0,375.6 L846.3,378.8 L841.6,382.0 L836.9,385.3 L832.2,388.5 L827.5,391.7 L822.8,395.0 L818.1,398.2 L813.4,401.4 L808.7,404.7 L804.0,407.9" fill="none" stroke="#111" stroke-width="1.6"/><path d="M1103.8,163.0 L1100.4,167.5 L1097.1,171.9 L1093.8,176.3 L1090.4,180.8 L1087.1,185.2 L1083.7,189.7 L1080.4,194.1 L1077.1,198.5 L1073.7,203.0 L1070.4,207.4 L1067.0,211.9 L1063.7,216.3 L1060.2,221.0 L1057.7,224.1 L1054.9,226.9 L1050.3,231.0 L1046.0,235.0 L1041.6,239.0 L1037.2,242.9 L1032.8,246.9 L1028.5,250.9 L1024.1,254.8 L1019.7,258.8 L1015.3,262.8 L1011.0,266.7 L1006.6,270.7 L1002.2,274.6 L997.8,278.6 L993.5,282.6 L989.1,286.5 L984.7,290.5 L980.3,294.5 L976.0,298.4 L971.6,302.4 L967.2,306.4 L962.8,310.3 L958.4,314.3 L954.1,318.3 L949.7,322.2 L945.3,326.2 L940.9,330.2 L936.6,334.1 L932.2,338.1 L927.8,342.0 L923.4,346.0 L919.1,350.0 L914.7,353.9 L910.3,357.9 L905.9,361.9 L901.6,365.8 L897.2,369.8 L892.8,373.8 L888.3,377.9 L885.8,379.9 L883.2,381.9 L878.4,385.2 L873.7,388.5 L869.0,391.7 L864.3,394.9 L859.6,398.2 L854.9,401.4 L850.2,404.6 L845.6,407.9 L840.9,411.1 L836.2,414.4 L831.5,417.6 L826.8,420.8 L822.1,424.1 L817.4,427.3" fill="none" stroke="#111" stroke-width="1.6"/></g><path d="M1082.6,149.4 C1090.5,151.5 1097.5,162 1093.2,177.5" fill="none" stroke="#2a2a2a" stroke-width="3"/><path d="M1082.4,148.9 C1091,151 1098.2,162 1093.8,177.8" fill="none" stroke="#111" stroke-width="1.5"/><ellipse cx="809.8" cy="416.8" rx="16.6" ry="9" fill="url(#capB)" stroke="#111" stroke-width="1.6"/><path d="M981,295.4 L964,288.6" stroke="#3a3a3a" stroke-width="0.8"/><path d="M861.5,353.5 L870,362" stroke="#b8b8b8" stroke-width="0.9"/><path d="M861,354.5 L869.5,363" stroke="#5a5a5a" stroke-width="0.6"/><path d="M871.5,363.5 L887,381.5" stroke="#d8d8d8" stroke-width="0.9"/><path d="M870.8,364.3 L886.2,382.3" stroke="#3a3a3a" stroke-width="0.7"/><path d="M822.3,215 Q822.3,212.5 825,212.8 L836.4,215 L844,209.6 Q846,208.8 846.2,211 L851,324 L843,327 L828,324 Z" fill="url(#blk)" stroke="#000" stroke-width="1.3" stroke-linejoin="round"/><path d="M836.6,216 L840.5,324.5" stroke="#2e2e2e" stroke-width="1"/><ellipse cx="843.2" cy="218.5" rx="1.3" ry="2.4" fill="#8a8a8a"/><ellipse cx="845.2" cy="278.5" rx="1.3" ry="2.4" fill="#8a8a8a"/><path d="M854.5,335.4 L861.0,329.5 L871.6,331.2 L876.9,337.7 L868.0,345.4 L863.3,339.5 Z" fill="url(#clamp)" stroke="#111" stroke-width="1.3" stroke-linejoin="round"/><path d="M843.5,321.5 L864.0,325.5 L863.5,332.5 L846.0,332.0 Z" fill="#1c1c1c" stroke="#000" stroke-width="1.2" stroke-linejoin="round"/><ellipse cx="856.0" cy="325.0" rx="7.6" ry="6.0" fill="#1e1e1e" stroke="#000" stroke-width="1.2"/><ellipse cx="855.5" cy="323.6" rx="4.4" ry="3.7" fill="#0c0c0c" stroke="#333" stroke-width="0.7"/><ellipse cx="853.2" cy="337.2" rx="4.8" ry="2.5" fill="#a01828" stroke="#1a0a0c" stroke-width="1"/><path d="M947,101.5 Q947,98.6 950,99.2 L960.5,102 Q962.4,102.8 962.5,105 L967.8,218 L951.5,218 Z" fill="url(#blk)" stroke="#000" stroke-width="1.3" stroke-linejoin="round"/><path d="M955.5,103 L958.5,211.5" stroke="#2a2a2a" stroke-width="1"/><ellipse cx="958.3" cy="116.5" rx="1.2" ry="2.2" fill="#7a7a7a"/><ellipse cx="960.3" cy="173" rx="1.2" ry="2.2" fill="#7a7a7a"/><path d="M970.3,232.0 L976.8,226.1 L987.4,227.8 L992.7,234.3 L983.8,242.0 L979.1,236.1 Z" fill="url(#clamp)" stroke="#111" stroke-width="1.3" stroke-linejoin="round"/><path d="M944.5,215.5 L951.5,208.8 L967.0,214.0 L976.0,218.5 L976.0,226.5 L960.0,229.5 L947.0,221.0 Z" fill="#1c1c1c" stroke="#000" stroke-width="1.2" stroke-linejoin="round"/><ellipse cx="968.2" cy="221.9" rx="8.6" ry="6.2" fill="#1e1e1e" stroke="#000" stroke-width="1.2"/><ellipse cx="967.7" cy="220.5" rx="5.0" ry="3.8" fill="#0c0c0c" stroke="#333" stroke-width="0.7"/><ellipse cx="969.0" cy="233.8" rx="4.8" ry="2.5" fill="#a01828" stroke="#1a0a0c" stroke-width="1"/><g transform="translate(892.2 86.0) rotate(25.1)"><rect x="0" y="-2.5" width="22.9" height="5.0" rx="1.2" fill="url(#rshaft)" stroke="#1a0a0c" stroke-width="1.1"/><rect x="-3.6" y="-5.6" width="6.2" height="11.2" rx="2" fill="url(#rhead)" stroke="#1a0a0c" stroke-width="1.1"/><ellipse cx="-3.2" cy="0" rx="1.6" ry="5.2" fill="#6a0a16" stroke="#1a0a0c" stroke-width="0.9"/></g><ellipse cx="917.7" cy="96.8" rx="3.2" ry="4.2" transform="rotate(-20 917.7 96.8)" fill="#151515" stroke="#000" stroke-width="1"/><circle cx="917.1" cy="96.8" r="0.7" fill="#999"/><ellipse cx="924.0" cy="100.0" rx="5.6" ry="7.8" transform="rotate(18 924.0 100.0)" fill="url(#rwash)" stroke="#1a0a0c" stroke-width="1.2"/><ellipse cx="924.5" cy="100.0" rx="1.5" ry="2.1" fill="#2a0408"/><g transform="translate(894.8 144.0) rotate(25.7)"><rect x="0" y="-2.5" width="23.1" height="5.0" rx="1.2" fill="url(#rshaft)" stroke="#1a0a0c" stroke-width="1.1"/><rect x="-3.6" y="-5.6" width="6.2" height="11.2" rx="2" fill="url(#rhead)" stroke="#1a0a0c" stroke-width="1.1"/><ellipse cx="-3.2" cy="0" rx="1.6" ry="5.2" fill="#6a0a16" stroke="#1a0a0c" stroke-width="0.9"/></g><ellipse cx="920.6" cy="155.7" rx="3.2" ry="4.2" transform="rotate(-20 920.6 155.7)" fill="#151515" stroke="#000" stroke-width="1"/><circle cx="920.0" cy="155.7" r="0.7" fill="#999"/><ellipse cx="928.2" cy="157.7" rx="5.6" ry="7.8" transform="rotate(18 928.2 157.7)" fill="url(#rwash)" stroke="#1a0a0c" stroke-width="1.2"/><ellipse cx="928.7" cy="157.7" rx="1.5" ry="2.1" fill="#2a0408"/><g transform="translate(777.0 190.7) rotate(22.5)"><rect x="0" y="-2.5" width="21.7" height="5.0" rx="1.2" fill="url(#rshaft)" stroke="#1a0a0c" stroke-width="1.1"/><rect x="-3.6" y="-5.6" width="6.2" height="11.2" rx="2" fill="url(#rhead)" stroke="#1a0a0c" stroke-width="1.1"/><ellipse cx="-3.2" cy="0" rx="1.6" ry="5.2" fill="#6a0a16" stroke="#1a0a0c" stroke-width="0.9"/></g><ellipse cx="801.9" cy="201.4" rx="3.2" ry="4.2" transform="rotate(-20 801.9 201.4)" fill="#151515" stroke="#000" stroke-width="1"/><circle cx="801.3" cy="201.4" r="0.7" fill="#999"/><ellipse cx="808.1" cy="203.7" rx="5.6" ry="7.8" transform="rotate(18 808.1 203.7)" fill="url(#rwash)" stroke="#1a0a0c" stroke-width="1.2"/><ellipse cx="808.6" cy="203.7" rx="1.5" ry="2.1" fill="#2a0408"/><g transform="translate(778.9 249.0) rotate(25.2)"><rect x="0" y="-2.5" width="22.1" height="5.0" rx="1.2" fill="url(#rshaft)" stroke="#1a0a0c" stroke-width="1.1"/><rect x="-3.6" y="-5.6" width="6.2" height="11.2" rx="2" fill="url(#rhead)" stroke="#1a0a0c" stroke-width="1.1"/><ellipse cx="-3.2" cy="0" rx="1.6" ry="5.2" fill="#6a0a16" stroke="#1a0a0c" stroke-width="0.9"/></g><ellipse cx="804.8" cy="260.7" rx="3.2" ry="4.2" transform="rotate(-20 804.8 260.7)" fill="#151515" stroke="#000" stroke-width="1"/><circle cx="804.2" cy="260.7" r="0.7" fill="#999"/><ellipse cx="812.6" cy="263.2" rx="5.6" ry="7.8" transform="rotate(18 812.6 263.2)" fill="url(#rwash)" stroke="#1a0a0c" stroke-width="1.2"/><ellipse cx="813.1" cy="263.2" rx="1.5" ry="2.1" fill="#2a0408"/><path d="M865.5,235.0 L881.0,223.0 L881.6,235.0 L867.0,244.6Z" fill="url(#rnut)" stroke="#1a0a0c" stroke-width="1.2" stroke-linejoin="round"/><ellipse cx="874.5" cy="236.5" rx="3.6" ry="3.2" fill="#7a0e1a" stroke="#2a0208" stroke-width="0.8"/><ellipse cx="873.7" cy="235.7" rx="1.6" ry="1.4" fill="#a01828"/><path d="M868.5,293.2 L883.0,281.2 L883.5,292.2 L869.0,303.7Z" fill="url(#rnut)" stroke="#1a0a0c" stroke-width="1.2" stroke-linejoin="round"/><ellipse cx="877.0" cy="294.5" rx="3.6" ry="3.2" fill="#7a0e1a" stroke="#2a0208" stroke-width="0.8"/><ellipse cx="876.2" cy="293.7" rx="1.6" ry="1.4" fill="#a01828"/><path d="M984.3,187.3 L999.2,177.5 L999.8,188.6 L985.6,197.7Z" fill="url(#rnut)" stroke="#1a0a0c" stroke-width="1.2" stroke-linejoin="round"/><ellipse cx="992.5" cy="189.0" rx="3.6" ry="3.2" fill="#7a0e1a" stroke="#2a0208" stroke-width="0.8"/><ellipse cx="991.7" cy="188.2" rx="1.6" ry="1.4" fill="#a01828"/></svg>
<div class="t" style="left:55.96px;top:134.66px;font-size:23.2px;font-weight:700;color:#fff;letter-spacing:1.229px;transform:scaleX(1.0400);">Kia Sportage</div>
<div class="t" style="left:54.96px;top:289.85px;font-size:23.8px;font-weight:700;color:#fff;transform:scaleX(1.0360);">СОСТАВ КРЕПЕЖА</div>
<div class="t" style="left:55.46px;top:524.79px;font-size:23.4px;font-weight:700;color:#fff;letter-spacing:0.506px;transform:scaleX(1.0400);">ИНСТРУКЦИЯ ПО УСТАНОВКЕ</div>
<div class="t" style="left:48.00px;top:173.41px;font-size:15.7px;font-weight:700;letter-spacing:0.419px;transform:scaleX(1.1800);-webkit-text-stroke:0.25px #111;">Артикул:</div>
<div class="t" style="left:46.82px;top:193.51px;font-size:15.7px;font-weight:700;letter-spacing:0.688px;transform:scaleX(1.1800);-webkit-text-stroke:0.25px #111;">Кузов:</div>
<div class="t" style="left:46.82px;top:213.51px;font-size:15.7px;font-weight:700;letter-spacing:0.471px;transform:scaleX(1.1800);-webkit-text-stroke:0.25px #111;">Год выпуска:</div>
<div class="t" style="left:46.82px;top:233.51px;font-size:15.7px;font-weight:700;letter-spacing:0.374px;transform:scaleX(1.1800);-webkit-text-stroke:0.25px #111;">Объем двигателя:</div>
<div class="t" style="left:48.00px;top:253.61px;font-size:15.7px;font-weight:700;letter-spacing:0.697px;transform:scaleX(1.1800);-webkit-text-stroke:0.25px #111;">Тип КПП:</div>
<div class="t" style="left:227.18px;top:173.16px;font-size:16px;letter-spacing:0.558px;transform:scaleX(1.1200);-webkit-text-stroke:0.20px #111;">R.2806.002 Защита переднего бампера d57xd42</div>
<div class="t" style="left:227.22px;top:193.46px;font-size:16px;transform:scaleX(1.0769);-webkit-text-stroke:0.20px #111;">Все</div>
<div class="t" style="left:227.18px;top:213.56px;font-size:16px;letter-spacing:0.661px;transform:scaleX(1.1200);-webkit-text-stroke:0.20px #111;">2010</div>
<div class="t" style="left:227.22px;top:233.46px;font-size:16px;transform:scaleX(1.0769);-webkit-text-stroke:0.20px #111;">Все</div>
<div class="t" style="left:227.22px;top:253.36px;font-size:16px;transform:scaleX(1.0769);-webkit-text-stroke:0.20px #111;">Все</div>
<div class="t" style="left:37.58px;top:321.19px;font-size:16.9px;letter-spacing:0.802px;transform:scaleX(1.1200);-webkit-text-stroke:0.20px #111;">1.Болт M8x30</div>
<div class="t" style="left:390.68px;top:321.19px;font-size:16.9px;letter-spacing:0.500px;transform:scaleX(1.1200);-webkit-text-stroke:0.20px #111;">2 Шт.</div>
<div class="t" style="left:37.58px;top:339.26px;font-size:16.9px;letter-spacing:0.802px;transform:scaleX(1.1200);-webkit-text-stroke:0.20px #111;">2.Болт M8x60</div>
<div class="t" style="left:390.68px;top:339.26px;font-size:16.9px;letter-spacing:0.500px;transform:scaleX(1.1200);-webkit-text-stroke:0.20px #111;">2 Шт.</div>
<div class="t" style="left:37.58px;top:357.33px;font-size:16.9px;letter-spacing:0.833px;transform:scaleX(1.1200);-webkit-text-stroke:0.20px #111;">3.Болт M10x40</div>
<div class="t" style="left:391.80px;top:357.33px;font-size:16.9px;letter-spacing:0.250px;transform:scaleX(1.1200);-webkit-text-stroke:0.20px #111;">4 Шт.</div>
<div class="t" style="left:38.70px;top:375.40px;font-size:16.9px;letter-spacing:0.879px;transform:scaleX(1.1200);-webkit-text-stroke:0.20px #111;">4.Шайба 8</div>
<div class="t" style="left:391.80px;top:375.40px;font-size:16.9px;letter-spacing:0.250px;transform:scaleX(1.1200);-webkit-text-stroke:0.20px #111;">4 Шт.</div>
<div class="t" style="left:37.58px;top:393.47px;font-size:16.9px;letter-spacing:1.024px;transform:scaleX(1.1200);-webkit-text-stroke:0.20px #111;">5.Шайба 10</div>
<div class="t" style="left:391.80px;top:393.47px;font-size:16.9px;letter-spacing:0.250px;transform:scaleX(1.1200);-webkit-text-stroke:0.20px #111;">4 Шт.</div>
<div class="t" style="left:37.58px;top:411.54px;font-size:16.9px;letter-spacing:1.127px;transform:scaleX(1.1200);-webkit-text-stroke:0.20px #111;">6.Шайба пружинная 8</div>
<div class="t" style="left:391.80px;top:411.54px;font-size:16.9px;letter-spacing:0.250px;transform:scaleX(1.1200);-webkit-text-stroke:0.20px #111;">4 Шт.</div>
<div class="t" style="left:37.58px;top:429.61px;font-size:16.9px;letter-spacing:1.101px;transform:scaleX(1.1200);-webkit-text-stroke:0.20px #111;">7.Шайба пружинная 10</div>
<div class="t" style="left:391.80px;top:429.61px;font-size:16.9px;letter-spacing:0.250px;transform:scaleX(1.1200);-webkit-text-stroke:0.20px #111;">4 Шт.</div>
<div class="t" style="left:37.58px;top:447.68px;font-size:16.9px;letter-spacing:0.747px;transform:scaleX(1.1200);-webkit-text-stroke:0.20px #111;">8.Втулка</div>
<div class="t" style="left:390.68px;top:447.68px;font-size:16.9px;letter-spacing:0.500px;transform:scaleX(1.1200);-webkit-text-stroke:0.20px #111;">2 Шт.</div>
<div class="t" style="left:37.58px;top:465.75px;font-size:16.9px;letter-spacing:0.995px;transform:scaleX(1.1200);-webkit-text-stroke:0.20px #111;">9.Гайка закладная M10</div>
<div class="t" style="left:391.80px;top:465.75px;font-size:16.9px;letter-spacing:0.250px;transform:scaleX(1.1200);-webkit-text-stroke:0.20px #111;">4 Шт.</div>
<div class="t" style="left:37.58px;top:483.82px;font-size:16.9px;letter-spacing:1.015px;transform:scaleX(1.1200);-webkit-text-stroke:0.20px #111;">10.Кронштейн правый</div>
<div class="t" style="left:392.08px;top:483.82px;font-size:16.9px;letter-spacing:0.188px;transform:scaleX(1.1200);-webkit-text-stroke:0.20px #111;">1 Шт.</div>
<div class="t" style="left:37.58px;top:501.89px;font-size:16.9px;letter-spacing:0.980px;transform:scaleX(1.1200);-webkit-text-stroke:0.20px #111;">11.Кронштейн левый</div>
<div class="t" style="left:392.08px;top:501.89px;font-size:16.9px;letter-spacing:0.188px;transform:scaleX(1.1200);-webkit-text-stroke:0.20px #111;">1 Шт.</div>
<div class="t" style="left:59.88px;top:567.40px;font-size:16.3px;color:#1a1a1a;letter-spacing:0.874px;transform:scaleX(1.1200);-webkit-text-stroke:0.20px #1a1a1a;">1. Установить кронштейны на профиль бампера при помощи гаек закладных M10 и болтов M10, предварительно</div>
<div class="t" style="left:39.00px;top:587.00px;font-size:16.3px;color:#1a1a1a;letter-spacing:0.917px;transform:scaleX(1.1200);-webkit-text-stroke:0.20px #1a1a1a;">демонтировать пластиковый пыльник (рис.1). После установки вернуть пыльник на штатное место.</div>
<div class="t" style="left:59.88px;top:606.50px;font-size:16.3px;color:#1a1a1a;letter-spacing:0.862px;transform:scaleX(1.1200);-webkit-text-stroke:0.20px #1a1a1a;">2. Закрепить длинные лапы защиты бампера в штатных отверстиях крепления пыльника болтами M8x60 через</div>
<div class="t" style="left:38.68px;top:626.00px;font-size:16.3px;color:#1a1a1a;letter-spacing:1.362px;transform:scaleX(1.1200);-webkit-text-stroke:0.20px #1a1a1a;">втулки (рис.2).</div>
<div class="t" style="left:59.88px;top:645.60px;font-size:16.3px;color:#1a1a1a;letter-spacing:0.885px;transform:scaleX(1.1200);-webkit-text-stroke:0.20px #1a1a1a;">3. Закрепить короткие лапы защиты бампера на установленные кронштейны при помощи болтов M8x30.</div>
<div class="t" style="left:61.00px;top:665.10px;font-size:16.3px;color:#1a1a1a;letter-spacing:0.822px;transform:scaleX(1.1200);-webkit-text-stroke:0.20px #1a1a1a;">4. Отрегулировать положение защиты.</div>
<div class="t" style="left:59.88px;top:684.60px;font-size:16.3px;color:#1a1a1a;letter-spacing:0.887px;transform:scaleX(1.1200);-webkit-text-stroke:0.20px #1a1a1a;">5. Затянуть все резьбовые соединения. Не использовать пневмо-инструмент. (M10-50Нм, M8-30Нм).</div>
<div class="t" style="left:735.25px;top:107.86px;font-size:13.4px;transform:scaleX(1.0514);-webkit-text-stroke:0.15px #111;">Кронштейн левый</div>
<div class="t" style="left:617.66px;top:264.46px;font-size:13.4px;transform:scaleX(1.0375);-webkit-text-stroke:0.15px #111;">Болт M10x40</div>
<div class="t" style="left:617.62px;top:281.06px;font-size:13.4px;transform:scaleX(1.0753);-webkit-text-stroke:0.15px #111;">Шайба 10 пр.</div>
<div class="t" style="left:617.63px;top:297.36px;font-size:13.4px;transform:scaleX(1.0678);-webkit-text-stroke:0.15px #111;">Шайба 10</div>
<div class="t" style="left:634.25px;top:327.36px;font-size:13.4px;transform:scaleX(1.0500);-webkit-text-stroke:0.15px #111;">Кронштейн правый</div>
<div class="t" style="left:548.69px;top:363.66px;font-size:13.4px;transform:scaleX(1.0119);-webkit-text-stroke:0.15px #111;">Втулка</div>
<div class="t" style="left:508.16px;top:400.86px;font-size:13.4px;transform:scaleX(1.0361);-webkit-text-stroke:0.15px #111;">Болт M8x60</div>
<div class="t" style="left:508.13px;top:417.66px;font-size:13.4px;transform:scaleX(1.0726);-webkit-text-stroke:0.15px #111;">Шайба 8 пр.</div>
<div class="t" style="left:508.15px;top:434.16px;font-size:13.4px;transform:scaleX(1.0500);-webkit-text-stroke:0.15px #111;">Шайба 8</div>
<div class="t" style="left:922.17px;top:382.96px;font-size:13.4px;transform:scaleX(1.0347);-webkit-text-stroke:0.15px #111;">Болт M8x30</div>
<div class="t" style="left:922.12px;top:399.86px;font-size:13.4px;transform:scaleX(1.0795);-webkit-text-stroke:0.15px #111;">Шайба 8 пр.</div>
<div class="t" style="left:922.15px;top:416.46px;font-size:13.4px;transform:scaleX(1.0500);-webkit-text-stroke:0.15px #111;">Шайба 8</div>
<div class="t" style="left:1040.19px;top:310.36px;font-size:13.4px;transform:scaleX(1.0144);-webkit-text-stroke:0.15px #111;">Защита бампера</div>
<i style="left:170px;top:333px"></i>
<i style="left:178px;top:333px"></i>
<i style="left:185px;top:333px"></i>
<i style="left:192px;top:333px"></i>
<i style="left:200px;top:333px"></i>
<i style="left:207px;top:333px"></i>
<i style="left:214px;top:333px"></i>
<i style="left:222px;top:333px"></i>
<i style="left:229px;top:333px"></i>
<i style="left:236px;top:333px"></i>
<i style="left:244px;top:333px"></i>
<i style="left:251px;top:333px"></i>
<i style="left:258px;top:333px"></i>
<i style="left:266px;top:333px"></i>
<i style="left:273px;top:333px"></i>
<i style="left:280px;top:333px"></i>
<i style="left:287px;top:333px"></i>
<i style="left:295px;top:333px"></i>
<i style="left:302px;top:333px"></i>
<i style="left:309px;top:333px"></i>
<i style="left:317px;top:333px"></i>
<i style="left:324px;top:333px"></i>
<i style="left:331px;top:333px"></i>
<i style="left:339px;top:333px"></i>
<i style="left:346px;top:333px"></i>
<i style="left:353px;top:333px"></i>
<i style="left:361px;top:333px"></i>
<i style="left:368px;top:333px"></i>
<i style="left:170px;top:351px"></i>
<i style="left:178px;top:351px"></i>
<i style="left:185px;top:351px"></i>
<i style="left:192px;top:351px"></i>
<i style="left:200px;top:351px"></i>
<i style="left:207px;top:351px"></i>
<i style="left:214px;top:351px"></i>
<i style="left:222px;top:351px"></i>
<i style="left:229px;top:351px"></i>
<i style="left:236px;top:351px"></i>
<i style="left:244px;top:351px"></i>
<i style="left:251px;top:351px"></i>
<i style="left:258px;top:351px"></i>
<i style="left:266px;top:351px"></i>
<i style="left:273px;top:351px"></i>
<i style="left:280px;top:351px"></i>
<i style="left:287px;top:351px"></i>
<i style="left:295px;top:351px"></i>
<i style="left:302px;top:351px"></i>
<i style="left:309px;top:351px"></i>
<i style="left:317px;top:351px"></i>
<i style="left:324px;top:351px"></i>
<i style="left:331px;top:351px"></i>
<i style="left:339px;top:351px"></i>
<i style="left:346px;top:351px"></i>
<i style="left:353px;top:351px"></i>
<i style="left:361px;top:351px"></i>
<i style="left:368px;top:351px"></i>
<i style="left:182px;top:369px"></i>
<i style="left:189px;top:369px"></i>
<i style="left:197px;top:369px"></i>
<i style="left:204px;top:369px"></i>
<i style="left:211px;top:369px"></i>
<i style="left:219px;top:369px"></i>
<i style="left:226px;top:369px"></i>
<i style="left:233px;top:369px"></i>
<i style="left:240px;top:369px"></i>
<i style="left:248px;top:369px"></i>
<i style="left:255px;top:369px"></i>
<i style="left:262px;top:369px"></i>
<i style="left:270px;top:369px"></i>
<i style="left:277px;top:369px"></i>
<i style="left:284px;top:369px"></i>
<i style="left:292px;top:369px"></i>
<i style="left:299px;top:369px"></i>
<i style="left:306px;top:369px"></i>
<i style="left:314px;top:369px"></i>
<i style="left:321px;top:369px"></i>
<i style="left:328px;top:369px"></i>
<i style="left:336px;top:369px"></i>
<i style="left:343px;top:369px"></i>
<i style="left:350px;top:369px"></i>
<i style="left:358px;top:369px"></i>
<i style="left:365px;top:369px"></i>
<i style="left:140px;top:387px"></i>
<i style="left:148px;top:387px"></i>
<i style="left:155px;top:387px"></i>
<i style="left:162px;top:387px"></i>
<i style="left:170px;top:387px"></i>
<i style="left:177px;top:387px"></i>
<i style="left:184px;top:387px"></i>
<i style="left:191px;top:387px"></i>
<i style="left:199px;top:387px"></i>
<i style="left:206px;top:387px"></i>
<i style="left:213px;top:387px"></i>
<i style="left:221px;top:387px"></i>
<i style="left:228px;top:387px"></i>
<i style="left:235px;top:387px"></i>
<i style="left:242px;top:387px"></i>
<i style="left:250px;top:387px"></i>
<i style="left:257px;top:387px"></i>
<i style="left:264px;top:387px"></i>
<i style="left:271px;top:387px"></i>
<i style="left:279px;top:387px"></i>
<i style="left:286px;top:387px"></i>
<i style="left:293px;top:387px"></i>
<i style="left:301px;top:387px"></i>
<i style="left:308px;top:387px"></i>
<i style="left:315px;top:387px"></i>
<i style="left:322px;top:387px"></i>
<i style="left:330px;top:387px"></i>
<i style="left:337px;top:387px"></i>
<i style="left:344px;top:387px"></i>
<i style="left:351px;top:387px"></i>
<i style="left:359px;top:387px"></i>
<i style="left:366px;top:387px"></i>
<i style="left:152px;top:405px"></i>
<i style="left:159px;top:405px"></i>
<i style="left:166px;top:405px"></i>
<i style="left:174px;top:405px"></i>
<i style="left:181px;top:405px"></i>
<i style="left:188px;top:405px"></i>
<i style="left:196px;top:405px"></i>
<i style="left:203px;top:405px"></i>
<i style="left:210px;top:405px"></i>
<i style="left:217px;top:405px"></i>
<i style="left:225px;top:405px"></i>
<i style="left:232px;top:405px"></i>
<i style="left:239px;top:405px"></i>
<i style="left:247px;top:405px"></i>
<i style="left:254px;top:405px"></i>
<i style="left:261px;top:405px"></i>
<i style="left:268px;top:405px"></i>
<i style="left:276px;top:405px"></i>
<i style="left:283px;top:405px"></i>
<i style="left:290px;top:405px"></i>
<i style="left:298px;top:405px"></i>
<i style="left:305px;top:405px"></i>
<i style="left:312px;top:405px"></i>
<i style="left:319px;top:405px"></i>
<i style="left:327px;top:405px"></i>
<i style="left:334px;top:405px"></i>
<i style="left:341px;top:405px"></i>
<i style="left:349px;top:405px"></i>
<i style="left:356px;top:405px"></i>
<i style="left:363px;top:405px"></i>
<i style="left:254px;top:423px"></i>
<i style="left:261px;top:423px"></i>
<i style="left:269px;top:423px"></i>
<i style="left:276px;top:423px"></i>
<i style="left:283px;top:423px"></i>
<i style="left:290px;top:423px"></i>
<i style="left:298px;top:423px"></i>
<i style="left:305px;top:423px"></i>
<i style="left:312px;top:423px"></i>
<i style="left:320px;top:423px"></i>
<i style="left:327px;top:423px"></i>
<i style="left:334px;top:423px"></i>
<i style="left:342px;top:423px"></i>
<i style="left:349px;top:423px"></i>
<i style="left:356px;top:423px"></i>
<i style="left:364px;top:423px"></i>
<i style="left:266px;top:441px"></i>
<i style="left:273px;top:441px"></i>
<i style="left:280px;top:441px"></i>
<i style="left:288px;top:441px"></i>
<i style="left:295px;top:441px"></i>
<i style="left:302px;top:441px"></i>
<i style="left:310px;top:441px"></i>
<i style="left:317px;top:441px"></i>
<i style="left:324px;top:441px"></i>
<i style="left:332px;top:441px"></i>
<i style="left:339px;top:441px"></i>
<i style="left:346px;top:441px"></i>
<i style="left:353px;top:441px"></i>
<i style="left:361px;top:441px"></i>
<i style="left:123px;top:459px"></i>
<i style="left:130px;top:459px"></i>
<i style="left:137px;top:459px"></i>
<i style="left:144px;top:459px"></i>
<i style="left:151px;top:459px"></i>
<i style="left:158px;top:459px"></i>
<i style="left:166px;top:459px"></i>
<i style="left:173px;top:459px"></i>
<i style="left:180px;top:459px"></i>
<i style="left:187px;top:459px"></i>
<i style="left:194px;top:459px"></i>
<i style="left:201px;top:459px"></i>
<i style="left:208px;top:459px"></i>
<i style="left:215px;top:459px"></i>
<i style="left:223px;top:459px"></i>
<i style="left:230px;top:459px"></i>
<i style="left:237px;top:459px"></i>
<i style="left:244px;top:459px"></i>
<i style="left:251px;top:459px"></i>
<i style="left:258px;top:459px"></i>
<i style="left:265px;top:459px"></i>
<i style="left:272px;top:459px"></i>
<i style="left:280px;top:459px"></i>
<i style="left:287px;top:459px"></i>
<i style="left:294px;top:459px"></i>
<i style="left:301px;top:459px"></i>
<i style="left:308px;top:459px"></i>
<i style="left:315px;top:459px"></i>
<i style="left:322px;top:459px"></i>
<i style="left:329px;top:459px"></i>
<i style="left:337px;top:459px"></i>
<i style="left:344px;top:459px"></i>
<i style="left:351px;top:459px"></i>
<i style="left:358px;top:459px"></i>
<i style="left:365px;top:459px"></i>
<i style="left:267px;top:477px"></i>
<i style="left:274px;top:477px"></i>
<i style="left:282px;top:477px"></i>
<i style="left:289px;top:477px"></i>
<i style="left:296px;top:477px"></i>
<i style="left:304px;top:477px"></i>
<i style="left:311px;top:477px"></i>
<i style="left:318px;top:477px"></i>
<i style="left:326px;top:477px"></i>
<i style="left:333px;top:477px"></i>
<i style="left:340px;top:477px"></i>
<i style="left:348px;top:477px"></i>
<i style="left:355px;top:477px"></i>
<i style="left:362px;top:477px"></i>
<i style="left:370px;top:477px"></i>
<i style="left:255px;top:496px"></i>
<i style="left:262px;top:496px"></i>
<i style="left:270px;top:496px"></i>
<i style="left:277px;top:496px"></i>
<i style="left:284px;top:496px"></i>
<i style="left:292px;top:496px"></i>
<i style="left:299px;top:496px"></i>
<i style="left:307px;top:496px"></i>
<i style="left:314px;top:496px"></i>
<i style="left:321px;top:496px"></i>
<i style="left:329px;top:496px"></i>
<i style="left:336px;top:496px"></i>
<i style="left:343px;top:496px"></i>
<i style="left:351px;top:496px"></i>
<i style="left:358px;top:496px"></i>
<i style="left:366px;top:496px"></i>
<i style="left:242px;top:514px"></i>
<i style="left:249px;top:514px"></i>
<i style="left:256px;top:514px"></i>
<i style="left:263px;top:514px"></i>
<i style="left:270px;top:514px"></i>
<i style="left:277px;top:514px"></i>
<i style="left:284px;top:514px"></i>
<i style="left:291px;top:514px"></i>
<i style="left:298px;top:514px"></i>
<i style="left:305px;top:514px"></i>
<i style="left:312px;top:514px"></i>
<i style="left:319px;top:514px"></i>
<i style="left:326px;top:514px"></i>
<i style="left:333px;top:514px"></i>
<i style="left:340px;top:514px"></i>
<i style="left:347px;top:514px"></i>
<i style="left:354px;top:514px"></i>
<i style="left:361px;top:514px"></i>
</body></html>
